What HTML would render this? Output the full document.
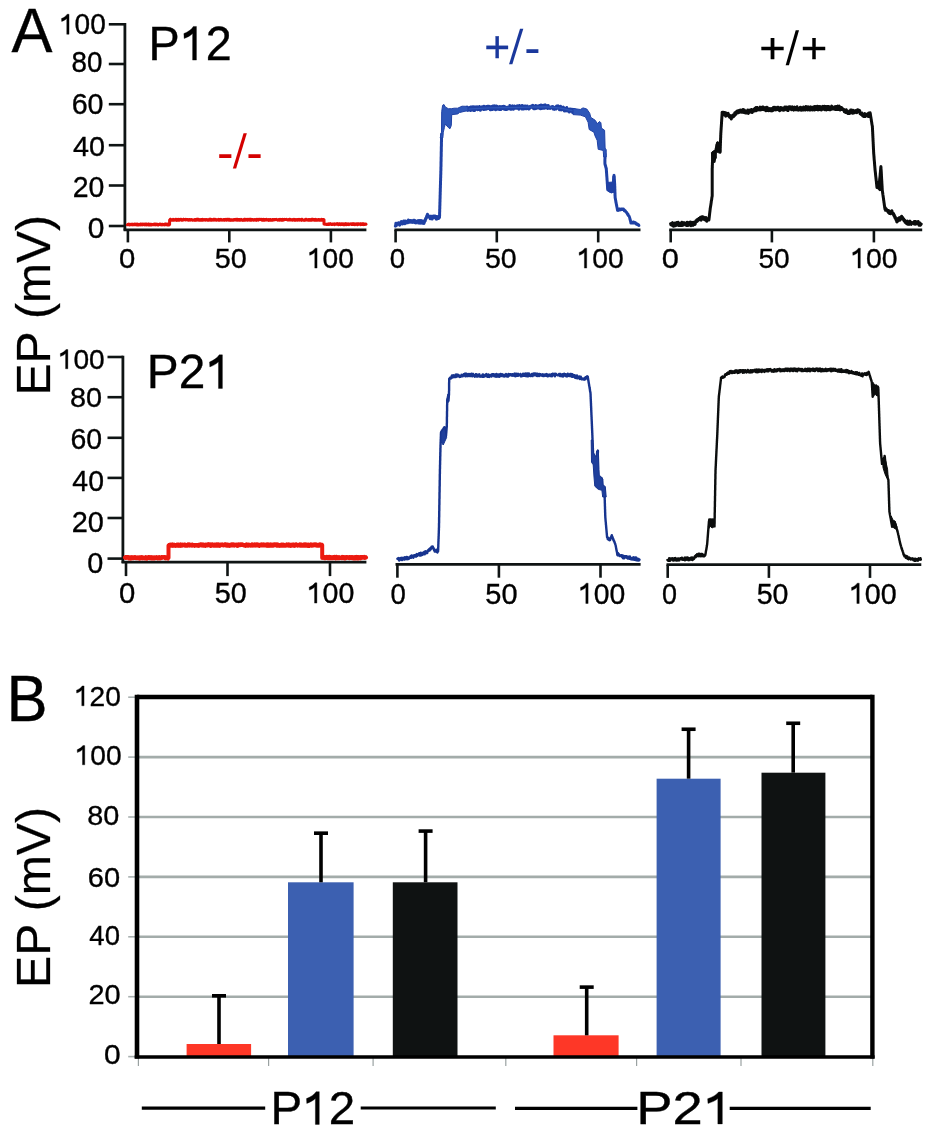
<!DOCTYPE html>
<html><head><meta charset="utf-8"><title>EP figure</title>
<style>
html,body{margin:0;padding:0;background:#fff;}
body{width:935px;height:1136px;overflow:hidden;}
svg{display:block;font-family:"Liberation Sans", sans-serif;will-change:transform;filter:blur(0.45px);}
</style></head>
<body>
<svg width="935" height="1136" viewBox="0 0 935 1136">
<rect width="935" height="1136" fill="#fff"/>
<g transform="translate(11.48,52.30) scale(0.9901,1.0292)"><text font-size="62" fill="#000" stroke="#000" stroke-width="0.35">A</text></g>
<text transform="translate(50.20,395.54) rotate(-90) scale(1.0013,1.0174)" font-size="48" fill="#000" stroke="#000" stroke-width="0.25">EP (mV)</text>
<line x1="124.9" y1="23.0" x2="124.9" y2="230.5" stroke="#0f1414" stroke-width="2.8" stroke-linecap="butt"/>
<line x1="108.8" y1="24.3" x2="124.9" y2="24.3" stroke="#0f1414" stroke-width="2.6" stroke-linecap="butt"/>
<line x1="108.8" y1="64.0" x2="124.9" y2="64.0" stroke="#0f1414" stroke-width="2.6" stroke-linecap="butt"/>
<line x1="108.8" y1="104.2" x2="124.9" y2="104.2" stroke="#0f1414" stroke-width="2.6" stroke-linecap="butt"/>
<line x1="108.8" y1="145.2" x2="124.9" y2="145.2" stroke="#0f1414" stroke-width="2.6" stroke-linecap="butt"/>
<line x1="108.8" y1="185.5" x2="124.9" y2="185.5" stroke="#0f1414" stroke-width="2.6" stroke-linecap="butt"/>
<line x1="108.8" y1="226.0" x2="124.9" y2="226.0" stroke="#0f1414" stroke-width="2.6" stroke-linecap="butt"/>
<g transform="translate(58.97,34.31) scale(0.9679,0.9936)"><text font-size="29" fill="#000" stroke="#000" stroke-width="0.35">&#8199;00</text><path d="M 359 0 L 359 -697 L 292 -697 C 255 -635 175 -582 90 -549 L 96 -447 C 170 -472 235 -508 277 -552 L 277 0 Z" fill="#000" stroke="#000" stroke-width="12.07" transform="translate(0.00,0) scale(0.0290)"/></g>
<g transform="translate(71.51,72.41) scale(0.9575,0.9887)"><text font-size="29" fill="#000" stroke="#000" stroke-width="0.35">80</text></g>
<g transform="translate(71.64,114.11) scale(0.9886,1.0082)"><text font-size="29" fill="#000" stroke="#000" stroke-width="0.35">60</text></g>
<g transform="translate(73.04,156.12) scale(0.9918,0.9790)"><text font-size="29" fill="#000" stroke="#000" stroke-width="0.35">40</text></g>
<g transform="translate(72.78,196.81) scale(0.9809,1.0033)"><text font-size="29" fill="#000" stroke="#000" stroke-width="0.35">20</text></g>
<g transform="translate(87.83,238.01) scale(1.0316,1.0082)"><text font-size="29" fill="#000" stroke="#000" stroke-width="0.35">0</text></g>
<line x1="123.6" y1="229.9" x2="366.4" y2="229.9" stroke="#0f1414" stroke-width="2.8" stroke-linecap="butt"/>
<line x1="127.9" y1="229.9" x2="127.9" y2="242.4" stroke="#0f1414" stroke-width="2.6" stroke-linecap="butt"/>
<line x1="229.3" y1="229.9" x2="229.3" y2="242.4" stroke="#0f1414" stroke-width="2.6" stroke-linecap="butt"/>
<line x1="330.9" y1="229.9" x2="330.9" y2="242.4" stroke="#0f1414" stroke-width="2.6" stroke-linecap="butt"/>
<line x1="394.4" y1="229.9" x2="640.5" y2="229.9" stroke="#0f1414" stroke-width="2.8" stroke-linecap="butt"/>
<line x1="395.6" y1="229.9" x2="395.6" y2="242.4" stroke="#0f1414" stroke-width="2.6" stroke-linecap="butt"/>
<line x1="496.8" y1="229.9" x2="496.8" y2="242.4" stroke="#0f1414" stroke-width="2.6" stroke-linecap="butt"/>
<line x1="598.2" y1="229.9" x2="598.2" y2="242.4" stroke="#0f1414" stroke-width="2.6" stroke-linecap="butt"/>
<line x1="669.2" y1="229.9" x2="922.2" y2="229.9" stroke="#0f1414" stroke-width="2.8" stroke-linecap="butt"/>
<line x1="670.7" y1="229.9" x2="670.7" y2="242.4" stroke="#0f1414" stroke-width="2.6" stroke-linecap="butt"/>
<line x1="771.9" y1="229.9" x2="771.9" y2="242.4" stroke="#0f1414" stroke-width="2.6" stroke-linecap="butt"/>
<line x1="873.9" y1="229.9" x2="873.9" y2="242.4" stroke="#0f1414" stroke-width="2.6" stroke-linecap="butt"/>
<g transform="translate(119.06,268.11) scale(1.0100,0.9838)"><text font-size="29" fill="#000" stroke="#000" stroke-width="0.35">0</text></g>
<g transform="translate(214.85,268.11) scale(0.9914,0.9838)"><text font-size="29" fill="#000" stroke="#000" stroke-width="0.35">50</text></g>
<g transform="translate(306.97,268.11) scale(0.9702,0.9838)"><text font-size="29" fill="#000" stroke="#000" stroke-width="0.35">&#8199;00</text><path d="M 359 0 L 359 -697 L 292 -697 C 255 -635 175 -582 90 -549 L 96 -447 C 170 -472 235 -508 277 -552 L 277 0 Z" fill="#000" stroke="#000" stroke-width="12.07" transform="translate(0.00,0) scale(0.0290)"/></g>
<g transform="translate(389.72,268.11) scale(0.9522,0.9838)"><text font-size="29" fill="#000" stroke="#000" stroke-width="0.35">0</text></g>
<g transform="translate(484.96,268.11) scale(0.9847,0.9838)"><text font-size="29" fill="#000" stroke="#000" stroke-width="0.35">50</text></g>
<g transform="translate(576.56,268.11) scale(0.9747,0.9838)"><text font-size="29" fill="#000" stroke="#000" stroke-width="0.35">&#8199;00</text><path d="M 359 0 L 359 -697 L 292 -697 C 255 -635 175 -582 90 -549 L 96 -447 C 170 -472 235 -508 277 -552 L 277 0 Z" fill="#000" stroke="#000" stroke-width="12.07" transform="translate(0.00,0) scale(0.0290)"/></g>
<g transform="translate(661.80,268.11) scale(1.0605,0.9838)"><text font-size="29" fill="#000" stroke="#000" stroke-width="0.35">0</text></g>
<g transform="translate(758.38,268.11) scale(0.9681,0.9838)"><text font-size="29" fill="#000" stroke="#000" stroke-width="0.35">50</text></g>
<g transform="translate(850.14,268.11) scale(0.9791,0.9838)"><text font-size="29" fill="#000" stroke="#000" stroke-width="0.35">&#8199;00</text><path d="M 359 0 L 359 -697 L 292 -697 C 255 -635 175 -582 90 -549 L 96 -447 C 170 -472 235 -508 277 -552 L 277 0 Z" fill="#000" stroke="#000" stroke-width="12.07" transform="translate(0.00,0) scale(0.0290)"/></g>
<g transform="translate(148.47,60.10) scale(0.9740,1.0059)"><text font-size="48" fill="#000" stroke="#000" stroke-width="0.35">P&#8199;2</text><path d="M 359 0 L 359 -697 L 292 -697 C 255 -635 175 -582 90 -549 L 96 -447 C 170 -472 235 -508 277 -552 L 277 0 Z" fill="#000" stroke="#000" stroke-width="7.29" transform="translate(32.02,0) scale(0.0480)"/></g>
<g transform="translate(217.11,168.96) scale(1.0374,1.0150)"><text font-size="48" fill="#d40000" stroke="#d40000" stroke-width="0">-</text></g>
<polygon points="243.55,133.2 246.85,133.2 236.15,168.6 232.85,168.6" fill="#d40000"/>
<g transform="translate(246.31,168.96) scale(1.0374,1.0150)"><text font-size="48" fill="#d40000" stroke="#d40000" stroke-width="0">-</text></g>
<g transform="translate(484.22,61.59) scale(0.9259,0.9202)"><text font-size="48" fill="#1a389c" stroke="#1a389c" stroke-width="0.3">+</text></g>
<polygon points="520.0,28.8 523.3,28.8 512.35,64.2 509.05,64.2" fill="#1a389c"/>
<g transform="translate(524.14,64.16) scale(1.0204,1.0150)"><text font-size="48" fill="#1a389c" stroke="#1a389c" stroke-width="0">-</text></g>
<g transform="translate(759.37,62.52) scale(0.9474,0.9032)"><text font-size="48" fill="#000" stroke="#000" stroke-width="0.3">+</text></g>
<polygon points="795.7,30.3 799.0,30.3 788.95,65.2 785.65,65.2" fill="#000"/>
<g transform="translate(800.77,62.52) scale(0.9474,0.9032)"><text font-size="48" fill="#000" stroke="#000" stroke-width="0.3">+</text></g>
<polyline points="127.3,224.8 127.6,224.8 127.9,224.5 128.2,224.3 128.5,224.0 128.8,224.7 129.1,224.5 129.4,224.8 129.7,224.4 130.0,224.8 130.3,224.3 130.6,224.8 130.9,224.7 131.2,224.4 131.5,224.5 131.8,224.7 132.1,224.2 132.4,224.6 132.7,224.8 133.0,224.3 133.3,224.8 133.6,224.7 133.9,224.8 134.2,224.3 134.5,224.1 134.8,224.8 135.1,224.8 135.4,224.4 135.7,224.1 136.0,224.2 136.3,224.6 136.6,224.3 136.9,225.0 137.2,224.6 137.5,224.2 137.8,224.7 138.1,224.4 138.4,224.9 138.7,224.9 139.0,224.5 139.3,224.6 139.6,224.7 139.9,224.8 140.2,225.0 140.5,224.0 140.8,224.4 141.1,224.6 141.4,224.3 141.7,224.6 142.0,224.1 142.3,224.9 142.6,224.5 142.9,224.1 143.2,224.7 143.5,224.3 143.8,224.2 144.1,224.5 144.4,224.1 144.7,224.2 145.0,224.9 145.3,224.7 145.6,224.0 145.9,224.8 146.2,224.0 146.5,224.3 146.8,224.9 147.1,224.6 147.4,224.3 147.7,224.4 148.0,224.4 148.3,224.1 148.6,225.0 148.9,224.1 149.2,224.4 149.5,224.7 149.8,224.4 150.1,225.0 150.4,224.2 150.7,225.0 151.0,224.9 151.3,224.7 151.6,224.9 151.9,224.4 152.2,224.8 152.5,224.8 152.8,224.5 153.1,224.5 153.4,224.7 153.7,224.4 154.0,224.1 154.3,224.7 154.6,224.3 154.9,224.5 155.2,224.8 155.5,224.2 155.8,224.0 156.1,224.1 156.4,224.6 156.7,224.4 157.0,224.3 157.3,224.5 157.6,224.9 157.9,224.3 158.2,224.4 158.5,224.9 158.8,224.6 159.1,224.3 159.4,224.5 159.7,224.5 160.0,224.1 160.3,224.4 160.6,224.3 160.9,224.8 161.2,224.3 161.5,224.7 161.8,225.0 162.1,224.9 162.4,224.4 162.7,224.6 163.0,224.3 163.3,224.4 163.6,224.5 163.9,224.8 164.2,224.9 164.5,224.3 164.8,224.0 165.1,224.4 165.4,224.1 165.7,224.0 166.0,224.8 166.3,224.1 166.6,224.7 166.9,224.4 167.2,224.9 167.5,224.9 167.8,224.1 168.1,224.2 168.4,224.9 168.7,224.6 169.0,224.4 169.3,224.8 169.6,224.5 169.6,224.2 169.6,223.9 169.6,223.6 169.6,223.2 169.6,222.9 169.6,222.6 169.6,222.3 169.6,222.0 169.6,221.7 169.6,221.4 169.6,221.1 169.6,220.7 169.6,220.4 169.6,220.1 169.6,219.9 169.9,220.0 170.2,219.4 170.5,220.1 170.8,219.4 171.1,219.9 171.4,220.2 171.7,220.2 172.0,220.2 172.3,219.8 172.6,220.0 172.9,220.1 173.2,219.4 173.5,220.2 173.8,220.2 174.1,219.7 174.4,220.1 174.7,219.7 175.0,219.6 175.3,220.0 175.6,219.4 175.9,220.1 176.2,220.3 176.5,219.6 176.8,220.2 177.1,219.4 177.4,220.2 177.7,219.6 178.0,220.3 178.3,219.7 178.6,220.2 178.9,219.3 179.2,219.4 179.5,220.1 179.8,219.9 180.1,219.8 180.4,219.3 180.7,219.5 181.0,219.7 181.3,219.4 181.6,220.3 181.9,220.1 182.2,220.2 182.5,220.0 182.8,219.6 183.1,219.4 183.4,220.0 183.7,219.4 184.0,219.8 184.3,219.8 184.6,219.8 184.9,219.4 185.2,219.4 185.5,219.8 185.8,219.3 186.1,219.8 186.4,219.5 186.7,219.6 187.0,219.5 187.3,219.9 187.6,219.7 187.9,219.5 188.2,219.5 188.5,219.9 188.8,220.2 189.1,219.7 189.4,219.5 189.7,219.6 190.0,219.5 190.3,219.9 190.6,220.1 190.9,219.9 191.2,219.5 191.5,219.6 191.8,219.7 192.1,219.7 192.4,219.7 192.7,220.3 193.0,219.9 193.3,220.0 193.6,220.0 193.9,219.9 194.2,220.1 194.5,219.7 194.8,220.0 195.1,220.3 195.4,219.5 195.7,219.9 196.0,219.7 196.3,219.4 196.6,219.3 196.9,220.1 197.2,219.4 197.5,220.0 197.8,219.4 198.1,219.7 198.4,219.3 198.7,219.8 199.0,220.1 199.3,219.5 199.6,219.9 199.9,220.2 200.2,219.6 200.5,219.8 200.8,220.0 201.1,220.2 201.4,219.5 201.7,220.0 202.0,219.4 202.3,219.4 202.6,220.3 202.9,219.4 203.2,220.2 203.5,220.1 203.8,220.0 204.1,220.0 204.4,220.0 204.7,219.6 205.0,219.7 205.3,219.5 205.6,220.2 205.9,220.1 206.2,220.1 206.5,219.5 206.8,219.9 207.1,219.6 207.4,220.1 207.7,220.0 208.0,220.3 208.4,220.0 208.7,220.0 209.0,220.1 209.3,219.4 209.6,219.9 209.9,219.3 210.2,219.7 210.5,219.4 210.8,220.2 211.1,219.3 211.4,220.2 211.7,220.2 212.0,219.7 212.3,220.1 212.6,219.4 212.9,219.4 213.2,219.3 213.5,219.4 213.8,219.3 214.1,220.1 214.4,219.4 214.7,219.9 215.0,219.6 215.3,219.4 215.6,219.7 215.9,219.5 216.2,220.3 216.5,219.7 216.8,219.9 217.1,219.9 217.4,219.9 217.7,219.8 218.0,219.6 218.3,219.4 218.6,220.2 218.9,219.5 219.2,219.7 219.5,220.1 219.8,219.9 220.1,220.2 220.4,220.1 220.7,219.8 221.0,219.4 221.3,219.9 221.6,219.8 221.9,220.2 222.2,219.8 222.5,220.0 222.8,220.1 223.1,219.8 223.4,220.1 223.7,220.2 224.0,219.5 224.3,220.2 224.6,220.2 224.9,220.2 225.2,219.6 225.5,219.6 225.8,219.4 226.1,219.7 226.4,220.2 226.7,219.7 227.0,219.3 227.3,219.6 227.6,219.4 227.9,219.9 228.2,220.1 228.5,220.2 228.8,219.4 229.1,219.7 229.4,219.4 229.7,220.2 230.0,220.1 230.3,219.8 230.6,220.3 230.9,219.8 231.2,220.1 231.5,219.8 231.8,219.7 232.1,220.3 232.4,220.1 232.7,219.9 233.0,220.2 233.3,219.9 233.6,220.1 233.9,219.4 234.2,219.4 234.5,219.4 234.8,219.9 235.1,220.0 235.4,219.5 235.7,219.8 236.0,219.4 236.3,220.0 236.6,220.1 236.9,219.4 237.2,220.3 237.5,220.0 237.8,219.4 238.1,219.7 238.4,219.5 238.7,220.0 239.0,220.2 239.3,219.5 239.6,219.5 239.9,219.9 240.2,220.2 240.5,220.0 240.8,219.8 241.1,219.4 241.4,219.9 241.7,219.8 242.0,220.1 242.3,219.9 242.6,220.0 242.9,220.3 243.2,219.9 243.5,220.2 243.8,219.6 244.1,219.3 244.4,220.2 244.7,219.3 245.0,220.3 245.3,219.8 245.6,219.4 245.9,219.6 246.2,220.0 246.5,219.7 246.8,219.9 247.1,219.4 247.4,220.1 247.7,219.7 248.0,220.1 248.3,219.4 248.6,220.0 248.9,219.8 249.2,219.7 249.5,219.3 249.8,219.8 250.1,220.1 250.4,219.4 250.7,219.7 251.0,219.3 251.3,220.3 251.6,220.3 251.9,220.0 252.2,219.8 252.5,219.4 252.8,219.4 253.1,220.0 253.4,220.1 253.7,220.3 254.0,220.2 254.3,219.7 254.6,219.6 254.9,219.8 255.2,219.6 255.5,219.8 255.8,220.2 256.1,219.8 256.4,220.3 256.7,220.0 257.0,219.3 257.3,220.0 257.6,220.0 257.9,219.9 258.2,219.3 258.5,220.2 258.8,219.8 259.1,219.8 259.4,219.5 259.7,219.3 260.0,219.3 260.3,219.5 260.6,219.6 260.9,219.5 261.2,219.4 261.5,220.0 261.8,220.0 262.1,220.2 262.4,219.5 262.7,220.0 263.0,219.9 263.3,219.4 263.6,220.2 263.9,219.7 264.2,219.5 264.5,219.5 264.8,220.2 265.1,219.5 265.4,219.7 265.7,219.8 266.0,219.7 266.3,220.0 266.6,219.4 266.9,219.7 267.2,219.9 267.5,219.9 267.8,219.9 268.1,219.6 268.4,219.9 268.7,220.3 269.0,219.8 269.3,219.9 269.6,220.1 269.9,219.6 270.2,219.6 270.5,220.3 270.8,219.6 271.1,219.7 271.4,219.7 271.7,220.3 272.0,219.8 272.3,220.2 272.6,219.5 272.9,219.6 273.2,219.9 273.5,219.6 273.8,220.0 274.1,219.8 274.4,219.4 274.7,219.4 275.0,219.7 275.3,219.8 275.6,219.5 275.9,219.6 276.2,219.3 276.5,219.6 276.8,219.6 277.1,219.7 277.4,219.9 277.7,220.2 278.0,220.0 278.3,220.0 278.6,219.6 278.9,219.8 279.2,220.0 279.5,220.2 279.8,219.5 280.1,219.3 280.4,219.4 280.7,219.8 281.0,220.2 281.3,219.5 281.6,220.1 281.9,219.9 282.2,220.2 282.5,220.2 282.8,219.4 283.1,220.1 283.4,219.4 283.7,219.4 284.0,219.7 284.3,219.8 284.6,219.4 284.9,219.6 285.2,219.5 285.6,219.4 285.9,219.4 286.2,219.3 286.5,219.5 286.8,219.6 287.1,219.7 287.4,220.0 287.7,219.9 288.0,219.8 288.3,219.6 288.6,219.9 288.9,219.5 289.2,219.5 289.5,219.4 289.8,220.0 290.1,219.4 290.4,219.5 290.7,219.7 291.0,219.9 291.3,219.9 291.6,219.9 291.9,219.9 292.2,219.5 292.5,220.2 292.8,220.0 293.1,219.7 293.4,219.7 293.7,219.9 294.0,219.4 294.3,219.9 294.6,220.2 294.9,219.7 295.2,219.8 295.5,219.6 295.8,220.2 296.1,219.7 296.4,219.7 296.7,220.0 297.0,219.7 297.3,220.2 297.6,219.7 297.9,219.9 298.2,219.6 298.5,219.9 298.8,219.8 299.1,219.4 299.4,220.2 299.7,219.5 300.0,219.9 300.3,220.0 300.6,219.8 300.9,219.6 301.2,219.8 301.5,220.3 301.8,219.3 302.1,220.2 302.4,219.9 302.7,219.8 303.0,219.9 303.3,219.9 303.6,220.1 303.9,220.3 304.2,219.8 304.5,219.7 304.8,219.7 305.1,220.2 305.4,219.8 305.7,219.4 306.0,219.9 306.3,219.4 306.6,219.6 306.9,220.0 307.2,219.9 307.5,219.8 307.8,220.1 308.1,219.9 308.4,220.3 308.7,220.1 309.0,219.6 309.3,220.1 309.6,219.7 309.9,220.2 310.2,219.9 310.5,219.7 310.8,219.5 311.1,220.1 311.4,219.7 311.7,219.3 312.0,220.1 312.3,219.3 312.6,219.3 312.9,219.3 313.2,219.9 313.5,219.9 313.8,219.8 314.1,220.2 314.4,219.8 314.7,219.5 315.0,220.3 315.3,219.4 315.6,219.3 315.9,219.5 316.2,220.3 316.5,219.7 316.8,219.7 317.1,219.7 317.4,219.7 317.7,220.1 318.0,219.9 318.3,219.6 318.6,219.5 318.9,220.1 319.2,219.9 319.5,219.8 319.8,219.5 320.1,220.3 320.4,219.8 320.7,220.2 321.0,220.0 321.3,219.9 321.6,219.3 321.9,220.2 322.2,220.2 322.5,219.4 322.8,219.4 323.1,220.0 323.4,220.0 323.7,219.5 324.0,219.8 324.0,220.1 324.0,220.4 324.0,220.7 324.0,221.1 324.0,221.4 324.0,221.7 324.0,222.0 324.0,222.3 324.0,222.6 324.0,222.9 324.0,223.3 324.0,223.6 324.0,223.9 324.0,223.7 324.3,223.8 324.6,224.2 324.9,223.9 325.2,223.9 325.5,224.1 325.8,224.3 326.1,224.4 326.4,224.3 326.7,224.2 327.0,224.1 327.3,224.6 327.6,224.6 327.9,224.6 328.2,224.6 328.5,224.4 328.8,223.9 329.1,224.4 329.4,224.0 329.7,224.0 330.0,224.1 330.3,223.7 330.6,224.1 330.9,223.9 331.2,223.9 331.5,224.1 331.8,224.5 332.1,224.4 332.4,224.0 332.7,224.4 333.0,224.1 333.3,224.1 333.6,224.1 333.9,224.0 334.2,223.9 334.5,224.7 334.8,224.3 335.1,224.4 335.4,224.3 335.7,224.2 336.0,224.3 336.3,223.7 336.6,223.8 336.9,224.2 337.2,224.2 337.5,223.7 337.8,223.9 338.1,224.0 338.4,224.7 338.7,224.5 339.0,223.7 339.3,224.1 339.6,224.1 339.9,223.8 340.2,224.0 340.5,224.7 340.8,224.6 341.1,224.0 341.4,224.5 341.7,223.8 342.0,224.3 342.3,223.8 342.6,224.3 342.9,224.3 343.2,224.7 343.5,224.3 343.8,224.6 344.1,223.9 344.4,224.3 344.7,223.9 345.0,223.8 345.3,224.7 345.6,223.7 345.9,224.1 346.2,224.0 346.5,223.9 346.8,224.6 347.1,224.5 347.4,224.1 347.7,224.3 348.0,224.5 348.3,223.8 348.6,224.4 348.9,224.6 349.2,224.3 349.5,224.2 349.8,223.9 350.1,223.9 350.4,223.9 350.7,224.1 351.0,224.0 351.3,224.5 351.6,223.9 351.9,223.8 352.2,224.5 352.5,224.2 352.8,223.8 353.1,224.5 353.4,223.7 353.7,224.1 354.0,224.1 354.3,224.2 354.6,223.9 354.9,224.6 355.2,224.3 355.5,224.0 355.8,224.3 356.1,224.1 356.4,224.3 356.7,224.3 357.0,223.9 357.3,224.6 357.6,223.8 357.9,224.6 358.2,224.1 358.5,224.2 358.8,223.8 359.1,224.2 359.4,224.0 359.7,224.3 360.0,224.4 360.3,223.8 360.6,223.8 360.9,224.6 361.2,223.9 361.5,224.4 361.8,224.4 362.1,224.5 362.4,223.7 362.7,224.3 363.0,224.5 363.3,223.7 363.6,223.7 363.9,224.6 364.2,224.4 364.5,224.4 364.8,224.5 365.1,224.3 365.4,223.9 365.7,223.9 366.0,224.2" fill="none" stroke="#e4100a" stroke-width="3.0" stroke-linejoin="round" stroke-linecap="round"/>
<polyline points="395.3,226.1 395.6,226.0 395.9,223.2 396.2,223.2 396.5,225.4 396.8,225.0 397.0,224.8 397.3,223.6 397.6,224.4 397.9,224.3 398.2,224.2 398.5,222.8 398.8,223.5 399.1,223.4 399.4,224.3 399.7,225.1 399.9,224.8 400.2,223.5 400.5,223.1 400.8,222.5 401.1,221.7 401.4,221.6 401.7,222.9 402.0,222.3 402.3,222.5 402.6,224.0 402.8,222.8 403.1,222.8 403.4,221.7 403.7,221.0 404.0,221.8 404.3,221.2 404.6,222.2 404.9,223.7 405.2,222.6 405.4,221.0 405.7,223.1 406.0,222.7 406.3,222.5 406.6,222.9 406.9,222.4 407.2,222.4 407.5,221.0 407.8,222.8 408.1,222.7 408.4,220.1 408.6,221.9 408.9,221.7 409.2,220.8 409.5,221.0 409.8,220.8 410.1,222.2 410.4,220.9 410.7,221.9 411.0,220.5 411.3,222.2 411.6,222.3 411.9,220.9 412.2,221.3 412.5,222.4 412.8,221.8 413.1,221.1 413.4,220.3 413.7,220.6 414.0,221.9 414.3,220.2 414.6,222.6 414.9,220.6 415.2,222.7 415.5,220.8 415.8,222.9 416.1,222.1 416.4,221.5 416.7,221.6 417.1,222.0 417.4,221.9 417.7,221.0 418.0,220.7 418.3,221.7 418.6,223.1 418.9,222.1 419.2,220.4 419.5,222.8 419.8,222.6 420.1,223.2 420.4,220.9 420.7,222.7 421.0,220.6 421.3,222.5 421.6,221.3 421.9,221.2 422.2,223.3 422.5,220.9 422.8,222.2 423.1,223.3 423.4,221.4 423.7,221.3 424.0,223.5 424.3,222.2 424.4,222.3 424.5,221.1 424.7,221.3 424.8,220.7 424.9,221.1 425.0,220.1 425.2,220.9 425.3,219.4 425.4,220.0 425.5,218.8 425.6,218.9 425.8,219.3 425.9,218.2 426.0,217.9 426.1,218.3 426.3,217.6 426.4,216.9 426.5,217.8 426.6,216.4 426.7,216.0 426.9,216.1 427.0,216.2 427.1,216.0 427.2,215.0 427.4,215.0 427.5,214.3 427.6,214.5 427.8,215.3 428.0,215.6 428.1,216.1 428.3,216.1 428.5,216.6 428.7,216.6 428.9,216.4 429.1,216.2 429.2,217.3 429.4,216.9 429.6,216.2 429.9,217.3 430.2,218.7 430.5,216.3 430.8,217.8 431.1,217.2 431.5,217.5 431.8,216.4 432.1,219.0 432.4,216.7 432.7,217.8 433.0,217.2 433.3,216.0 433.6,217.7 433.9,216.3 434.2,216.1 434.6,216.0 434.9,216.4 435.2,216.2 435.5,217.9 435.8,217.5 436.1,219.0 436.4,218.9 436.7,219.1 437.0,216.6 437.3,217.3 437.6,216.7 438.0,217.8 438.3,217.9 438.6,218.5 438.9,218.2 439.2,216.7 439.5,217.5 439.5,217.2 439.5,216.9 439.5,216.6 439.5,216.3 439.5,216.0 439.6,215.7 439.6,215.4 439.6,215.1 439.6,214.8 439.6,214.5 439.6,214.2 439.6,213.9 439.6,213.6 439.6,213.3 439.6,213.0 439.6,212.7 439.6,212.4 439.7,212.1 439.7,211.8 439.7,211.5 439.7,211.2 439.7,210.9 439.7,210.5 439.7,210.3 439.7,210.0 439.7,209.6 439.7,209.3 439.7,209.1 439.8,208.8 439.8,208.5 439.8,208.2 439.8,207.9 439.8,207.5 439.8,207.3 439.8,206.9 439.8,206.6 439.8,206.4 439.8,206.0 439.8,205.7 439.9,205.5 439.9,205.2 439.9,204.8 439.9,204.5 439.9,204.2 439.9,203.9 439.9,203.6 439.9,203.3 439.9,203.0 439.9,202.7 439.9,202.4 439.9,202.2 440.0,201.8 440.0,201.6 440.0,201.2 440.0,200.9 440.0,200.6 440.0,200.3 440.0,200.1 440.0,199.7 440.0,199.4 440.0,199.1 440.0,198.8 440.1,198.6 440.1,198.2 440.1,198.0 440.1,197.6 440.1,197.3 440.1,197.0 440.1,196.7 440.1,196.4 440.1,196.1 440.1,195.8 440.1,195.5 440.1,195.2 440.2,194.9 440.2,194.6 440.2,194.3 440.2,194.0 440.2,193.7 440.2,193.4 440.2,193.1 440.2,192.8 440.2,192.5 440.2,192.2 440.2,191.9 440.3,191.6 440.3,191.3 440.3,191.0 440.3,190.7 440.3,190.4 440.3,190.0 440.3,189.8 440.3,189.5 440.3,189.1 440.3,188.9 440.3,188.5 440.3,188.2 440.4,188.0 440.4,187.7 440.4,187.4 440.4,187.0 440.4,186.8 440.4,186.4 440.4,186.2 440.4,185.9 440.4,185.6 440.4,185.3 440.4,184.9 440.5,184.7 440.5,184.4 440.5,184.1 440.5,183.7 440.5,183.5 440.5,183.2 440.5,182.8 440.5,182.6 440.5,182.3 440.5,182.0 440.5,181.6 440.5,181.4 440.6,181.1 440.6,180.8 440.6,180.4 440.6,180.1 440.6,179.8 440.6,179.6 440.6,179.3 440.6,178.9 440.6,178.6 440.6,178.3 440.6,178.0 440.7,177.8 440.7,177.5 440.7,177.2 440.7,176.8 440.7,176.6 440.7,176.2 440.7,176.0 440.7,175.6 440.7,175.3 440.7,175.1 440.7,174.7 440.8,174.4 440.8,174.1 440.8,173.8 440.8,173.6 440.8,173.2 440.8,172.9 440.8,172.6 440.8,172.3 440.8,172.0 440.8,171.7 440.8,171.4 440.8,171.1 440.9,170.8 440.9,170.5 440.9,170.2 440.9,169.9 440.9,169.6 440.9,169.3 440.9,169.0 440.9,168.7 440.9,168.4 440.9,168.1 440.9,167.8 440.9,167.5 440.9,167.2 440.9,166.9 441.0,166.6 441.0,166.3 441.0,166.0 441.0,165.7 441.0,165.4 441.0,165.1 441.0,164.8 441.0,164.4 441.0,164.1 441.0,163.9 441.0,163.6 441.0,163.3 441.0,163.0 441.0,162.7 441.0,162.4 441.0,162.0 441.0,161.7 441.1,161.5 441.1,161.1 441.1,160.8 441.1,160.6 441.1,160.2 441.1,160.0 441.1,159.7 441.1,159.3 441.1,159.1 441.1,158.8 441.1,158.5 441.1,158.1 441.1,157.8 441.1,157.5 441.1,157.2 441.1,156.9 441.2,156.6 441.2,156.3 441.2,156.1 441.2,155.7 441.2,155.4 441.2,155.1 441.2,154.8 441.2,154.5 441.2,154.2 441.2,153.9 441.2,153.6 441.2,153.3 441.2,153.0 441.2,152.7 441.2,152.4 441.2,152.1 441.2,151.8 441.3,151.5 441.3,151.2 441.3,150.9 441.3,150.6 441.3,150.3 441.3,150.0 441.3,149.7 441.3,149.4 441.3,149.1 441.3,148.8 441.3,148.5 441.3,148.2 441.3,147.9 441.3,147.6 441.3,147.3 441.3,147.0 441.3,146.7 441.4,146.3 441.4,146.1 441.4,145.8 441.4,145.5 441.4,145.2 441.4,144.8 441.4,144.6 441.4,144.2 441.4,144.0 441.4,143.6 441.4,143.4 441.4,143.1 441.4,142.7 441.4,142.5 441.4,142.2 441.4,141.8 441.5,141.5 441.5,141.2 441.5,140.9 441.5,140.6 441.5,140.3 441.5,140.0 441.5,139.8 441.5,139.4 441.5,139.1 441.5,138.8 441.5,138.5 441.5,138.2 441.5,137.9 441.5,137.6 441.5,137.3 441.5,137.0 441.5,136.7 441.6,136.4 441.6,136.1 441.6,135.8 441.6,135.5 441.6,135.2 441.6,134.9 441.6,134.6 441.6,134.3 441.6,134.0" fill="none" stroke="#1f41a5" stroke-width="3.0" stroke-linejoin="round" stroke-linecap="round"/>
<polyline points="466.0,109.1 466.3,109.8 466.6,109.8 466.9,107.7 467.2,107.2 467.5,108.6 467.8,108.2 468.1,110.3 468.4,109.8 468.7,109.4 469.0,109.2 469.3,109.6 469.6,107.5 469.9,108.7 470.2,107.6 470.5,110.5 470.8,107.1 471.1,110.1 471.4,107.1 471.7,109.6 472.0,108.1 472.3,108.4 472.6,110.1 472.9,106.8 473.2,107.0 473.5,110.4 473.8,108.7 474.1,107.0 474.4,110.6 474.7,110.4 475.0,107.1 475.3,108.3 475.6,107.1 475.9,107.8 476.2,109.0 476.5,107.2 476.8,109.3 477.1,106.7 477.4,107.2 477.7,109.7 478.0,108.1 478.3,108.1 478.6,108.8 478.9,108.3 479.2,107.9 479.5,106.5 479.8,109.3 480.1,110.2 480.4,110.3 480.7,109.0 481.0,107.7 481.3,107.8 481.6,109.1 481.9,109.0 482.2,106.7 482.5,107.2 482.8,107.7 483.1,108.3 483.4,109.4 483.7,108.2 484.0,106.3 484.3,109.5 484.6,107.9 484.9,108.2 485.2,107.0 485.5,107.8 485.8,107.6 486.1,109.2 486.4,106.5 486.7,108.3 487.0,106.8 487.3,108.8 487.6,106.2 487.9,107.1 488.2,107.4 488.5,108.5 488.8,106.2 489.1,107.8 489.4,106.8 489.7,107.0 490.0,107.8 490.3,109.7 490.6,107.8 490.9,109.7 491.2,106.6 491.5,109.6 491.8,107.3 492.1,106.6 492.4,108.9 492.7,109.5 493.0,105.9 493.3,106.9 493.6,108.9 493.9,107.2 494.2,106.8 494.5,105.9 494.8,106.0 495.1,108.3 495.4,109.7 495.7,109.8 496.0,107.8 496.3,105.9 496.6,107.1 496.9,108.9 497.2,109.1 497.5,108.3 497.8,106.7 498.1,107.9 498.4,107.7 498.7,108.3 499.0,106.8 499.3,109.5 499.6,109.3 499.9,106.4 500.2,106.9 500.5,109.2 500.8,106.8 501.1,109.5 501.4,107.8 501.7,108.5 502.0,108.5 502.3,106.6 502.6,106.8 502.9,106.7 503.2,108.4 503.5,108.5 503.8,106.2 504.1,109.2 504.4,107.3 504.7,106.6 505.0,107.4 505.3,109.6 505.6,107.9 505.9,108.1 506.2,109.3 506.5,109.5 506.8,108.7 507.1,107.3 507.4,108.0 507.7,109.2 508.0,108.8 508.3,107.9 508.6,107.0 508.9,107.1 509.2,108.5 509.5,107.8 509.8,105.6 510.1,108.4 510.4,109.2 510.7,108.7 511.0,109.1 511.3,109.2 511.6,107.7 511.9,108.7 512.2,107.0 512.5,105.9 512.8,106.9 513.1,106.8 513.4,109.2 513.7,108.3 514.0,107.7 514.3,108.0 514.6,106.0 514.9,107.6 515.2,108.3 515.5,107.1 515.8,106.5 516.1,107.1 516.4,106.8 516.7,108.2 517.0,106.0 517.3,105.8 517.6,106.7 517.9,108.2 518.2,108.5 518.5,108.1 518.8,109.2 519.1,106.9 519.4,105.5 519.7,107.4 520.0,107.2 520.3,106.1 520.6,108.1 520.9,106.7 521.2,106.3 521.5,106.7 521.8,109.1 522.1,105.4 522.4,106.8 522.7,106.5 523.0,106.1 523.3,107.1 523.6,106.2 523.9,109.0 524.2,107.3 524.5,108.1 524.8,105.9 525.1,107.1 525.4,107.7 525.7,108.6 526.0,106.3 526.3,107.1 526.6,108.7 526.9,108.6 527.2,106.1 527.5,107.4 527.8,108.3 528.1,106.8 528.4,107.9 528.7,107.8 529.0,109.1 529.3,107.4 529.6,107.9 529.9,106.6 530.2,108.1 530.5,106.4 530.8,107.1 531.1,106.6 531.4,106.4 531.7,105.7 532.0,106.0 532.3,107.3 532.7,106.1 533.0,105.3 533.3,108.3 533.6,106.2 533.9,108.8 534.2,107.5 534.5,106.6 534.8,108.5 535.1,108.6 535.4,106.3 535.7,105.5 536.0,107.6 536.3,108.4 536.6,107.4 536.9,108.1 537.2,106.6 537.5,107.5 537.8,106.0 538.1,106.6 538.4,106.5 538.7,106.5 539.0,106.5 539.3,108.2 539.6,105.6 539.9,105.7 540.2,105.9 540.5,108.8 540.8,107.0 541.1,105.1 541.4,108.2 541.7,108.4 542.0,108.2 542.3,106.3 542.6,107.8 542.9,106.1 543.2,105.4 543.5,108.3 543.8,108.2 544.1,105.7 544.4,108.3 544.7,104.9 545.0,106.0 545.3,104.9 545.6,105.5 545.9,105.5 546.2,107.8 546.5,106.1 546.8,105.7 547.1,105.7 547.4,106.2 547.7,108.5 548.0,107.5 548.3,105.5 548.6,107.8 548.9,107.3 549.2,106.9 549.5,107.3 549.8,107.8 550.1,108.4 550.4,107.3 550.7,107.8 551.0,107.1 551.3,107.8 551.6,106.9 551.9,107.0 552.2,107.4 552.5,108.3 552.8,106.5 553.1,109.1 553.4,107.4 553.7,108.9 554.0,108.3 554.3,109.4 554.6,108.3 554.9,107.3 555.2,107.2 555.5,108.1 555.8,108.7 556.1,109.0 556.4,106.2 556.7,106.0 557.0,106.2 557.3,106.1 557.6,106.0 557.9,105.9 558.2,106.9 558.5,106.3 558.8,108.6 559.1,108.4 559.4,109.8 559.7,109.8 560.0,109.0 560.3,109.8 560.6,106.3 560.9,107.1 561.2,109.9 561.5,108.2 561.8,107.2 562.1,109.5 562.4,108.2 562.6,108.8 562.9,107.9 563.2,107.7 563.5,107.2 563.8,109.3 564.1,110.7 564.4,110.9 564.7,110.1 565.0,110.8 565.3,108.6 565.6,108.4 565.9,110.9 566.2,109.7 566.5,110.1 566.8,107.6 567.1,108.5 567.4,109.5 567.6,110.6 567.9,111.0 568.2,110.8 568.5,109.3 568.8,109.5 569.1,111.4 569.4,112.0 569.7,110.1 570.0,109.0 570.3,110.8 570.6,110.5 570.9,109.9 571.2,109.4 571.5,110.1 571.8,111.0 572.1,109.2 572.4,110.9 572.6,112.5 572.9,111.8 573.2,109.9 573.5,110.7 573.8,109.5 574.1,112.0 574.4,111.7 574.7,110.0 575.0,111.3" fill="none" stroke="#1f41a5" stroke-width="3.0" stroke-linejoin="round" stroke-linecap="round"/>
<polyline points="466.0,109.2 475.0,108.6 490.0,107.9 520.0,107.4 545.0,106.8 560.0,108.0 575.0,111.3" fill="none" stroke="#2e57b9" stroke-width="1.4" stroke-linejoin="round" stroke-linecap="round"/>
<polyline points="605.0,154.0 605.0,154.3 605.0,154.6 605.0,154.9 605.0,155.2 605.0,155.5 605.0,155.8 605.0,156.1 605.0,156.5 605.0,156.8 605.0,157.1 605.0,157.4 605.0,157.7 605.0,158.0 605.0,158.3 605.0,158.6 604.9,158.9 604.9,159.2 604.9,159.5 604.9,159.8 604.9,160.1 604.9,160.4 604.9,160.7 604.9,161.0 604.9,161.4 604.9,161.7 604.9,162.0 604.9,162.3 604.9,162.6 604.9,162.9 604.9,163.2 604.9,163.6 605.0,163.7 605.0,164.2 605.1,164.5 605.2,164.7 605.3,164.9 605.3,165.4 605.4,165.6 605.5,165.8 605.6,166.0 605.6,166.5 605.7,166.6 605.8,167.2 605.9,167.3 605.9,167.6 606.0,167.9 606.1,168.3 606.2,168.6 606.2,168.7 606.3,169.1 606.3,169.4 606.3,169.7 606.4,170.0 606.4,170.3 606.4,170.6 606.4,170.9 606.4,171.2 606.5,171.5 606.5,171.8 606.5,172.1 606.5,172.4 606.6,172.7 606.6,173.0 606.6,173.3 606.6,173.6 606.6,173.9 606.7,174.2 606.7,174.5 606.7,174.8 606.7,175.1 606.7,175.4 606.8,175.7 606.8,176.0 606.8,176.3 606.8,176.6 606.9,176.9 606.9,177.2 606.9,177.5 606.9,177.8 606.9,178.1 607.0,178.4 607.0,178.7 607.0,179.0 607.0,179.3 607.0,179.6 607.1,179.9 607.1,180.2 607.1,180.5 607.1,180.8 607.2,181.1 607.2,181.4 607.2,181.7 607.2,182.0 607.2,182.3 607.3,182.6 607.3,182.9 607.3,183.2 607.3,183.5 607.3,183.8 607.4,184.1 607.4,184.4 607.4,184.7 607.4,185.0 607.4,185.3 607.5,185.6 607.5,185.9 607.5,186.2 607.5,186.5 607.5,186.8 607.5,187.1 607.6,187.4 607.6,187.7 607.6,188.0 607.6,188.3 607.6,188.6 607.7,188.9 607.7,189.2 607.7,189.5 608.0,189.3 608.2,189.6 608.5,190.2 608.8,190.5 609.1,190.6 609.3,189.9 609.6,190.4 609.9,191.1 610.1,190.4 610.4,190.7 610.7,191.1 611.0,191.2 611.2,191.7 611.5,191.7 611.6,191.3 611.6,190.9 611.7,190.6 611.8,190.4 611.9,190.0 612.0,189.9 612.0,189.5 612.1,189.4 612.2,189.0 612.2,188.6 612.3,188.4 612.4,188.1 612.5,187.7 612.5,187.5 612.6,187.1 612.7,187.0 612.8,186.5 612.8,186.4 612.9,186.2 613.0,185.9 613.1,185.4 613.1,185.2 613.2,184.8 613.3,184.6 613.3,184.3 613.3,184.0 613.4,183.6 613.4,183.4 613.4,183.1 613.4,182.8 613.5,182.5 613.5,182.2 613.5,181.9 613.5,181.6 613.5,181.3 613.6,181.0 613.6,180.6 613.6,180.3 613.6,180.0 613.7,179.8 613.7,179.4 613.7,179.2 613.7,178.9 613.8,178.6 613.8,178.2 613.8,177.9 613.8,177.7 613.8,177.3 613.9,177.0 613.9,176.7 613.9,176.4 613.9,176.1 614.0,175.8 614.0,175.5 614.0,175.2 614.0,175.5 614.0,175.8 614.1,176.1 614.1,176.4 614.1,176.7 614.1,177.0 614.2,177.3 614.2,177.6 614.2,177.9 614.2,178.3 614.2,178.6 614.3,178.9 614.3,179.2 614.3,179.4 614.3,179.7 614.4,180.0 614.4,180.4 614.4,180.7 614.4,181.0 614.5,181.3 614.5,181.6 614.5,181.9 614.5,182.2 614.5,182.5 614.6,182.8 614.6,183.1 614.6,183.4 614.6,183.7 614.7,184.0 614.7,184.3 614.7,184.6 614.7,184.9 614.7,185.2 614.7,185.5 614.7,185.8 614.7,186.1 614.8,186.4 614.8,186.7 614.8,187.0 614.8,187.3 614.8,187.6 614.8,187.9 614.8,188.2 614.8,188.5 614.8,188.8 614.8,189.1 614.9,189.4 614.9,189.8 614.9,190.1 614.9,190.3 614.9,190.6 614.9,191.0 614.9,191.3 614.9,191.5 614.9,191.8 614.9,192.1 614.9,192.5 615.0,192.8 615.0,193.0 615.0,193.4 615.0,193.7 615.0,194.0 615.0,194.3 615.0,194.6 615.0,194.9 615.0,195.2 615.0,195.5 615.1,195.8 615.1,196.1 615.1,196.4 615.1,196.7 615.1,197.0 615.1,197.2 615.2,197.7 615.2,198.0 615.3,198.3 615.3,198.5 615.4,198.8 615.4,199.1 615.5,199.4 615.5,199.7 615.6,200.1 615.7,200.5 615.7,200.7 615.8,201.0 615.8,201.4 615.9,201.7 615.9,201.9 616.0,202.4 616.0,202.6 616.1,202.9 616.2,203.1 616.2,203.6 616.3,203.9 616.3,204.1 616.4,204.4 616.5,204.7 616.5,205.0 616.6,205.3 616.6,205.7 616.7,206.0 616.8,206.3 616.8,206.5 616.9,206.9 617.0,207.2 617.0,207.4 617.1,207.8 617.1,208.1 617.2,208.4 617.3,208.7 617.3,208.9 617.4,209.3 617.4,209.6 617.5,210.3 617.8,209.7 618.1,210.4 618.4,209.9 618.7,209.4 619.0,209.6 619.3,209.2 619.6,209.9 619.9,209.1 620.2,209.7 620.5,209.3 620.8,209.8 621.1,209.0 621.4,209.6 621.7,209.6 622.0,209.0 622.3,208.9 622.6,209.1 622.9,209.4 623.2,209.0 623.4,209.0 623.6,209.6 623.9,210.1 624.1,209.8 624.3,210.7 624.5,210.5 624.7,210.4 625.0,210.6 625.2,211.1 625.4,211.4 625.6,211.3 625.8,211.5 626.0,212.0 626.3,212.1 626.5,212.4 626.7,212.7 626.9,213.1 627.0,213.3 627.2,213.3 627.4,213.5 627.5,214.2 627.7,213.9 627.9,214.2 628.0,214.4 628.2,215.2 628.3,215.3 628.5,215.8 628.7,215.8 628.8,215.9 629.0,216.2 629.2,216.6 629.3,216.6 629.5,217.1 629.6,217.3 629.6,217.5 629.7,217.8 629.8,218.2 629.9,218.4 629.9,218.9 630.0,219.2 630.1,219.4 630.2,219.8 630.2,220.0 630.3,220.3 630.4,220.4 630.5,221.0 630.5,221.2 630.6,221.4 630.7,221.7 630.8,221.9 630.8,222.3 630.9,223.0 631.2,222.5 631.5,222.3 631.9,222.7 632.2,223.0 632.5,222.2 632.8,222.3 633.1,222.8 633.4,222.0 633.8,223.0 634.1,222.4 634.4,222.9 634.7,222.7 634.9,222.6 635.2,222.6 635.5,222.9 635.7,223.2 636.0,223.9 636.3,224.1 636.5,224.1 636.8,223.9 637.0,224.4 637.3,224.6 637.6,224.4 637.8,224.3 638.1,224.9 638.4,224.8 638.6,224.9 638.9,225.4" fill="none" stroke="#1f41a5" stroke-width="3.0" stroke-linejoin="round" stroke-linecap="round"/>
<polygon points="440.2,138.0 441.5,132.2 441.7,111.7 442.6,105.3 444.0,104.5 445.3,107.0 448.3,108.7 451.3,108.7 454.2,108.2 457.7,108.2 462.0,106.2 468.0,106.4 468.0,111.2 466.2,110.9 459.4,112.6 457.7,113.9 451.7,114.7 451.3,125.5 450.0,128.7 448.3,127.5 445.3,124.0 444.4,127.5 443.3,132.2 442.8,138.0" fill="#2e57b9" stroke="#1f41a5" stroke-width="1.0" stroke-linejoin="round"/>
<polygon points="573.0,108.4 580.3,109.5 583.0,107.9 586.8,109.0 589.7,113.2 590.8,117.4 595.1,120.2 597.4,123.6 599.6,121.4 600.9,122.8 601.4,128.1 604.6,130.3 605.1,148.1 606.2,149.7 606.2,157.0 603.7,157.0 603.2,150.4 598.2,149.3 597.2,140.4 595.1,136.0 593.9,132.2 589.2,129.5 588.1,122.3 585.4,116.8 580.3,115.1 573.0,114.6" fill="#2e57b9" stroke="#1f41a5" stroke-width="1.0" stroke-linejoin="round"/>
<polygon points="607.0,182.5 612.6,182.0 613.0,176.0 614.8,176.0 615.0,192.0 611.5,192.8 607.4,190.6" fill="#1f41a5" stroke="#1f41a5" stroke-width="1.0" stroke-linejoin="round"/>
<polyline points="670.6,223.7 670.9,224.8 671.2,224.2 671.5,225.0 671.8,225.1 672.1,222.9 672.4,222.7 672.7,225.8 673.0,223.6 673.3,223.5 673.6,226.3 673.9,224.3 674.2,225.6 674.5,224.3 674.8,224.8 675.1,223.0 675.4,224.8 675.7,225.6 676.0,224.3 676.3,225.1 676.6,224.8 676.9,222.5 677.2,225.1 677.5,224.4 677.9,223.3 678.2,222.2 678.5,225.4 678.8,223.9 679.1,224.8 679.4,225.3 679.7,224.7 680.0,225.5 680.3,223.4 680.6,224.9 680.9,223.6 681.2,225.4 681.5,225.2 681.8,222.2 682.1,222.3 682.4,222.6 682.7,225.4 683.0,223.3 683.3,224.0 683.6,222.8 683.9,223.5 684.2,223.0 684.5,222.9 684.8,223.7 685.1,223.7 685.4,225.0 685.7,224.1 686.0,225.1 686.3,224.8 686.6,225.4 686.9,224.2 687.2,222.3 687.6,225.0 687.9,225.4 688.2,225.2 688.5,223.9 688.8,224.5 689.1,222.6 689.4,225.0 689.7,224.0 690.0,223.0 690.3,222.1 690.6,225.2 690.9,225.7 691.2,222.3 691.5,225.0 691.8,223.6 692.2,222.6 692.5,223.2 692.8,225.0 693.1,225.4 693.4,222.3 693.7,224.5 694.0,222.4 694.3,224.6 694.5,223.5 694.7,224.5 694.9,224.5 695.1,223.2 695.2,224.1 695.4,222.2 695.6,221.4 695.8,222.4 696.0,220.8 696.2,221.0 696.4,221.2 696.6,221.5 696.7,220.2 696.9,219.7 697.1,221.4 697.3,219.8 697.5,221.1 697.7,220.7 697.9,219.3 698.1,219.2 698.2,219.1 698.4,219.2 698.6,218.8 698.8,218.5 699.0,218.6 699.3,219.8 699.6,218.2 699.9,218.0 700.2,219.1 700.5,217.3 700.8,217.6 701.1,220.2 701.5,218.6 701.8,218.7 702.1,216.7 702.4,218.3 702.7,219.0 703.0,216.9 703.3,219.2 703.6,219.3 703.9,217.2 704.2,219.4 704.5,218.9 704.8,219.8 705.1,218.6 705.4,220.0 705.7,220.2 706.0,217.6 706.2,217.8 706.5,220.2 706.8,221.3 707.1,218.7 707.4,219.6 707.7,220.2 708.0,219.2 708.3,219.5 708.6,219.3 708.9,220.0 708.9,219.8 709.0,219.4 709.0,219.1 709.0,219.0 709.1,218.4 709.1,218.3 709.1,218.1 709.2,217.6 709.2,217.3 709.3,217.2 709.3,216.7 709.3,216.3 709.4,216.1 709.4,215.9 709.4,215.4 709.5,215.2 709.5,214.9 709.5,214.8 709.6,214.3 709.6,214.2 709.6,213.6 709.7,213.4 709.7,213.2 709.7,213.0 709.8,212.5 709.8,212.1 709.8,211.8 709.9,211.6 709.9,211.2 710.0,211.2 710.0,210.9 710.0,210.3 710.1,210.0 710.1,209.9 710.1,209.6 710.2,209.3 710.2,208.8 710.2,208.4 710.3,208.2 710.3,208.2 710.4,207.6 710.4,207.3 710.5,207.1 710.5,206.8 710.6,206.4 710.6,206.4 710.7,205.7 710.7,205.3 710.7,205.6 710.8,205.2 710.8,205.0 710.9,204.4 710.9,204.4 711.0,204.0 711.0,203.3 711.1,203.3 711.1,203.1 711.2,202.7 711.2,202.3 711.2,201.9 711.3,201.6 711.3,201.2 711.4,200.9 711.4,200.9 711.5,200.4 711.5,200.4 711.6,199.6 711.6,199.8 711.7,199.4 711.7,199.2 711.7,198.9 711.8,198.6 711.8,198.1 711.9,197.5 711.9,197.6 712.0,197.0 712.0,196.8 712.1,196.7 712.1,196.3 712.2,196.0 712.2,195.7 712.2,195.4 712.2,195.1 712.2,194.8 712.2,194.5 712.2,194.2 712.2,193.9 712.2,193.6 712.2,193.3 712.2,193.0 712.2,192.7 712.2,192.4 712.2,192.1 712.2,191.8 712.2,191.5 712.2,191.1 712.2,190.8 712.2,190.5 712.2,190.2 712.2,189.9 712.2,189.6 712.2,189.3 712.2,189.0 712.2,188.7 712.2,188.4 712.2,188.1 712.2,187.8 712.2,187.5 712.2,187.2 712.2,186.9 712.2,186.6 712.2,186.3 712.2,186.0 712.2,185.7 712.2,185.4 712.2,185.1 712.2,184.8 712.2,184.5 712.2,184.2 712.2,183.9 712.2,183.6 712.2,183.3 712.2,183.0 712.2,182.7 712.2,182.3 712.2,182.0 712.2,181.7 712.2,181.4 712.2,181.1 712.2,180.8 712.2,180.5 712.2,180.2 712.2,179.9 712.2,179.6 712.2,179.3 712.2,179.0 712.2,178.7 712.2,178.4 712.2,178.1 712.2,177.8 712.2,177.5 712.2,177.2 712.2,176.9 712.2,176.6 712.2,176.3 712.2,176.0 712.2,175.7 712.2,175.4 712.2,175.1 712.2,174.8 712.2,174.5 712.2,174.2 712.2,173.9 712.2,173.5 712.2,173.2 712.2,172.9 712.2,172.6 712.2,172.3 712.2,172.0 712.2,171.7 712.2,171.4 712.2,171.1 712.2,170.8 712.2,170.5 712.2,170.2 712.2,169.9 712.2,169.6 712.2,169.3 712.2,168.9 712.2,168.6 712.2,168.3 712.2,168.2 712.3,167.8 712.3,167.4 712.3,167.2 712.3,166.8 712.3,166.6 712.3,166.3 712.3,166.0 712.3,165.8 712.3,165.4 712.4,165.1 712.4,164.7 712.4,164.5 712.4,164.2 712.4,163.9 712.4,163.5 712.4,163.3 712.4,163.1 712.4,162.6 712.5,162.4 712.5,162.1 712.5,161.8 712.5,161.5 712.5,161.2 712.5,160.9 712.5,160.6 712.5,160.3 712.6,160.0 712.6,159.7 712.6,159.4 712.6,159.1 712.6,158.8 712.6,158.4 712.6,158.2 712.6,158.0 712.6,157.6 712.7,157.3 712.7,157.0 712.7,156.7 712.7,156.4 712.7,156.1 712.7,155.8 712.7,155.5 712.7,155.2 712.7,155.0 712.8,154.5 712.8,154.2 712.8,154.0 712.8,153.8 712.8,153.4 712.9,153.7 712.9,154.2 713.0,154.1 713.0,154.5 713.1,154.7 713.1,155.3 713.2,155.4 713.2,155.7 713.3,156.3 713.3,156.7 713.4,156.6 713.4,157.2 713.5,157.3 713.6,157.9 713.6,158.0 713.7,158.1 713.7,158.4 713.8,158.6 713.8,159.2 713.9,159.4 713.9,159.6 714.0,160.0 714.0,160.3 714.1,160.9 714.1,160.8 714.2,161.6 714.2,161.0 714.3,160.7 714.3,160.4 714.4,160.3 714.4,159.9 714.5,159.5 714.5,159.1 714.5,159.0 714.6,158.7 714.6,158.2 714.7,158.1 714.7,157.9 714.8,157.3 714.8,156.9 714.9,156.6 714.9,156.5 714.9,156.2 715.0,156.0 715.0,155.7 715.1,155.0 715.1,154.7 715.2,154.4 715.2,154.1 715.2,154.0 715.3,153.8 715.3,153.5 715.4,152.9 715.4,152.9 715.5,152.3 715.5,152.0 715.6,152.0 715.6,151.2 715.7,150.9 715.8,151.2 715.8,150.4 715.9,150.2 716.0,150.1 716.0,149.8 716.1,149.0 716.1,149.0 716.2,148.7 716.3,148.5 716.3,148.0 716.4,148.0 716.5,148.0 716.5,147.2 716.6,147.0 716.7,146.4 716.7,146.2 716.8,146.2 716.9,145.5 716.9,145.8 717.0,145.5 717.0,144.6 717.1,145.0 717.2,144.2 717.2,144.2 717.3,143.9 717.4,143.2 717.4,143.2 717.5,143.0 717.6,143.4 717.7,143.1 717.7,143.9 717.8,144.4 717.9,144.4 718.0,144.6 718.1,144.4 718.1,145.1 718.2,145.3 718.3,145.9 718.4,146.2 718.5,146.4 718.6,146.3 718.6,147.0 718.7,147.3 718.8,147.1 718.9,148.1 719.0,148.2 719.0,147.9 719.1,149.1 719.2,148.5 719.3,149.0 719.4,149.7 719.5,149.9 719.5,150.1 719.6,150.5 719.7,150.6 719.8,150.7 719.9,150.9 719.9,151.1 720.0,152.0 720.1,152.1 720.1,151.8 720.1,151.5 720.1,151.2 720.1,150.9 720.2,150.6 720.2,150.3 720.2,149.9 720.2,149.7 720.2,149.3 720.2,149.1 720.2,148.7 720.2,148.4 720.2,148.1 720.3,147.9 720.3,147.6 720.3,147.2 720.3,147.0 720.3,146.6 720.3,146.3 720.3,146.0 720.3,145.7 720.4,145.5 720.4,145.2 720.4,144.8 720.4,144.5 720.4,144.2 720.4,143.9 720.4,143.7 720.4,143.3 720.4,143.0 720.5,142.6 720.5,142.4 720.5,142.0 720.5,141.8 720.5,141.5 720.5,141.1 720.5,140.8 720.5,140.6 720.5,140.2 720.6,140.0 720.6,139.7 720.6,139.4 720.6,139.0 720.6,138.8 720.6,138.5 720.6,138.2 720.6,137.9 720.7,137.6 720.7,137.2 720.7,137.0 720.7,136.6 720.7,136.3 720.7,136.1 720.7,135.7 720.7,135.5 720.7,135.1 720.8,134.8 720.8,134.5 720.8,134.2 720.8,133.9 720.8,133.6 720.8,133.2 720.8,133.0 720.9,132.7 720.9,132.4 720.9,132.1 720.9,131.9 720.9,131.6 721.0,131.1 721.0,131.0 721.0,130.6 721.0,130.2 721.0,130.0 721.1,129.6 721.1,129.3 721.1,129.1 721.1,128.9 721.1,128.5 721.2,128.3 721.2,127.9 721.2,127.5 721.2,127.4 721.2,127.0 721.3,126.8 721.3,126.5 721.3,126.2 721.3,125.8 721.3,125.6 721.4,125.3 721.4,125.0 721.4,124.6 721.4,124.4 721.4,124.0 721.5,123.6 721.5,123.3 721.5,123.0 721.5,122.7 721.5,122.4 721.5,122.2 721.6,121.9 721.6,121.6 721.6,121.3 721.6,121.0 721.6,120.7 721.7,120.4 721.7,120.2 721.7,119.8 721.7,119.4 721.7,119.3 721.8,119.0 721.8,118.6 721.8,118.3 721.8,118.0 721.8,117.7 721.9,117.3 721.9,117.0 721.9,116.7 721.9,116.6 721.9,116.1 722.0,115.9 722.0,115.5 722.0,115.2 722.0,114.9 722.0,114.7 722.1,114.3 722.1,114.0 722.1,112.3 722.4,112.6 722.7,113.9 723.0,112.3 723.3,112.3 723.6,113.9 723.9,113.8 724.2,115.0 724.5,112.6 724.8,114.0 725.1,114.0 725.4,112.7 725.7,116.2 726.0,113.5 726.3,113.1 726.6,114.6 726.9,113.5 727.2,115.3 727.5,114.3 727.8,113.5 728.1,113.3 728.4,115.9 728.7,114.5 728.9,116.1 729.1,115.4 729.4,116.9 729.6,115.4 729.8,115.5 730.0,115.8 730.2,117.5 730.4,117.2 730.6,116.6 730.9,116.2 731.1,118.0 731.3,119.0 731.5,117.7 731.7,115.9 731.9,115.8 732.2,115.7 732.4,115.7 732.6,115.2 732.8,115.0 733.0,116.4 733.2,116.9 733.4,114.8 733.6,116.6 733.9,115.1 734.1,115.7 734.3,115.8 734.5,115.7 734.7,113.0 734.9,113.6 735.1,114.2 735.3,114.9 735.6,112.3 735.8,112.7 736.0,114.0 736.2,111.8 736.4,112.3 736.6,111.9 736.8,112.6 737.0,113.1 737.3,110.9 737.5,112.2 737.7,111.9 737.9,112.4 738.2,111.3 738.5,112.7 738.8,110.6 739.1,110.8 739.4,110.2 739.7,112.3 740.0,111.2 740.3,110.4 740.6,110.0 741.0,112.1 741.3,111.7 741.6,112.1 741.9,110.9 742.2,111.3 742.5,110.1 742.8,112.2 743.1,109.6 743.4,111.3 743.7,112.4 744.0,112.1 744.3,109.9 744.6,110.5 744.9,112.8 745.2,112.1 745.5,113.0 745.8,113.0 746.1,111.4 746.4,113.1 746.7,112.5 747.1,111.0 747.4,111.2 747.7,110.1 748.0,111.3 748.3,113.4 748.6,110.2 748.9,112.0 749.2,110.3 749.5,110.2 749.8,112.3 750.1,110.8 750.4,110.0 750.7,110.2 750.9,111.8 751.2,111.5 751.5,109.4 751.8,110.0 752.1,112.5 752.4,109.8 752.7,110.8 752.9,110.2 753.2,111.4 753.5,110.6 753.8,111.2 754.1,110.2 754.4,108.8 754.7,108.7 754.9,108.2 755.2,110.7 755.5,108.1 755.8,107.7 756.1,110.8 756.4,108.0 756.7,110.4 756.9,107.4 757.2,108.6 757.5,107.6 757.8,109.8 758.1,108.9 758.4,109.1 758.7,109.5 759.0,110.0 759.3,108.0 759.6,109.0 759.9,108.4 760.2,107.1 760.5,109.9 760.8,109.0 761.1,109.8 761.4,107.5 761.7,108.8 762.0,108.5 762.3,109.5 762.6,107.1 762.9,108.1 763.2,108.6 763.5,107.1 763.8,108.9 764.1,109.6 764.4,108.4 764.7,109.3 765.0,109.2 765.3,107.7 765.6,108.2 765.9,110.7 766.2,108.2 766.5,108.5 766.8,107.2 767.1,107.8 767.4,107.6 767.7,110.5 768.0,109.7 768.3,110.3 768.6,110.7 768.9,109.3 769.2,110.5 769.5,109.1 769.8,108.6 770.1,110.6 770.4,110.5 770.7,110.7 771.0,108.9 771.3,110.0 771.6,108.6 771.9,110.9 772.2,110.6 772.5,108.2 772.8,110.6 773.1,107.8 773.4,107.4 773.7,109.8 774.0,108.2 774.3,109.0 774.6,109.5 774.9,107.2 775.2,109.9 775.5,108.1 775.8,108.7 776.1,108.3 776.4,109.8 776.7,109.8 777.0,108.1 777.3,107.4 777.6,108.1 777.9,108.5 778.2,107.3 778.5,107.6 778.8,109.9 779.1,109.6 779.4,110.7 779.8,110.7 780.1,110.3 780.4,108.3 780.7,107.5 781.0,108.1 781.3,108.7 781.6,108.9 781.9,109.0 782.2,108.3 782.5,110.1 782.8,108.0 783.1,108.6 783.4,110.2 783.7,109.9 784.0,108.0 784.3,107.8 784.6,109.9 784.9,106.9 785.2,107.3 785.5,108.8 785.8,108.9 786.1,107.5 786.4,107.0 786.7,107.6 787.0,109.7 787.3,108.6 787.6,110.5 787.9,109.8 788.2,110.5 788.5,106.9 788.8,107.5 789.1,106.8 789.4,108.4 789.7,108.0 790.0,106.9 790.3,108.8 790.6,107.1 790.9,107.9 791.2,107.7 791.5,109.8 791.8,108.3 792.1,107.7 792.4,106.9 792.7,108.3 793.0,109.1 793.3,109.2 793.6,110.1 793.9,109.7 794.2,107.6 794.5,107.2 794.9,109.5 795.2,109.6 795.5,108.6 795.8,109.8 796.1,108.7 796.4,107.7 796.7,107.3 797.0,106.7 797.3,109.0 797.6,110.0 797.9,110.0 798.2,108.4 798.5,109.1 798.8,110.1 799.1,109.7 799.4,108.8 799.7,108.1 800.0,108.5 800.3,107.2 800.6,107.2 800.9,109.1 801.2,110.3 801.5,108.6 801.8,108.1 802.1,107.8 802.4,108.2 802.7,109.5 803.0,108.2 803.3,110.1 803.6,107.1 803.9,107.7 804.2,108.5 804.5,108.0 804.8,109.7 805.1,109.6 805.4,110.0 805.7,108.8 806.0,106.6 806.3,108.6 806.6,108.5 806.9,108.3 807.2,107.5 807.5,109.1 807.8,109.9 808.1,106.8 808.4,108.9 808.7,107.8 809.0,108.3 809.3,109.8 809.6,110.0 809.9,108.8 810.2,107.1 810.5,109.9 810.8,107.1 811.1,107.8 811.4,109.5 811.7,107.5 812.0,107.4 812.3,109.9 812.6,109.9 812.9,107.5 813.2,107.8 813.5,107.4 813.8,106.8 814.1,107.3 814.4,110.0 814.7,106.6 815.0,107.2 815.3,107.0 815.6,106.6 815.9,108.3 816.2,109.1 816.5,109.5 816.8,108.7 817.1,109.4 817.4,106.3 817.7,107.3 818.0,109.9 818.3,106.5 818.6,107.3 818.9,108.1 819.2,107.2 819.5,108.3 819.8,106.4 820.1,107.1 820.4,109.8 820.7,106.7 821.0,109.6 821.3,106.9 821.6,110.0 821.9,108.7 822.2,108.6 822.5,106.7 822.8,106.4 823.1,109.0 823.4,106.8 823.7,106.9 824.0,109.3 824.3,109.5 824.6,106.3 824.9,109.8 825.2,108.2 825.5,107.6 825.8,106.5 826.1,107.6 826.4,109.9 826.7,107.2 827.0,106.6 827.3,106.6 827.6,106.6 827.9,107.4 828.2,109.6 828.5,106.4 828.8,106.8 829.1,109.6 829.4,109.8 829.7,109.8 830.0,107.0 830.3,107.4 830.6,109.7 830.9,107.9 831.2,108.7 831.5,107.2 831.8,106.1 832.1,107.3 832.4,108.9 832.7,109.0 833.0,108.2 833.3,107.8 833.6,108.0 833.9,107.7 834.2,108.0 834.5,109.1 834.8,106.7 835.1,108.2 835.4,109.5 835.7,109.2 836.0,106.6 836.3,109.6 836.6,109.1 836.9,106.6 837.2,106.9 837.5,106.7 837.8,106.1 838.1,109.6 838.4,107.5 838.7,109.2 839.0,106.5 839.3,106.2 839.6,109.3 839.8,109.2 840.1,110.0 840.4,109.1 840.7,108.6 840.9,109.6 841.2,107.4 841.5,109.1 841.8,108.8 842.1,107.9 842.3,109.6 842.6,108.8 842.9,109.6 843.2,109.2 843.5,109.2 843.7,109.4 844.0,110.4 844.3,111.8 844.6,111.8 844.8,111.7 845.1,111.7 845.4,109.9 845.7,112.5 846.0,110.1 846.2,109.7 846.5,111.2 846.8,112.1 847.1,110.9 847.3,112.1 847.6,110.9 847.9,113.6 848.2,111.6 848.5,111.7 848.8,111.9 849.1,113.1 849.4,113.5 849.7,111.8 850.0,111.4 850.3,112.1 850.6,110.0 850.9,111.3 851.2,112.9 851.5,112.6 851.8,109.9 852.1,112.9 852.4,111.1 852.7,113.3 853.0,111.0 853.4,110.4 853.7,111.6 854.0,112.9 854.3,111.1 854.6,112.8 854.9,112.1 855.2,110.8 855.5,110.5 855.8,111.3 856.1,110.9 856.4,110.8 856.7,111.8 857.0,112.6 857.3,111.5 857.6,109.8 857.9,110.1 858.2,110.6 858.5,111.4 858.7,110.3 859.0,110.3 859.2,111.2 859.4,111.3 859.7,110.7 859.9,112.4 860.1,113.7 860.3,112.8 860.6,113.6 860.8,114.0 861.0,114.3 861.3,114.7 861.5,113.5 861.7,114.4 862.0,113.0 862.2,115.4 862.4,114.2 862.6,114.6 862.9,116.0 863.1,114.5 863.3,114.4 863.6,116.4 863.8,116.1 864.1,114.1 864.4,113.8 864.7,115.0 865.0,113.6 865.3,116.6 865.6,114.2 865.9,114.4 866.2,114.8 866.5,115.2 866.8,114.9 867.1,115.5 867.4,115.6 867.7,114.7 868.0,113.4 868.3,116.6 868.6,115.5 868.9,113.1 869.2,114.4 869.5,115.5 869.8,116.4 870.1,112.8 870.4,114.1 870.4,114.7 870.5,115.0 870.5,115.5 870.6,115.8 870.6,115.8 870.7,116.2 870.7,116.5 870.8,117.0 870.8,116.9 870.9,117.3 870.9,117.5 871.0,118.1 871.0,118.0 871.1,118.9 871.1,118.9 871.2,119.2 871.2,119.3 871.3,119.6 871.3,120.1 871.4,120.6 871.4,120.7 871.4,120.9 871.5,121.6 871.5,121.7 871.6,121.9 871.6,122.0 871.7,122.4 871.7,123.0 871.8,122.9 871.8,123.4 871.9,123.8 871.9,123.9 872.0,124.5 872.0,124.8 872.1,125.1 872.1,125.3 872.2,125.3 872.2,125.5 872.3,126.1 872.3,126.3 872.4,126.5 872.4,127.1 872.4,127.2 872.4,127.7 872.4,128.0 872.5,128.1 872.5,128.6 872.5,128.8 872.5,129.0 872.5,129.3 872.5,129.6 872.5,130.0 872.6,130.3 872.6,130.7 872.6,131.0 872.6,131.1 872.6,131.5 872.6,131.8 872.7,132.0 872.7,132.4 872.7,132.7 872.7,133.0 872.7,133.3 872.7,133.5 872.7,133.8 872.8,134.2 872.8,134.5 872.8,134.8 872.8,135.1 872.8,135.3 872.8,135.7 872.8,136.0 872.9,136.2 872.9,136.6 872.9,136.9 872.9,137.2 872.9,137.5 872.9,137.8 872.9,138.1 873.0,138.3 873.0,138.8 873.0,139.1 873.0,139.3 873.0,139.6 873.0,139.9 873.0,140.3 873.1,140.5 873.1,140.7 873.1,141.2 873.1,141.5 873.1,141.7 873.1,142.1 873.2,142.3 873.2,142.5 873.2,142.9 873.2,143.2 873.2,143.5 873.2,143.8 873.2,144.0 873.3,144.4 873.3,144.8 873.3,145.0 873.3,145.3 873.3,145.7 873.3,145.9 873.3,146.2 873.4,146.5 873.4,146.9 873.4,147.0 873.4,147.3 873.4,147.7 873.4,148.0 873.4,148.3 873.5,148.7 873.5,149.0 873.5,149.2 873.5,149.6 873.5,149.9 873.5,150.1 873.6,150.4 873.6,150.6 873.6,151.0 873.6,151.3 873.6,151.6 873.6,151.9 873.6,152.2 873.7,152.5 873.7,152.8 873.7,153.1 873.7,153.4 873.7,153.6 873.8,154.0 873.8,154.3 873.8,154.7 873.8,154.8 873.9,155.2 873.9,155.4 873.9,155.8 873.9,156.2 874.0,156.3 874.0,156.6 874.0,157.0 874.0,157.3 874.1,157.7 874.1,157.9 874.1,158.1 874.1,158.6 874.1,159.0 874.2,159.3 874.2,159.5 874.2,159.7 874.2,159.9 874.3,160.3 874.3,160.6 874.3,161.1 874.4,161.2 874.4,161.7 874.4,161.9 874.4,162.2 874.5,162.4 874.5,163.0 874.5,163.0 874.5,163.4 874.6,163.7 874.6,163.9 874.6,164.3 874.6,164.8 874.6,165.0 874.7,165.3 874.7,165.7 874.7,165.7 874.8,166.2 874.8,166.5 874.8,166.7 874.8,167.1 874.9,167.5 874.9,167.6 874.9,168.1 874.9,168.2 875.0,168.6 875.0,168.8 875.0,169.2 875.0,169.4 875.1,169.9 875.1,170.2 875.1,170.4 875.2,170.8 875.2,171.0 875.2,171.4 875.3,171.5 875.3,171.9 875.3,172.2 875.4,172.4 875.4,172.6 875.4,172.9 875.5,173.4 875.5,173.6 875.5,174.1 875.5,174.3 875.6,174.8 875.6,175.0 875.6,175.3 875.7,175.4 875.7,175.6 875.7,176.1 875.8,176.5 875.8,176.8 875.8,176.8 875.9,177.1 875.9,177.8 875.9,178.0 876.0,178.1 876.0,178.5 876.0,178.6 876.1,179.1 876.1,179.4 876.1,179.7 876.2,179.8 876.2,180.1 876.2,180.6 876.3,181.0 876.3,181.0 876.3,181.2 876.4,181.6 876.4,182.1 876.4,182.3 876.5,182.6 876.5,183.1 876.5,183.3 876.5,183.4 876.6,183.9 876.6,183.9 876.6,184.3 876.7,184.8 876.7,184.9 876.7,185.1 876.8,185.6 876.8,185.8 876.8,186.4 876.9,186.3 876.9,186.9 876.9,187.1 877.0,187.5 877.0,187.6 877.1,187.6 877.2,186.9 877.3,186.5 877.5,186.5 877.6,186.7 877.7,185.8 877.8,185.3 877.9,185.3 878.0,184.6 878.1,184.6 878.2,184.6 878.4,184.3 878.5,184.1 878.6,183.4 878.7,182.7 878.8,182.4 878.9,182.6 879.0,182.1 879.1,182.3 879.3,181.6 879.4,182.0 879.5,181.5 879.6,181.2 879.6,180.9 879.7,180.5 879.7,180.2 879.7,179.8 879.7,179.4 879.8,179.4 879.8,179.0 879.8,178.5 879.8,178.5 879.9,178.1 879.9,177.8 879.9,177.5 880.0,177.0 880.0,177.0 880.0,176.5 880.0,176.2 880.1,176.1 880.1,175.5 880.1,175.4 880.1,175.1 880.2,174.7 880.2,174.6 880.2,174.1 880.2,173.7 880.3,173.5 880.3,173.1 880.3,173.0 880.4,172.8 880.4,172.5 880.4,171.9 880.4,171.8 880.5,171.4 880.5,171.1 880.5,170.8 880.5,170.5 880.6,170.1 880.6,170.0 880.6,169.5 880.7,169.5 880.7,168.9 880.7,168.9 880.7,168.3 880.8,168.0 880.8,167.9 880.8,167.5 880.8,167.3 880.9,166.9 880.9,166.6 880.9,166.8 880.9,167.2 881.0,167.5 881.0,167.9 881.0,168.0 881.0,168.3 881.0,168.7 881.0,169.1 881.1,169.3 881.1,169.7 881.1,169.9 881.1,170.2 881.1,170.5 881.1,170.8 881.2,171.0 881.2,171.4 881.2,171.8 881.2,172.0 881.2,172.3 881.3,172.6 881.3,172.9 881.3,173.3 881.3,173.6 881.3,173.9 881.3,174.1 881.4,174.4 881.4,174.7 881.4,174.9 881.4,175.3 881.4,175.7 881.4,176.0 881.5,176.2 881.5,176.5 881.5,176.8 881.5,177.1 881.5,177.4 881.6,177.7 881.6,178.1 881.6,178.4 881.6,178.6 881.6,178.9 881.6,179.2 881.7,179.6 881.7,179.9 881.7,180.1 881.7,180.5 881.7,180.7 881.8,181.0 881.8,181.3 881.8,181.6 881.8,182.0 881.8,182.3 881.8,182.6 881.9,182.8 881.9,183.2 881.9,183.5 881.9,183.7 881.9,184.1 881.9,184.4 882.0,184.6 882.0,185.0 882.0,185.3 882.0,185.6 882.0,186.0 882.1,186.1 882.1,186.6 882.1,186.9 882.1,187.1 882.1,187.5 882.1,187.6 882.2,188.1 882.2,188.4 882.2,188.5 882.2,188.9 882.2,189.3 882.2,189.5 882.3,189.9 882.3,190.2 882.3,190.4 882.3,190.5 882.4,190.9 882.4,191.5 882.5,191.6 882.5,191.8 882.6,192.2 882.6,192.7 882.6,192.7 882.7,192.9 882.7,193.7 882.8,193.6 882.8,194.0 882.9,194.6 882.9,194.5 882.9,194.7 883.0,195.4 883.0,195.4 883.1,195.7 883.1,196.4 883.2,196.3 883.2,196.9 883.2,196.9 883.3,197.2 883.3,197.5 883.4,198.0 883.4,198.3 883.5,198.5 883.5,198.8 883.5,199.0 883.6,199.6 883.6,200.0 883.7,200.2 883.7,200.5 883.7,200.4 883.8,200.8 883.8,201.1 883.9,201.4 883.9,202.1 884.0,202.4 884.0,202.7 884.0,202.8 884.1,202.9 884.1,203.3 884.2,203.4 884.2,204.2 884.3,204.2 884.3,204.5 884.3,205.1 884.4,205.0 884.4,205.7 884.5,205.7 884.5,206.2 884.6,206.2 884.6,206.9 884.6,206.9 884.7,207.2 884.7,207.7 884.8,207.9 884.8,208.1 884.9,208.3 884.9,209.0 885.1,207.6 885.4,210.3 885.6,208.9 885.8,208.6 886.1,209.3 886.3,208.8 886.5,209.6 886.8,210.5 887.0,210.3 887.3,210.3 887.5,210.3 887.7,211.1 888.0,212.1 888.2,211.3 888.4,212.5 888.7,211.9 888.9,210.7 889.2,210.9 889.5,213.5 889.8,212.2 890.1,211.9 890.4,212.4 890.7,213.7 891.0,212.0 891.3,212.0 891.6,212.1 891.9,210.8 892.2,212.9 892.5,212.7 892.8,212.8 892.9,213.0 893.1,213.3 893.2,214.0 893.4,213.4 893.5,215.0 893.6,213.8 893.8,215.3 893.9,214.4 894.0,215.8 894.2,215.1 894.3,215.1 894.5,216.1 894.6,216.9 894.7,217.2 894.9,217.5 895.0,218.0 895.1,216.7 895.3,217.5 895.4,217.3 895.6,218.7 895.7,218.4 895.8,219.2 896.0,219.6 896.1,220.2 896.2,219.9 896.4,220.5 896.5,220.2 896.7,219.7 896.8,222.0 897.1,219.2 897.3,219.0 897.6,221.3 897.9,219.3 898.1,220.4 898.4,218.2 898.7,218.6 898.9,220.1 899.2,217.7 899.5,219.1 899.7,220.3 900.0,217.8 900.2,219.2 900.5,219.2 900.8,218.6 901.0,218.9 901.3,218.5 901.6,216.2 901.8,216.6 902.1,217.5 902.3,218.7 902.5,217.3 902.7,218.4 902.8,217.6 903.0,219.4 903.2,218.8 903.4,219.2 903.6,219.8 903.8,218.9 904.0,220.4 904.1,220.9 904.3,221.2 904.5,220.2 904.7,220.3 904.9,220.4 905.1,222.3 905.3,221.6 905.4,221.7 905.6,222.2 905.8,222.9 906.0,222.0 906.3,222.1 906.6,223.7 906.9,223.8 907.2,221.9 907.5,221.1 907.8,224.3 908.2,223.6 908.5,223.1 908.8,222.3 909.1,224.4 909.4,222.4 909.7,221.6 910.0,221.2 910.3,222.1 910.6,223.1 910.9,222.2 911.2,224.4 911.5,223.3 911.8,222.5 912.2,223.3 912.5,223.1 912.8,223.1 913.1,222.7 913.4,222.8 913.7,222.7 914.0,223.9 914.3,221.6 914.6,223.9 914.9,222.1 915.2,224.2 915.5,221.4 915.8,223.0 916.1,222.9 916.4,223.9 916.7,222.1 917.0,222.4 917.3,221.9 917.6,223.6 917.9,223.7 918.2,221.6 918.5,222.3 918.8,222.4 919.1,225.3 919.4,223.5 919.7,224.0 920.0,223.0 920.3,224.4 920.6,225.1 920.9,224.6 921.2,224.0" fill="none" stroke="#0b0d0d" stroke-width="3.0" stroke-linejoin="round" stroke-linecap="round"/>
<polygon points="711.4,152.5 713.5,150.7 715.8,150.2 716.3,158.0 714.0,161.0 712.0,160.3" fill="#0b0d0d" stroke="#0b0d0d" stroke-width="1.0" stroke-linejoin="round"/>
<polygon points="716.0,145.0 717.5,141.8 720.3,143.0 720.8,152.3 718.5,152.8 716.4,151.8" fill="#0b0d0d" stroke="#0b0d0d" stroke-width="1.0" stroke-linejoin="round"/>
<polygon points="879.0,181.0 880.6,168.0 881.6,170.0 882.2,188.5 880.0,191.0 877.6,189.0" fill="#0b0d0d" stroke="#0b0d0d" stroke-width="1.0" stroke-linejoin="round"/>
<line x1="122.9" y1="355.7" x2="122.9" y2="563.1" stroke="#0f1414" stroke-width="2.8" stroke-linecap="butt"/>
<line x1="107.5" y1="357.0" x2="122.9" y2="357.0" stroke="#0f1414" stroke-width="2.6" stroke-linecap="butt"/>
<line x1="107.5" y1="397.2" x2="122.9" y2="397.2" stroke="#0f1414" stroke-width="2.6" stroke-linecap="butt"/>
<line x1="107.5" y1="437.8" x2="122.9" y2="437.8" stroke="#0f1414" stroke-width="2.6" stroke-linecap="butt"/>
<line x1="107.5" y1="477.9" x2="122.9" y2="477.9" stroke="#0f1414" stroke-width="2.6" stroke-linecap="butt"/>
<line x1="107.5" y1="518.0" x2="122.9" y2="518.0" stroke="#0f1414" stroke-width="2.6" stroke-linecap="butt"/>
<line x1="107.5" y1="558.6" x2="122.9" y2="558.6" stroke="#0f1414" stroke-width="2.6" stroke-linecap="butt"/>
<g transform="translate(57.77,368.82) scale(0.9702,0.9546)"><text font-size="29" fill="#000" stroke="#000" stroke-width="0.35">&#8199;00</text><path d="M 359 0 L 359 -697 L 292 -697 C 255 -635 175 -582 90 -549 L 96 -447 C 170 -472 235 -508 277 -552 L 277 0 Z" fill="#000" stroke="#000" stroke-width="12.07" transform="translate(0.00,0) scale(0.0290)"/></g>
<g transform="translate(70.06,406.82) scale(0.9943,0.9790)"><text font-size="29" fill="#000" stroke="#000" stroke-width="0.35">80</text></g>
<g transform="translate(70.45,448.51) scale(0.9818,1.0082)"><text font-size="29" fill="#000" stroke="#000" stroke-width="0.35">60</text></g>
<g transform="translate(72.35,490.91) scale(0.9787,1.0082)"><text font-size="29" fill="#000" stroke="#000" stroke-width="0.35">40</text></g>
<g transform="translate(71.75,531.60) scale(0.9977,1.0325)"><text font-size="29" fill="#000" stroke="#000" stroke-width="0.35">20</text></g>
<g transform="translate(87.37,572.80) scale(0.9955,1.0325)"><text font-size="29" fill="#000" stroke="#000" stroke-width="0.35">0</text></g>
<line x1="121.6" y1="562.1" x2="366.4" y2="562.1" stroke="#0f1414" stroke-width="2.8" stroke-linecap="butt"/>
<line x1="126.0" y1="562.1" x2="126.0" y2="576.1" stroke="#0f1414" stroke-width="2.6" stroke-linecap="butt"/>
<line x1="227.5" y1="562.1" x2="227.5" y2="576.1" stroke="#0f1414" stroke-width="2.6" stroke-linecap="butt"/>
<line x1="330.0" y1="562.1" x2="330.0" y2="576.1" stroke="#0f1414" stroke-width="2.6" stroke-linecap="butt"/>
<line x1="395.5" y1="564.4" x2="640.6" y2="564.4" stroke="#0f1414" stroke-width="2.8" stroke-linecap="butt"/>
<line x1="397.4" y1="564.4" x2="397.4" y2="577.6999999999999" stroke="#0f1414" stroke-width="2.6" stroke-linecap="butt"/>
<line x1="498.9" y1="564.4" x2="498.9" y2="577.6999999999999" stroke="#0f1414" stroke-width="2.6" stroke-linecap="butt"/>
<line x1="600.5" y1="564.4" x2="600.5" y2="577.6999999999999" stroke="#0f1414" stroke-width="2.6" stroke-linecap="butt"/>
<line x1="666.5" y1="564.6" x2="921.3" y2="564.6" stroke="#0f1414" stroke-width="2.8" stroke-linecap="butt"/>
<line x1="667.7" y1="564.6" x2="667.7" y2="577.9" stroke="#0f1414" stroke-width="2.6" stroke-linecap="butt"/>
<line x1="768.9" y1="564.6" x2="768.9" y2="577.9" stroke="#0f1414" stroke-width="2.6" stroke-linecap="butt"/>
<line x1="870.0" y1="564.6" x2="870.0" y2="577.9" stroke="#0f1414" stroke-width="2.6" stroke-linecap="butt"/>
<g transform="translate(119.06,603.11) scale(1.0100,1.0033)"><text font-size="29" fill="#000" stroke="#000" stroke-width="0.35">0</text></g>
<g transform="translate(214.85,603.11) scale(0.9914,1.0033)"><text font-size="29" fill="#000" stroke="#000" stroke-width="0.35">50</text></g>
<g transform="translate(306.63,603.11) scale(0.9859,1.0033)"><text font-size="29" fill="#000" stroke="#000" stroke-width="0.35">&#8199;00</text><path d="M 359 0 L 359 -697 L 292 -697 C 255 -635 175 -582 90 -549 L 96 -447 C 170 -472 235 -508 277 -552 L 277 0 Z" fill="#000" stroke="#000" stroke-width="12.07" transform="translate(0.00,0) scale(0.0290)"/></g>
<g transform="translate(390.52,603.51) scale(0.9522,1.0082)"><text font-size="29" fill="#000" stroke="#000" stroke-width="0.35">0</text></g>
<g transform="translate(485.34,603.51) scale(0.9981,1.0082)"><text font-size="29" fill="#000" stroke="#000" stroke-width="0.35">50</text></g>
<g transform="translate(577.95,603.51) scale(0.9769,1.0082)"><text font-size="29" fill="#000" stroke="#000" stroke-width="0.35">&#8199;00</text><path d="M 359 0 L 359 -697 L 292 -697 C 255 -635 175 -582 90 -549 L 96 -447 C 170 -472 235 -508 277 -552 L 277 0 Z" fill="#000" stroke="#000" stroke-width="12.07" transform="translate(0.00,0) scale(0.0290)"/></g>
<g transform="translate(662.05,603.51) scale(0.9306,1.0082)"><text font-size="29" fill="#000" stroke="#000" stroke-width="0.35">0</text></g>
<g transform="translate(756.66,603.51) scale(0.9847,1.0082)"><text font-size="29" fill="#000" stroke="#000" stroke-width="0.35">50</text></g>
<g transform="translate(848.92,603.51) scale(0.9881,1.0082)"><text font-size="29" fill="#000" stroke="#000" stroke-width="0.35">&#8199;00</text><path d="M 359 0 L 359 -697 L 292 -697 C 255 -635 175 -582 90 -549 L 96 -447 C 170 -472 235 -508 277 -552 L 277 0 Z" fill="#000" stroke="#000" stroke-width="12.07" transform="translate(0.00,0) scale(0.0290)"/></g>
<g transform="translate(146.78,388.40) scale(0.9957,1.0029)"><text font-size="48" fill="#000" stroke="#000" stroke-width="0.35">P2&#8199;</text><path d="M 359 0 L 359 -697 L 292 -697 C 255 -635 175 -582 90 -549 L 96 -447 C 170 -472 235 -508 277 -552 L 277 0 Z" fill="#000" stroke="#000" stroke-width="7.29" transform="translate(58.71,0) scale(0.0480)"/></g>
<polyline points="125.0,557.5 125.3,557.2 125.6,558.0 125.9,557.1 126.2,557.9 126.5,557.6 126.8,557.1 127.1,557.8 127.4,557.1 127.7,557.7 128.0,557.1 128.3,557.1 128.6,557.7 128.9,558.3 129.2,557.2 129.5,557.4 129.8,558.0 130.1,558.5 130.4,557.9 130.7,557.6 131.0,558.6 131.3,557.1 131.6,558.4 131.9,557.5 132.2,557.2 132.5,557.2 132.8,557.5 133.1,558.3 133.4,557.3 133.7,557.9 134.0,558.0 134.3,557.6 134.6,557.9 134.9,557.1 135.2,557.1 135.5,557.3 135.8,558.1 136.1,557.7 136.4,557.5 136.7,557.9 137.0,557.7 137.3,557.5 137.6,558.3 137.9,558.1 138.2,557.4 138.5,557.9 138.8,557.8 139.1,558.4 139.4,558.2 139.7,557.5 140.0,558.6 140.3,557.2 140.6,557.7 140.9,558.2 141.2,557.2 141.5,557.8 141.8,557.1 142.1,558.1 142.4,558.2 142.7,557.9 143.0,558.4 143.3,557.5 143.6,558.1 143.9,558.0 144.2,557.9 144.5,557.7 144.8,558.3 145.1,558.5 145.4,557.8 145.7,558.1 146.0,557.1 146.3,558.1 146.6,558.0 146.9,558.6 147.2,558.3 147.5,557.5 147.8,557.6 148.1,558.1 148.4,557.0 148.7,557.7 149.0,557.3 149.3,557.2 149.6,557.1 149.9,558.2 150.2,557.2 150.5,557.4 150.8,557.6 151.1,558.4 151.4,557.1 151.7,557.7 152.0,557.9 152.3,558.4 152.6,558.3 152.9,558.4 153.2,557.4 153.5,557.7 153.8,557.6 154.1,558.4 154.4,558.5 154.7,557.2 155.0,557.3 155.3,557.4 155.6,557.4 155.9,557.8 156.2,557.9 156.5,557.4 156.8,557.0 157.1,557.7 157.4,557.6 157.7,557.9 158.0,558.5 158.3,558.1 158.6,557.8 158.9,558.0 159.2,558.1 159.5,557.1 159.8,558.4 160.1,558.2 160.4,558.4 160.7,558.3 161.0,557.6 161.3,557.6 161.6,557.2 161.9,558.0 162.2,557.1 162.5,557.1 162.8,557.3 163.1,557.3 163.4,557.5 163.7,557.1 164.0,557.0 164.3,557.2 164.6,557.2 164.9,557.6 165.2,557.0 165.5,558.4 165.8,558.0 166.1,557.2 166.4,557.4 166.7,557.6 167.0,557.6 167.3,557.2 167.6,558.4 167.9,558.6 168.2,557.7 168.5,557.8 168.5,557.5 168.5,557.2 168.5,556.9 168.5,556.6 168.5,556.3 168.5,556.0 168.5,555.7 168.5,555.4 168.5,555.1 168.5,554.8 168.5,554.5 168.5,554.2 168.5,553.9 168.5,553.6 168.5,553.3 168.5,553.0 168.5,552.7 168.5,552.4 168.5,552.1 168.5,551.8 168.5,551.5 168.5,551.1 168.5,550.8 168.5,550.5 168.5,550.2 168.5,549.9 168.5,549.6 168.5,549.3 168.5,549.0 168.5,548.7 168.5,548.4 168.5,548.1 168.5,547.8 168.5,547.5 168.5,547.2 168.5,546.9 168.5,546.6 168.5,546.3 168.5,546.0 168.5,545.7 168.5,545.4 168.5,545.9 168.8,545.8 169.1,544.9 169.4,544.7 169.7,544.7 170.0,544.6 170.3,544.6 170.6,545.3 170.9,545.7 171.2,545.6 171.5,545.1 171.8,545.3 172.1,545.6 172.4,544.4 172.7,545.4 173.0,545.8 173.3,545.6 173.6,545.5 173.9,545.1 174.2,544.6 174.5,545.6 174.8,544.8 175.1,545.6 175.4,545.9 175.7,544.9 176.0,544.9 176.3,545.8 176.6,545.5 176.9,544.6 177.2,544.5 177.5,544.5 177.8,545.7 178.1,545.6 178.4,544.5 178.7,545.6 179.0,545.9 179.3,545.4 179.6,544.9 179.9,545.2 180.2,544.5 180.5,544.3 180.8,545.9 181.1,545.3 181.4,545.1 181.7,545.8 182.0,545.0 182.3,545.7 182.6,545.6 182.9,544.6 183.2,544.7 183.5,544.8 183.8,544.7 184.1,545.2 184.4,544.7 184.7,545.0 185.0,544.5 185.3,545.8 185.6,544.9 185.9,545.0 186.2,545.2 186.5,545.7 186.8,545.0 187.1,545.8 187.4,545.1 187.7,545.2 188.0,545.1 188.3,544.3 188.6,545.0 188.9,544.6 189.2,544.3 189.5,545.6 189.8,544.6 190.1,545.1 190.4,545.5 190.7,545.2 191.0,544.8 191.3,545.1 191.6,545.2 191.9,545.6 192.2,544.5 192.5,545.2 192.8,544.7 193.1,544.7 193.4,545.5 193.7,545.1 194.0,545.2 194.3,545.5 194.6,545.8 194.9,545.0 195.2,545.3 195.5,545.1 195.8,545.1 196.1,545.4 196.4,545.0 196.7,545.2 197.0,545.1 197.3,545.8 197.6,545.4 197.9,545.7 198.2,545.8 198.5,544.7 198.8,545.2 199.1,545.8 199.4,545.6 199.7,544.5 200.0,544.5 200.3,545.0 200.6,544.4 200.9,544.7 201.2,544.4 201.5,545.4 201.8,545.6 202.1,545.7 202.4,544.5 202.7,545.4 203.0,545.4 203.3,544.5 203.6,545.7 203.9,545.8 204.2,544.7 204.5,545.8 204.8,544.9 205.1,545.1 205.4,545.9 205.7,545.6 206.0,544.6 206.3,545.0 206.6,545.1 206.9,544.8 207.2,544.6 207.5,544.8 207.8,545.5 208.1,544.3 208.4,545.2 208.7,545.0 209.0,544.3 209.3,544.8 209.6,545.3 209.9,545.1 210.2,544.4 210.5,545.9 210.8,545.6 211.1,545.9 211.4,544.5 211.7,544.7 212.0,544.4 212.3,545.5 212.6,544.7 212.9,544.5 213.2,545.0 213.5,545.8 213.8,545.6 214.1,544.7 214.4,544.5 214.7,545.8 215.0,545.2 215.3,545.4 215.6,544.4 215.9,544.4 216.2,545.4 216.5,545.0 216.8,544.4 217.1,545.8 217.4,545.3 217.7,545.6 218.0,544.4 218.3,545.7 218.6,544.4 218.9,545.7 219.2,545.0 219.5,544.8 219.8,545.2 220.1,545.8 220.4,544.7 220.7,544.5 221.0,545.1 221.3,544.7 221.6,544.5 221.9,544.6 222.2,544.4 222.5,544.6 222.8,544.8 223.1,544.8 223.4,545.5 223.7,544.8 224.0,545.1 224.3,544.6 224.6,544.9 224.9,544.3 225.2,544.7 225.5,544.3 225.8,545.5 226.1,545.2 226.4,544.6 226.7,545.1 227.0,545.8 227.3,544.5 227.6,545.6 227.9,545.0 228.2,545.1 228.5,545.6 228.8,544.9 229.1,545.1 229.4,545.4 229.7,545.9 230.0,544.8 230.3,545.6 230.6,545.4 230.9,545.3 231.2,544.9 231.5,544.9 231.8,544.4 232.1,544.5 232.4,544.4 232.7,545.5 233.0,544.7 233.3,544.6 233.6,544.4 233.9,545.6 234.2,545.7 234.5,545.4 234.8,544.8 235.1,544.7 235.4,544.8 235.7,545.0 236.0,544.6 236.3,545.0 236.6,544.7 236.9,545.8 237.2,545.9 237.5,545.2 237.8,544.7 238.1,545.8 238.4,544.8 238.7,544.9 239.0,544.3 239.3,544.9 239.6,545.1 239.9,545.1 240.2,544.6 240.5,545.1 240.8,544.3 241.1,544.7 241.4,544.4 241.7,544.9 242.0,544.4 242.3,544.3 242.6,544.8 242.9,544.7 243.2,545.2 243.5,545.1 243.8,545.5 244.1,545.4 244.4,545.4 244.7,545.7 245.0,544.9 245.3,544.8 245.7,545.9 246.0,544.5 246.3,545.5 246.6,545.3 246.9,544.4 247.2,545.6 247.5,545.7 247.8,545.3 248.1,545.5 248.4,545.6 248.7,544.5 249.0,545.1 249.3,545.1 249.6,545.6 249.9,545.6 250.2,545.6 250.5,545.2 250.8,545.7 251.1,545.4 251.4,545.4 251.7,544.7 252.0,544.3 252.3,544.5 252.6,544.9 252.9,544.5 253.2,545.6 253.5,545.2 253.8,545.3 254.1,545.3 254.4,545.4 254.7,545.1 255.0,544.3 255.3,545.6 255.6,545.5 255.9,545.1 256.2,545.2 256.5,545.4 256.8,544.4 257.1,545.5 257.4,544.7 257.7,544.4 258.0,544.7 258.3,545.5 258.6,544.6 258.9,545.5 259.2,545.9 259.5,545.1 259.8,544.9 260.1,545.1 260.4,545.4 260.7,545.5 261.0,545.3 261.3,545.3 261.6,544.4 261.9,544.5 262.2,544.7 262.5,545.5 262.8,544.8 263.1,545.2 263.4,544.3 263.7,544.4 264.0,544.7 264.3,545.4 264.6,545.4 264.9,545.4 265.2,544.8 265.5,545.1 265.8,545.0 266.1,545.0 266.4,544.5 266.7,545.7 267.0,544.6 267.3,545.9 267.6,545.8 267.9,544.3 268.2,545.0 268.5,545.6 268.8,545.8 269.1,545.0 269.4,544.7 269.7,544.6 270.0,545.8 270.3,544.6 270.6,545.2 270.9,544.5 271.2,545.1 271.5,545.8 271.8,544.5 272.1,545.6 272.4,545.1 272.7,545.7 273.0,545.4 273.3,544.7 273.6,545.7 273.9,545.1 274.2,544.3 274.5,544.3 274.8,545.1 275.1,545.0 275.4,544.8 275.7,544.5 276.0,544.9 276.3,544.8 276.6,545.6 276.9,544.3 277.2,545.5 277.5,545.6 277.8,544.5 278.1,545.8 278.4,545.4 278.7,545.7 279.0,544.8 279.3,544.9 279.6,544.9 279.9,545.9 280.2,545.2 280.5,544.9 280.8,545.0 281.1,544.7 281.4,544.4 281.7,544.5 282.0,545.6 282.3,544.8 282.6,545.8 282.9,544.7 283.2,544.7 283.5,545.1 283.8,544.6 284.1,544.9 284.4,545.8 284.7,545.7 285.0,545.6 285.3,545.3 285.6,545.8 285.9,545.8 286.2,545.2 286.5,545.5 286.8,544.4 287.1,545.5 287.4,545.0 287.7,545.5 288.0,545.3 288.3,544.8 288.6,544.4 288.9,545.8 289.2,544.5 289.5,545.1 289.8,544.8 290.1,544.8 290.4,545.5 290.7,545.9 291.0,544.7 291.3,545.3 291.6,544.8 291.9,545.2 292.2,544.9 292.5,544.6 292.8,544.6 293.1,544.6 293.4,545.7 293.7,545.1 294.0,544.7 294.3,545.8 294.6,545.9 294.9,545.0 295.2,544.5 295.5,544.6 295.8,544.4 296.1,544.8 296.4,544.4 296.7,544.7 297.0,544.7 297.3,545.2 297.6,545.7 297.9,545.5 298.2,545.0 298.5,545.0 298.8,545.1 299.1,544.9 299.4,544.8 299.7,544.4 300.0,544.7 300.3,545.8 300.6,544.5 300.9,545.1 301.2,545.3 301.5,545.7 301.8,544.6 302.1,544.7 302.4,544.7 302.7,544.9 303.0,545.0 303.3,545.8 303.6,545.7 303.9,545.7 304.2,544.3 304.5,544.4 304.8,545.4 305.1,545.7 305.4,545.1 305.7,545.2 306.0,544.3 306.3,544.9 306.6,545.8 306.9,545.6 307.2,545.7 307.5,545.9 307.8,544.7 308.1,544.5 308.4,544.5 308.7,545.1 309.0,545.4 309.3,545.8 309.6,545.5 309.9,545.3 310.2,545.5 310.5,545.0 310.8,545.2 311.1,544.4 311.4,545.6 311.7,544.7 312.0,545.8 312.3,545.3 312.6,544.8 312.9,544.5 313.2,544.7 313.5,545.3 313.8,545.4 314.1,544.5 314.4,544.4 314.7,545.1 315.0,545.2 315.3,544.9 315.6,544.7 315.9,545.3 316.2,544.3 316.5,544.8 316.8,545.0 317.1,545.8 317.4,545.3 317.7,545.7 318.0,545.1 318.3,544.7 318.6,544.7 318.9,545.8 319.2,545.4 319.5,544.8 319.8,544.3 320.1,545.1 320.4,545.4 320.7,545.0 321.0,544.7 321.3,545.4 321.6,545.8 321.9,544.7 322.2,545.1 322.2,545.4 322.2,545.7 322.2,546.0 322.2,546.3 322.2,546.6 322.2,546.9 322.2,547.2 322.2,547.5 322.2,547.8 322.2,548.1 322.2,548.5 322.2,548.8 322.2,549.1 322.2,549.4 322.2,549.7 322.2,550.0 322.2,550.3 322.2,550.6 322.2,550.9 322.2,551.2 322.2,551.5 322.2,551.8 322.2,552.1 322.2,552.4 322.2,552.7 322.2,553.0 322.2,553.3 322.2,553.6 322.2,553.9 322.2,554.2 322.2,554.6 322.2,554.9 322.2,555.2 322.2,555.5 322.2,555.8 322.2,556.1 322.2,556.4 322.2,556.7 322.2,557.0 322.2,557.3 322.2,557.9 322.5,557.4 322.8,557.4 323.1,557.3 323.4,557.1 323.7,556.8 324.0,557.2 324.3,557.4 324.6,558.3 324.9,557.0 325.2,558.3 325.5,557.1 325.8,557.4 326.1,558.1 326.4,558.1 326.7,557.5 327.0,556.9 327.3,557.6 327.6,557.4 327.9,558.3 328.2,557.1 328.5,557.4 328.8,558.2 329.1,556.8 329.4,557.5 329.7,558.1 330.0,558.0 330.3,556.9 330.6,556.9 330.9,556.9 331.2,558.3 331.5,557.2 331.8,558.0 332.1,558.2 332.4,557.3 332.7,557.2 333.0,558.3 333.3,557.8 333.6,557.2 333.9,557.9 334.2,557.3 334.5,557.2 334.8,556.8 335.1,558.0 335.4,558.3 335.7,557.8 336.0,558.3 336.3,556.8 336.6,557.2 336.9,557.6 337.2,558.3 337.5,558.3 337.8,557.4 338.1,557.2 338.4,557.5 338.7,557.6 339.0,558.3 339.3,557.1 339.6,558.1 339.9,558.0 340.2,558.1 340.5,558.0 340.8,557.8 341.1,557.3 341.4,557.3 341.7,557.4 342.0,558.1 342.3,556.9 342.6,557.1 342.9,558.0 343.2,557.2 343.5,556.9 343.8,556.9 344.1,557.7 344.4,557.3 344.7,558.4 345.0,558.2 345.3,558.4 345.6,557.2 345.9,556.9 346.2,557.0 346.5,557.6 346.8,557.9 347.1,557.5 347.4,557.2 347.7,557.5 348.0,557.8 348.3,557.9 348.6,558.0 348.9,558.2 349.2,557.9 349.5,557.0 349.8,558.1 350.1,557.3 350.4,557.7 350.7,557.4 351.0,558.0 351.3,557.1 351.6,557.2 351.9,557.2 352.2,557.0 352.5,558.2 352.8,557.7 353.1,557.3 353.4,557.4 353.7,558.4 354.0,557.6 354.3,557.2 354.6,558.1 354.9,557.8 355.2,558.4 355.5,557.0 355.8,557.6 356.1,558.1 356.4,558.1 356.7,558.3 357.0,556.9 357.3,557.3 357.6,557.0 357.9,557.1 358.2,558.4 358.5,557.7 358.8,558.3 359.1,557.4 359.4,558.2 359.7,557.5 360.0,557.2 360.3,558.0 360.6,558.3 360.9,557.0 361.2,557.8 361.5,557.8 361.8,557.1 362.1,557.4 362.4,557.0 362.7,557.1 363.0,557.2 363.3,557.8 363.6,557.8 363.9,557.1 364.2,556.8 364.5,557.3 364.8,557.9 365.1,557.1 365.4,557.3 365.7,557.1 366.0,557.6" fill="none" stroke="#ec1a10" stroke-width="4.0" stroke-linejoin="round" stroke-linecap="round"/>
<polyline points="397.4,558.8 397.7,558.4 398.0,559.2 398.3,558.4 398.6,558.1 398.9,559.1 399.2,560.5 399.5,560.1 399.8,560.0 400.1,558.3 400.4,559.2 400.7,558.4 401.0,558.0 401.3,557.8 401.6,558.1 401.9,560.1 402.2,559.8 402.5,559.7 402.8,559.6 403.1,557.8 403.4,558.1 403.7,559.0 404.0,559.2 404.3,559.5 404.6,559.6 404.9,557.2 405.2,558.6 405.5,558.8 405.8,558.3 406.1,557.2 406.4,558.1 406.7,556.9 407.0,559.3 407.3,559.1 407.6,558.1 407.9,557.3 408.2,559.1 408.5,558.0 408.8,558.8 409.1,558.6 409.4,557.6 409.6,557.2 409.9,557.6 410.2,557.1 410.5,556.2 410.8,556.5 411.1,557.9 411.4,555.6 411.7,555.5 411.9,557.1 412.2,556.0 412.5,556.7 412.8,556.4 413.1,555.9 413.4,557.7 413.7,555.4 414.0,555.9 414.2,555.2 414.5,556.3 414.8,555.2 415.1,555.4 415.4,556.4 415.7,555.1 416.0,555.7 416.3,556.6 416.6,554.2 416.8,554.0 417.1,554.4 417.4,555.8 417.7,555.3 418.0,554.2 418.3,554.3 418.6,553.8 418.9,554.5 419.2,553.2 419.4,555.0 419.7,555.5 420.0,555.6 420.3,554.9 420.6,555.4 420.9,552.7 421.2,553.3 421.5,555.2 421.8,554.6 422.1,553.4 422.4,554.9 422.6,553.9 422.9,554.3 423.2,552.7 423.5,552.4 423.8,553.0 424.1,552.0 424.4,552.6 424.7,554.2 425.0,552.3 425.3,551.3 425.5,551.3 425.8,551.6 426.1,553.3 426.4,552.0 426.7,551.7 427.0,551.3 427.2,553.0 427.4,551.6 427.7,550.9 427.9,550.4 428.1,550.2 428.3,550.2 428.5,551.0 428.8,549.7 429.0,549.2 429.2,550.0 429.4,549.2 429.6,550.6 429.9,548.5 430.1,549.2 430.3,549.5 430.5,548.5 430.7,549.5 431.0,548.2 431.2,547.5 431.4,547.6 431.6,546.6 431.8,547.2 432.1,546.6 432.3,547.7 432.5,547.2 432.6,547.0 432.8,546.6 432.9,547.2 433.1,547.5 433.2,547.7 433.4,548.0 433.5,549.2 433.7,548.5 433.8,548.6 434.0,550.1 434.1,549.9 434.3,550.8 434.4,550.1 434.7,551.6 435.0,551.0 435.3,551.5 435.6,551.4 435.9,550.8 436.2,549.7 436.6,550.1 436.9,552.1 437.2,552.2 437.5,552.4 437.8,550.7 438.1,551.3 438.1,551.0 438.1,550.7 438.1,550.4 438.1,550.1 438.2,549.8 438.2,549.5 438.2,549.2 438.2,548.9 438.2,548.6 438.2,548.3 438.2,548.1 438.2,547.8 438.2,547.4 438.3,547.1 438.3,546.8 438.3,546.5 438.3,546.3 438.3,545.9 438.3,545.6 438.3,545.3 438.3,545.0 438.3,544.7 438.3,544.4 438.4,544.1 438.4,543.8 438.4,543.4 438.4,543.2 438.4,542.8 438.4,542.6 438.4,542.3 438.4,542.0 438.4,541.7 438.5,541.4 438.5,541.1 438.5,540.8 438.5,540.5 438.5,540.2 438.5,539.9 438.5,539.6 438.5,539.3 438.5,539.0 438.6,538.7 438.6,538.3 438.6,538.0 438.6,537.8 438.6,537.5 438.6,537.2 438.6,536.9 438.6,536.6 438.6,536.3 438.7,536.0 438.7,535.7 438.7,535.3 438.7,535.1 438.7,534.8 438.7,534.5 438.7,534.2 438.7,533.9 438.7,533.6 438.8,533.3 438.8,533.0 438.8,532.7 438.8,532.5 438.8,532.1 438.8,531.8 438.8,531.5 438.8,531.2 438.8,530.9 438.8,530.6 438.9,530.3 438.9,530.0 438.9,529.7 438.9,529.4 438.9,529.1 438.9,528.8 438.9,528.5 438.9,528.2 438.9,527.9 439.0,527.6 439.0,527.3 439.0,527.0 439.0,526.7 439.0,526.4 439.0,526.1 439.0,525.8 439.0,525.5 439.0,525.2 439.0,524.9 439.0,524.6 439.0,524.3 439.0,524.0 439.0,523.7 439.0,523.4 439.1,523.1 439.1,522.8 439.1,522.5 439.1,522.2 439.1,521.9 439.1,521.6 439.1,521.3 439.1,521.0 439.1,520.7 439.1,520.4 439.1,520.1 439.1,519.8 439.1,519.5 439.1,519.2 439.1,518.9 439.1,518.6 439.1,518.3 439.1,518.0 439.1,517.7 439.1,517.4 439.2,517.1 439.2,516.8 439.2,516.5 439.2,516.2 439.2,515.9 439.2,515.6 439.2,515.3 439.2,515.0 439.2,514.7 439.2,514.4 439.2,514.1 439.2,513.8 439.2,513.5 439.2,513.2 439.2,512.9 439.2,512.6 439.2,512.3 439.2,512.0 439.2,511.7 439.2,511.4 439.2,511.1 439.3,510.8 439.3,510.5 439.3,510.2 439.3,509.9 439.3,509.6 439.3,509.3 439.3,509.0 439.3,508.7 439.3,508.4 439.3,508.1 439.3,507.8 439.3,507.5 439.3,507.2 439.3,506.9 439.3,506.6 439.3,506.3 439.3,506.0 439.3,505.7 439.3,505.4 439.3,505.1 439.4,504.8 439.4,504.5 439.4,504.2 439.4,503.9 439.4,503.6 439.4,503.3 439.4,503.0 439.4,502.7 439.4,502.4 439.4,502.1 439.4,501.8 439.4,501.5 439.4,501.2 439.4,500.9 439.4,500.6 439.4,500.3 439.4,500.0 439.4,499.7 439.4,499.4 439.4,499.1 439.4,498.8 439.5,498.5 439.5,498.2 439.5,497.9 439.5,497.6 439.5,497.3 439.5,497.0 439.5,496.7 439.5,496.4 439.5,496.1 439.5,495.8 439.5,495.5 439.5,495.2 439.5,494.9 439.5,494.6 439.5,494.3 439.5,494.0 439.5,493.7 439.5,493.4 439.5,493.1 439.5,492.8 439.5,492.5 439.6,492.2 439.6,491.9 439.6,491.6 439.6,491.3 439.6,491.0 439.6,490.7 439.6,490.4 439.6,490.1 439.6,489.8 439.6,489.5 439.6,489.2 439.6,488.9 439.6,488.6 439.6,488.3 439.6,488.0 439.6,487.7 439.6,487.4 439.6,487.1 439.6,486.8 439.6,486.5 439.7,486.2 439.7,485.9 439.7,485.6 439.7,485.3 439.7,485.0 439.7,484.7 439.7,484.4 439.7,484.1 439.7,483.8 439.7,483.5 439.7,483.2 439.7,482.9 439.7,482.6 439.7,482.3 439.7,482.0 439.7,481.7 439.7,481.4 439.7,481.1 439.7,480.8 439.7,480.5 439.7,480.2 439.8,479.9 439.8,479.6 439.8,479.3 439.8,479.0 439.8,478.7 439.8,478.4 439.8,478.1 439.8,477.8 439.8,477.5 439.8,477.2 439.8,476.9 439.8,476.6 439.8,476.3 439.8,476.0 439.8,475.7 439.8,475.4 439.8,475.1 439.8,474.8 439.8,474.5 439.8,474.2 439.9,473.9 439.9,473.6 439.9,473.3 439.9,473.0 439.9,472.7 439.9,472.4 439.9,472.1 439.9,471.8 439.9,471.5 439.9,471.2 439.9,470.9 439.9,470.6 439.9,470.3 439.9,470.0 439.9,469.7 439.9,469.4 439.9,469.1 440.0,468.8 440.0,468.5 440.0,468.2 440.0,467.9 440.0,467.6 440.0,467.3 440.0,467.0 440.0,466.7 440.0,466.4 440.0,466.1 440.0,465.8 440.0,465.5 440.0,465.2 440.0,464.9 440.1,464.6 440.1,464.3 440.1,464.0 440.1,463.7 440.1,463.4 440.1,463.1 440.1,462.8 440.1,462.5 440.1,462.2 440.1,461.9 440.1,461.6 440.1,461.3 440.1,461.0 440.1,460.7 440.2,460.4 440.2,460.1 440.2,459.8 440.2,459.5 440.2,459.2 440.2,458.9 440.2,458.6 440.2,458.3 440.2,458.0 440.2,457.7 440.2,457.4 440.2,457.1 440.2,456.8 440.2,456.5 440.3,456.2 440.3,455.9 440.3,455.6 440.3,455.3 440.3,455.0 440.3,454.7 440.3,454.4 440.3,454.1 440.3,453.8 440.3,453.5 440.3,453.2 440.3,452.9 440.3,452.6 440.3,452.3 440.4,452.0 440.4,451.7 440.4,451.4 440.4,451.1 440.4,450.8 440.4,450.5 440.4,450.2 440.4,449.9 440.4,449.6 440.4,449.3 440.4,449.0 440.4,448.7 440.4,448.4 440.4,448.1 440.5,447.8 440.5,447.5 440.5,447.2 440.5,446.9 440.5,446.6 440.5,446.3 440.5,446.0 440.5,445.7 440.5,445.4 440.5,445.1 440.5,444.9 440.6,444.5 440.6,444.2 440.6,443.9 440.6,443.6 440.6,443.4 440.6,443.0 440.6,442.7 440.6,442.4 440.6,442.1 440.7,441.8 440.7,441.5 440.7,441.2 440.7,440.9 440.7,440.5 440.7,440.3 440.7,440.0 440.7,439.7 440.7,439.3 440.8,439.1 440.8,438.8 440.8,438.6 440.8,438.2 440.8,437.9 440.8,437.7 440.8,437.3 440.8,437.0 440.8,436.8 440.9,436.5 440.9,436.1 440.9,435.9 440.9,435.5 440.9,435.2 440.9,434.9 440.9,434.6 440.9,434.3 440.9,434.0 441.0,433.7 441.0,433.4 441.0,433.1 441.0,432.8 441.0,432.6 441.2,432.0 441.4,432.4 441.5,432.3 441.7,431.9 441.9,430.5 442.1,430.4 442.2,430.3 442.4,430.0 442.6,430.4 442.8,429.5 442.9,430.0 443.1,429.2 443.3,429.0 443.4,429.4 443.6,429.5 443.8,428.0 444.0,428.0 444.1,428.8 444.3,427.3 444.5,427.3 444.6,427.6 444.6,428.3 444.7,428.5 444.7,428.9 444.8,429.0 444.8,429.1 444.9,429.5 444.9,430.0 445.0,430.2 445.0,430.3 445.1,430.8 445.1,431.1 445.2,431.4 445.2,431.7 445.3,431.9 445.4,432.1 445.4,432.8 445.5,433.1 445.5,433.2 445.6,433.4 445.6,433.8 445.7,434.2 445.7,434.7 445.8,434.8 445.8,435.3 445.9,435.4 445.9,435.5 446.0,436.0 446.0,435.7 446.0,435.4 446.1,435.1 446.1,434.7 446.1,434.5 446.1,434.3 446.2,433.8 446.2,433.5 446.2,433.2 446.2,432.9 446.3,432.7 446.3,432.3 446.3,432.1 446.3,431.7 446.4,431.4 446.4,431.2 446.4,430.9 446.4,430.7 446.5,430.3 446.5,429.9 446.5,429.6 446.5,429.3 446.6,429.0 446.6,428.7 446.6,428.5 446.6,428.0 446.7,427.8 446.7,427.4 446.7,427.3 446.7,426.9 446.8,426.7 446.8,426.2 446.8,426.0 446.8,425.7 446.8,425.4 446.8,425.1 446.8,424.8 446.8,424.5 446.8,424.2 446.8,423.9 446.8,423.6 446.8,423.3 446.9,423.0 446.9,422.7 446.9,422.4 446.9,422.1 446.9,421.8 446.9,421.5 446.9,421.2 446.9,420.9 446.9,420.6 446.9,420.3 446.9,420.0 446.9,419.7 446.9,419.4 446.9,419.1 446.9,418.8 446.9,418.5 446.9,418.2 446.9,417.9 446.9,417.6 446.9,417.3 446.9,417.0 447.0,416.7 447.0,416.4 447.0,416.1 447.0,415.8 447.0,415.5 447.0,415.2 447.0,414.9 447.0,414.6 447.0,414.3 447.0,414.0 447.0,413.7 447.0,413.4 447.0,413.1 447.0,412.8 447.0,412.5 447.0,412.2 447.0,411.9 447.0,411.6 447.0,411.3 447.1,411.0 447.1,410.7 447.1,410.4 447.1,410.1 447.1,409.8 447.1,409.5 447.1,409.2 447.1,408.9 447.1,408.6 447.1,408.3 447.1,408.0 447.1,407.7 447.1,407.4 447.1,407.1 447.1,406.8 447.1,406.5 447.1,406.2 447.1,405.9 447.1,405.6 447.1,405.3 447.1,405.0 447.2,404.7 447.2,404.4 447.2,404.1 447.2,403.8 447.2,403.5 447.2,403.2 447.2,402.9 447.2,402.6 447.2,402.3 447.2,402.1 447.3,401.5 447.3,401.8 447.4,401.3 447.5,401.0 447.6,400.9 447.6,400.2 447.7,399.8 447.8,399.5 447.9,399.2 447.9,398.9 448.0,398.7 448.1,398.3 448.2,398.2 448.2,397.8 448.3,397.5 448.4,397.5 448.5,396.9 448.6,397.0 448.6,396.7 448.7,396.0 448.8,396.1 448.9,395.3 448.9,395.0 449.0,395.0 449.0,394.7 449.0,394.4 449.0,394.1 449.0,393.8 449.0,393.5 449.0,393.2 449.0,392.9 449.0,392.6 449.0,392.3 449.0,392.0 449.0,391.7 449.0,391.4 449.0,391.1 449.1,390.8 449.1,390.5 449.1,390.2 449.1,389.9 449.1,389.6 449.1,389.3 449.1,389.0 449.1,388.7 449.1,388.4 449.1,388.1 449.1,387.8 449.1,387.5 449.1,387.2 449.1,386.9 449.1,386.6 449.1,386.3 449.1,386.0 449.1,385.7 449.1,385.4 449.1,385.1 449.1,384.8 449.1,384.5 449.1,384.2 449.1,383.9 449.1,383.6 449.1,383.3 449.1,383.0 449.1,382.7 449.2,382.4 449.2,382.1 449.2,381.8 449.2,381.5 449.2,381.2 449.2,380.9 449.2,380.6 449.2,380.3 449.2,380.0 449.2,379.7 449.2,379.4 449.2,379.1 449.2,378.8 449.2,379.7 449.5,379.2 449.7,378.7 450.0,377.8 450.2,378.4 450.5,378.6 450.7,377.7 451.0,377.7 451.3,378.3 451.5,376.5 451.8,376.4 452.0,375.5 452.3,377.5 452.5,376.7 452.8,376.7 453.1,375.4 453.4,375.2 453.7,376.0 454.0,377.2 454.3,375.6 454.6,375.8 454.9,375.7 455.2,377.0 455.5,374.8 455.8,377.0 456.1,374.4 456.4,376.4 456.7,376.6 457.0,375.7 457.3,376.4 457.6,375.0 457.9,374.6 458.2,375.2 458.5,374.9 458.8,376.2 459.1,375.7 459.4,376.0 459.7,376.9 460.0,376.2 460.3,376.3 460.6,376.8 460.9,376.6 461.2,376.0 461.5,374.8 461.8,375.3 462.1,376.0 462.4,376.0 462.7,376.3 463.0,375.8 463.3,375.6 463.6,374.3 463.9,375.4 464.2,374.1 464.5,375.5 464.8,374.1 465.1,373.6 465.4,376.4 465.7,376.2 466.0,374.5 466.3,373.7 466.6,376.1 466.9,375.9 467.2,374.1 467.5,376.1 467.8,376.2 468.2,375.4 468.5,374.5 468.8,373.9 469.1,373.9 469.4,375.0 469.7,375.9 470.0,375.6 470.3,374.4 470.6,376.1 470.9,374.0 471.2,375.6 471.5,374.3 471.8,373.8 472.1,374.4 472.4,376.2 472.7,374.5 473.0,373.9 473.3,375.3 473.6,374.9 473.9,375.6 474.2,375.6 474.5,376.0 474.8,376.7 475.1,374.9 475.4,375.8 475.7,374.3 476.1,374.7 476.4,374.3 476.7,376.6 477.0,375.0 477.3,376.1 477.6,376.6 477.9,375.2 478.2,374.7 478.5,374.8 478.8,375.5 479.1,375.2 479.4,374.3 479.7,376.6 480.0,376.0 480.3,376.7 480.6,376.6 480.9,376.3 481.2,376.6 481.5,376.2 481.8,375.4 482.1,376.5 482.4,376.8 482.7,374.4 483.0,374.5 483.3,374.6 483.6,375.4 483.9,376.7 484.2,375.6 484.5,376.6 484.8,375.2 485.2,375.7 485.5,374.8 485.8,376.0 486.1,374.8 486.4,374.1 486.7,375.2 487.0,375.7 487.3,376.7 487.6,374.9 487.9,376.8 488.2,376.5 488.5,374.5 488.8,376.3 489.1,376.8 489.4,376.9 489.7,376.1 490.0,375.2 490.3,375.6 490.6,375.9 490.9,375.8 491.2,374.6 491.5,376.6 491.8,375.6 492.1,374.2 492.4,374.9 492.7,374.2 493.0,375.4 493.3,374.2 493.6,375.6 493.9,374.8 494.2,376.4 494.5,376.3 494.8,374.5 495.2,376.4 495.5,375.7 495.8,374.8 496.1,376.7 496.4,374.0 496.7,375.1 497.0,375.7 497.3,374.4 497.6,375.4 497.9,376.6 498.2,374.9 498.5,376.0 498.8,374.5 499.1,376.8 499.4,376.8 499.7,374.4 500.0,376.2 500.3,374.9 500.6,374.0 500.9,374.5 501.2,376.1 501.5,375.3 501.8,375.5 502.1,374.2 502.4,374.4 502.7,374.9 503.0,375.4 503.3,376.3 503.6,375.2 503.9,374.8 504.2,376.6 504.5,375.9 504.8,376.1 505.1,376.2 505.4,375.2 505.7,374.6 506.0,374.1 506.3,375.7 506.6,376.0 506.9,376.5 507.2,376.5 507.5,375.3 507.8,375.2 508.1,376.6 508.4,374.0 508.7,374.9 509.0,375.4 509.3,375.5 509.6,375.5 509.9,374.2 510.2,375.2 510.5,374.2 510.8,374.8 511.1,374.2 511.4,374.6 511.7,375.5 512.0,374.9 512.3,374.2 512.6,375.1 512.9,375.7 513.2,374.5 513.5,374.4 513.8,374.9 514.1,375.7 514.4,373.7 514.7,375.6 515.0,373.8 515.3,376.3 515.6,374.2 515.9,376.1 516.2,373.7 516.5,375.0 516.8,374.3 517.1,375.9 517.4,375.9 517.7,373.9 518.0,373.7 518.3,375.7 518.6,374.8 518.9,374.6 519.2,374.6 519.5,374.6 519.8,375.2 520.1,374.7 520.4,373.9 520.7,374.9 521.0,376.4 521.3,375.8 521.6,375.6 521.9,376.2 522.2,374.8 522.5,374.5 522.8,375.8 523.1,373.7 523.4,375.7 523.7,373.9 524.0,375.3 524.3,375.0 524.6,375.7 524.9,373.6 525.2,375.4 525.5,375.9 525.8,373.5 526.1,375.4 526.4,374.2 526.7,375.6 527.0,376.3 527.3,373.4 527.6,374.6 527.9,374.8 528.2,376.3 528.5,376.1 528.8,373.4 529.1,373.7 529.4,374.5 529.7,375.7 530.0,375.7 530.3,375.0 530.6,376.1 530.9,375.8 531.2,375.9 531.5,375.2 531.8,374.1 532.1,375.5 532.4,375.5 532.7,376.1 533.0,373.8 533.3,373.4 533.6,374.3 533.9,374.1 534.2,374.5 534.5,373.5 534.8,375.2 535.1,374.6 535.4,374.1 535.7,373.6 536.0,375.1 536.3,373.6 536.6,375.9 536.9,374.2 537.2,376.0 537.5,373.7 537.8,374.5 538.1,375.7 538.4,374.9 538.7,374.7 539.0,376.0 539.3,373.9 539.6,375.9 539.9,374.9 540.2,374.2 540.5,374.4 540.8,374.2 541.1,375.3 541.4,374.7 541.7,374.9 542.0,375.3 542.3,376.0 542.6,375.5 542.9,374.3 543.2,375.4 543.5,375.5 543.8,376.1 544.1,374.6 544.4,375.0 544.7,375.7 545.0,374.4 545.3,374.4 545.6,375.3 545.9,374.5 546.2,375.9 546.5,374.5 546.8,374.1 547.1,375.2 547.4,375.2 547.7,376.4 548.0,376.2 548.3,374.7 548.6,374.8 548.9,375.4 549.2,374.9 549.5,375.2 549.8,374.6 550.1,376.0 550.4,376.1 550.7,375.8 551.0,375.7 551.3,376.1 551.6,374.2 551.9,376.3 552.2,374.1 552.5,373.8 552.8,374.9 553.1,373.9 553.4,374.2 553.7,375.3 554.0,373.9 554.3,374.7 554.6,374.6 554.9,376.3 555.2,373.7 555.5,375.0 555.8,374.9 556.1,374.0 556.4,374.5 556.7,374.6 557.0,374.6 557.3,375.2 557.6,375.2 557.9,374.9 558.2,374.8 558.5,375.3 558.8,374.9 559.1,373.9 559.4,375.5 559.7,374.7 560.0,376.1 560.3,373.9 560.6,375.1 560.9,374.4 561.2,375.4 561.5,376.0 561.8,375.5 562.1,375.3 562.4,376.3 562.7,374.2 563.0,376.5 563.3,374.9 563.6,375.5 563.9,374.0 564.2,373.7 564.5,374.1 564.8,375.2 565.1,374.3 565.4,376.0 565.7,374.1 566.0,375.6 566.3,376.3 566.6,375.7 566.9,376.4 567.2,376.1 567.5,376.2 567.8,373.8 568.1,375.2 568.4,374.5 568.7,375.0 569.0,375.8 569.3,375.9 569.6,374.3 569.9,374.2 570.2,373.9 570.5,375.9 570.8,376.2 571.1,374.0 571.4,374.2 571.7,374.3 572.0,376.9 572.3,374.3 572.6,375.8 572.9,376.8 573.2,374.9 573.4,376.4 573.7,375.5 574.0,376.5 574.3,376.1 574.6,375.2 574.9,377.5 575.2,376.4 575.5,377.9 575.8,376.9 576.1,378.0 576.4,377.2 576.7,375.6 577.0,375.5 577.3,378.4 577.5,377.6 577.8,378.0 578.1,378.2 578.4,377.0 578.7,378.0 579.0,378.0 579.3,376.4 579.6,377.8 579.9,379.0 580.2,378.0 580.5,378.8 580.8,376.8 581.1,377.9 581.4,378.2 581.7,378.5 581.9,379.4 582.2,378.5 582.5,378.8 582.8,378.7 583.1,379.2 583.4,379.1 583.7,378.6 584.0,378.5 584.3,379.7 584.5,378.3 584.8,379.0 585.1,377.7 585.3,379.4 585.6,377.3 585.9,377.6 586.1,377.3 586.4,378.4 586.6,377.9 586.9,376.5 587.2,376.3 587.4,377.4 587.7,376.6 587.8,376.7 587.8,377.0 587.9,377.6 587.9,377.9 588.0,378.2 588.0,378.2 588.1,378.7 588.1,378.8 588.2,379.3 588.2,379.4 588.2,379.7 588.3,380.2 588.4,380.3 588.4,380.9 588.5,380.9 588.5,381.3 588.6,381.8 588.6,381.9 588.6,382.2 588.7,382.7 588.8,382.9 588.8,383.3 588.9,383.6 588.9,384.0 589.0,383.9 589.0,384.3 589.1,384.6 589.1,384.8 589.1,385.4 589.2,385.5 589.2,386.1 589.3,385.9 589.4,386.4 589.4,386.8 589.5,387.2 589.5,387.3 589.6,387.8 589.6,387.8 589.6,388.2 589.7,388.4 589.8,388.7 589.8,389.1 589.9,389.5 589.9,389.6 590.0,390.0 590.0,390.3 590.0,390.9 590.1,390.9 590.1,391.4 590.2,391.4 590.2,392.0 590.3,391.9 590.4,392.2 590.4,392.8 590.5,393.0 590.5,393.3 590.5,393.6 590.5,393.9 590.5,394.2 590.6,394.5 590.6,394.8 590.6,395.1 590.6,395.4 590.6,395.7 590.6,396.0 590.6,396.4 590.6,396.6 590.7,396.9 590.7,397.2 590.7,397.5 590.7,397.8 590.7,398.1 590.7,398.4 590.7,398.8 590.8,399.1 590.8,399.4 590.8,399.6 590.8,399.9 590.8,400.2 590.8,400.5 590.8,400.8 590.8,401.2 590.9,401.4 590.9,401.8 590.9,402.1 590.9,402.3 590.9,402.6 590.9,403.0 590.9,403.2 591.0,403.5 591.0,403.9 591.0,404.1 591.0,404.4 591.0,404.7 591.0,405.1 591.0,405.3 591.0,405.6 591.1,405.9 591.1,406.2 591.1,406.6 591.1,406.9 591.1,407.1 591.1,407.5 591.1,407.7 591.2,408.0 591.2,408.4 591.2,408.6 591.2,409.0 591.2,409.2 591.2,409.6 591.2,409.9 591.2,410.2 591.3,410.5 591.3,410.7 591.3,411.0 591.3,411.3 591.3,411.7 591.3,412.0 591.3,412.3 591.4,412.6 591.4,412.9 591.4,413.2 591.4,413.4 591.4,413.8 591.4,414.1 591.4,414.3 591.4,414.6 591.5,415.0 591.5,415.2 591.5,415.5 591.5,415.9 591.5,416.1 591.5,416.4 591.5,416.7 591.6,417.0 591.6,417.4 591.6,417.6 591.6,417.9 591.6,418.2 591.6,418.6 591.6,418.9 591.6,419.1 591.7,419.5 591.7,419.7 591.7,420.0 591.7,420.3 591.7,420.7 591.7,420.9 591.7,421.3 591.8,421.5 591.8,421.8 591.8,422.1 591.8,422.5 591.8,422.8 591.8,423.1 591.8,423.4 591.8,423.7 591.9,424.0 591.9,424.3 591.9,424.6 591.9,424.9 591.9,425.1 591.9,425.4 591.9,425.8 592.0,426.1 592.0,426.4 592.0,426.7 592.0,426.9 592.0,427.2 592.0,427.6 592.0,427.9 592.0,428.2 592.1,428.5 592.1,428.7 592.1,429.0 592.1,429.3 592.1,429.7 592.1,430.0 592.1,430.3 592.2,430.6 592.2,430.9 592.2,431.1 592.2,431.5 592.2,431.8 592.2,432.1 592.2,432.4 592.2,432.7 592.3,433.0 592.3,433.3 592.3,433.6 592.3,433.9 592.3,434.2 592.3,434.5 592.3,434.8 592.3,435.1 592.4,435.4 592.4,435.7 592.4,436.0 592.4,436.3 592.4,436.6 592.4,437.0 592.4,437.2 592.4,437.5 592.5,437.8 592.5,438.2 592.5,438.5 592.5,438.7 592.5,439.0 592.5,439.3 592.5,439.7 592.5,439.9 592.5,440.2 592.6,440.6 592.6,440.9 592.6,441.2 592.6,441.5 592.6,441.8 592.6,442.1 592.6,442.4 592.6,442.6 592.6,443.0 592.7,443.3 592.7,443.6 592.7,443.9 592.7,444.2 592.7,444.4 592.7,444.7 592.7,445.0 592.7,445.4 592.8,445.7 592.8,446.0 592.8,446.3 592.8,446.5 592.8,446.8 592.8,447.1 592.8,447.5 592.8,447.8 592.8,448.0 592.9,448.4 592.9,448.7 592.9,449.0 592.9,449.3 592.9,449.5 592.9,449.9 592.9,450.2 592.9,450.4 593.0,450.8 593.0,451.1 593.0,451.4 593.0,451.7 593.0,452.0 593.0,452.3 593.0,452.6 593.0,452.9 593.0,453.2 593.1,453.4 593.1,453.8 593.1,454.0 593.1,454.4 593.1,454.7 593.1,455.0 593.1,455.3 593.1,455.6 593.1,455.9 593.2,456.2 593.2,456.5 593.2,456.8 593.2,457.1 593.2,457.3 593.2,457.6 593.2,458.0 593.2,458.3 593.3,458.7 593.3,458.9 593.3,459.2 593.3,459.5 593.3,459.7 593.4,459.9 593.4,460.2 593.5,460.4 593.6,461.0 593.7,461.3 593.7,461.4 593.8,461.9 593.9,462.2 593.9,462.6 594.0,462.6 594.1,462.9 594.2,463.6 594.2,463.8 594.3,464.1 594.4,464.1 594.5,464.6 594.5,464.7 594.6,465.3 594.7,465.7 594.7,465.7 594.8,466.0 594.9,466.5 595.0,466.6 595.0,466.8 595.1,467.0 595.1,467.1 595.2,466.6 595.2,466.5 595.3,465.9 595.4,465.9 595.4,465.6 595.5,465.0 595.5,465.0 595.6,464.3 595.6,464.3 595.6,464.1 595.7,463.8 595.8,463.2 595.8,463.0 595.9,462.6 595.9,462.7 596.0,462.2 596.0,462.0 596.0,461.6 596.1,461.2 596.1,461.2 596.2,460.9 596.2,460.5 596.3,460.2 596.4,460.0 596.4,459.4 596.5,459.1 596.5,459.0 596.5,458.7 596.6,458.4 596.6,458.1 596.7,457.7 596.8,457.2 596.8,457.3 596.9,457.0 596.9,456.5 597.0,456.1 597.0,456.1 597.0,455.5 597.1,455.2 597.1,455.1 597.2,454.7 597.2,454.6 597.3,453.9 597.4,454.1 597.4,453.5 597.4,453.3 597.5,452.7 597.5,452.6 597.6,452.4 597.6,452.3 597.7,451.6 597.8,451.3 597.8,451.4 597.9,451.1 597.9,450.6 597.9,450.9 597.9,451.2 597.9,451.5 597.9,451.8 597.9,452.1 597.9,452.4 597.8,452.7 597.8,453.0 597.8,453.3 597.8,453.6 597.8,453.9 597.8,454.2 597.8,454.5 597.8,454.8 597.8,455.1 597.8,455.4 597.8,455.7 597.8,456.0 597.8,456.3 597.7,456.6 597.7,456.9 597.7,457.2 597.7,457.5 597.7,457.8 597.7,458.1 597.7,458.4 597.7,458.7 597.7,459.0 597.7,459.3 597.7,459.6 597.7,459.9 597.7,460.2 597.6,460.5 597.6,460.8 597.6,461.1 597.6,461.4 597.6,461.7 597.6,462.0 597.6,462.3 597.6,462.6 597.6,462.9 597.6,463.2 597.6,463.5 597.6,463.8 597.6,464.1 597.5,464.4 597.5,464.7 597.5,465.0 597.5,465.3 597.5,465.6 597.5,465.9 597.5,466.2 597.5,466.5 597.5,466.8 597.5,467.1 597.5,467.4 597.5,467.7 597.5,468.0 597.4,468.3 597.4,468.6 597.4,468.9 597.4,469.2 597.4,469.5 597.4,469.8 597.4,470.1 597.4,470.4 597.4,470.7 597.4,471.0 597.4,471.3 597.4,471.6 597.4,471.9 597.3,472.2 597.3,472.5 597.3,472.8 597.3,473.1 597.3,473.4 597.3,473.7 597.3,474.0 597.3,474.3 597.3,474.6 597.3,474.9 597.3,475.2 597.3,475.5 597.3,475.8 597.2,476.1 597.2,476.4 597.2,476.7 597.2,477.0 597.2,477.3 597.2,477.6 597.2,477.9 597.2,478.2 597.2,478.5 597.2,478.8 597.2,479.1 597.2,479.4 597.2,479.7 597.1,480.0 597.1,480.3 597.1,480.6 597.1,480.9 597.1,481.2 597.1,481.5 597.1,481.8 597.1,482.1 597.1,482.4 597.1,482.7 597.1,483.0 597.1,483.3 597.1,483.6 597.0,483.9 597.0,484.2 597.0,484.5 597.0,484.8 597.0,485.1 597.0,485.4 597.0,486.5 597.2,486.2 597.3,485.3 597.5,485.1 597.6,484.8 597.8,484.5 598.0,484.7 598.1,484.7 598.3,483.4 598.4,483.3 598.6,483.0 598.7,482.2 598.9,482.1 599.1,481.9 599.2,482.5 599.4,481.4 599.5,481.8 599.7,482.1 599.9,481.0 600.0,481.6 600.2,480.2 600.3,480.1 600.5,479.5 600.6,479.3 600.8,479.4 601.0,479.8 601.1,479.3 601.3,478.4 601.4,477.9 601.6,478.2 601.6,478.6 601.7,478.9 601.7,479.1 601.7,479.4 601.8,479.9 601.8,480.1 601.8,480.3 601.8,480.8 601.9,480.9 601.9,481.4 601.9,481.5 602.0,482.1 602.0,482.3 602.0,482.5 602.0,482.8 602.1,483.3 602.1,483.5 602.1,483.8 602.2,484.1 602.2,484.3 602.2,484.7 602.3,485.0 602.3,485.4 602.3,485.8 602.4,486.0 602.4,486.2 602.4,486.5 602.4,487.0 602.5,487.2 602.5,487.7 602.7,486.8 603.0,488.6 603.2,488.1 603.5,487.9 603.7,488.6 603.9,488.3 604.2,488.8 604.4,489.4 604.4,489.7 604.4,490.0 604.4,490.3 604.4,490.6 604.4,490.9 604.5,491.2 604.5,491.5 604.5,491.8 604.5,492.1 604.5,492.4 604.5,492.7 604.5,493.0 604.5,493.3 604.5,493.6 604.5,493.9 604.6,494.2 604.6,494.5 604.6,494.8 604.6,495.1 604.6,495.4 604.6,495.7 604.6,496.0 604.6,496.3 604.6,496.6 604.6,496.9 604.7,497.3 604.7,497.5 604.7,497.9 604.7,498.1 604.7,498.4 604.7,498.8 604.7,499.0 604.7,499.3 604.7,499.6 604.7,500.0 604.8,500.2 604.8,500.6 604.8,500.8 604.8,501.2 604.8,501.4 604.8,501.7 604.8,502.0 604.8,502.3 604.8,502.7 604.8,503.0 604.8,503.3 604.9,503.5 604.9,503.9 604.9,504.2 604.9,504.4 604.9,504.8 604.9,505.0 604.9,505.4 604.9,505.7 604.9,506.0 604.9,506.3 605.0,506.5 605.0,506.8 605.0,507.2 605.0,507.5 605.0,507.8 605.0,508.0 605.0,508.4 605.0,508.7 605.0,509.0 605.0,509.3 605.1,509.5 605.1,509.9 605.1,510.2 605.1,510.5 605.1,510.7 605.1,511.1 605.1,511.4 605.1,511.7 605.1,512.0 605.1,512.3 605.2,512.6 605.2,512.9 605.2,513.2 605.2,513.5 605.2,513.7 605.2,514.1 605.2,514.4 605.2,514.7 605.2,515.0 605.2,515.3 605.3,515.6 605.3,515.9 605.3,516.1 605.3,516.5 605.3,516.8 605.3,517.0 605.3,517.5 605.4,517.7 605.4,517.9 605.4,518.4 605.4,518.5 605.5,518.9 605.5,519.2 605.5,519.6 605.5,519.9 605.6,520.2 605.6,520.3 605.6,520.7 605.6,520.9 605.7,521.4 605.7,521.6 605.7,522.0 605.8,522.1 605.8,522.6 605.8,522.8 605.8,523.0 605.9,523.5 605.9,523.9 605.9,524.1 605.9,524.5 606.0,524.6 606.0,525.0 606.0,525.3 606.1,525.6 606.1,526.0 606.1,526.2 606.1,526.4 606.2,526.8 606.2,527.2 606.2,527.4 606.2,527.7 606.3,527.9 606.3,528.4 606.3,528.7 606.3,528.8 606.4,529.3 606.4,529.6 606.4,529.8 606.5,530.0 606.5,530.5 606.5,530.7 606.5,531.0 606.6,531.2 606.6,531.6 606.6,532.0 606.6,532.2 606.7,532.6 606.7,532.9 606.7,533.1 606.8,533.5 606.8,533.8 606.8,533.9 606.8,534.4 606.9,534.5 606.9,535.0 606.9,535.4 606.9,535.7 607.0,535.8 607.0,536.3 607.0,536.4 607.0,536.8 607.1,537.2 607.1,536.4 607.3,537.1 607.5,537.9 607.7,539.1 608.0,537.6 608.2,538.4 608.4,539.5 608.6,538.2 608.8,539.8 609.0,539.9 609.3,540.2 609.5,539.4 609.7,540.2 609.9,539.8 610.0,539.7 610.1,540.0 610.3,538.9 610.4,539.1 610.5,538.3 610.6,538.8 610.7,538.3 610.8,537.5 611.0,538.1 611.1,537.5 611.2,537.2 611.3,536.3 611.4,536.8 611.6,536.4 611.7,535.8 611.8,535.1 611.9,536.2 612.0,535.8 612.1,536.8 612.2,536.8 612.4,536.8 612.5,537.2 612.6,537.3 612.7,537.8 612.8,538.5 612.9,538.5 613.0,538.5 613.1,539.2 613.3,539.8 613.4,539.1 613.5,539.8 613.6,540.5 613.7,540.4 613.8,540.3 613.9,540.5 614.0,541.4 614.2,541.5 614.3,541.3 614.4,541.6 614.5,542.1 614.6,542.6 614.7,542.8 614.8,542.9 614.9,543.1 615.1,543.8 615.2,544.3 615.3,544.1 615.4,544.5 615.5,544.9 615.6,545.0 615.6,545.6 615.7,545.4 615.7,545.9 615.8,546.3 615.8,546.4 615.9,546.6 616.0,547.3 616.0,547.5 616.1,547.9 616.1,548.3 616.2,548.3 616.3,548.9 616.3,549.2 616.4,549.6 616.4,549.5 616.5,549.7 616.5,550.4 616.6,550.3 616.7,550.5 616.7,551.2 616.8,551.5 616.8,551.8 616.9,551.8 617.0,552.4 617.0,552.5 617.1,552.9 617.1,553.3 617.2,553.4 617.2,553.7 617.3,555.0 617.6,554.7 617.8,555.3 618.1,553.3 618.4,555.4 618.7,554.0 618.9,554.5 619.2,555.5 619.5,556.0 619.8,555.7 620.0,555.5 620.3,555.7 620.6,556.1 620.9,555.2 621.1,555.7 621.4,556.0 621.7,555.3 622.0,556.3 622.2,557.1 622.5,555.4 622.8,556.4 623.1,558.2 623.4,558.2 623.7,555.9 624.0,558.3 624.3,558.3 624.6,557.5 625.0,556.3 625.3,557.1 625.6,556.2 625.9,557.4 626.2,556.1 626.5,557.0 626.8,556.3 627.1,558.0 627.4,557.0 627.7,558.5 628.0,558.5 628.4,556.6 628.7,558.3 629.0,558.4 629.3,557.0 629.6,558.7 629.9,556.5 630.2,557.3 630.5,558.4 630.8,558.8 631.1,559.3 631.4,558.2 631.7,558.8 632.0,559.5 632.3,559.5 632.6,557.8 632.9,558.1 633.2,559.2 633.5,558.5 633.8,557.3 634.1,559.8 634.4,558.3 634.7,557.7 635.0,558.2 635.3,557.4 635.6,560.1 635.9,557.8 636.2,557.5 636.5,560.4 636.8,558.5 637.1,559.5 637.4,558.8 637.7,558.8 638.0,560.6 638.3,560.1 638.6,558.9 638.9,560.4 639.2,560.3 639.5,559.6" fill="none" stroke="#17348f" stroke-width="2.4" stroke-linejoin="round" stroke-linecap="round"/>
<polygon points="440.9,432.5 444.6,427.5 446.6,437.5 443.2,445.0 441.0,441.5" fill="#1f3f9c" stroke="#17348f" stroke-width="1.0" stroke-linejoin="round"/>
<polygon points="446.4,401.0 447.8,394.0 449.4,395.0 449.1,401.5 447.6,402.8" fill="#17348f" stroke="#17348f" stroke-width="1.0" stroke-linejoin="round"/>
<polygon points="591.2,440.0 591.5,462.2 593.2,464.8 594.0,477.0 594.8,486.2 598.2,489.3 601.9,490.3 602.7,497.0 606.2,497.0 605.3,486.5 603.0,485.0 602.9,479.1 599.3,475.0 599.0,469.6 598.4,451.6 597.7,449.9 596.6,450.9 596.0,457.0 593.5,452.8 592.8,440.0" fill="#1f3f9c" stroke="#17348f" stroke-width="1.0" stroke-linejoin="round"/>
<polyline points="667.4,559.9 667.7,560.3 668.0,560.4 668.3,560.8 668.6,560.2 668.9,560.7 669.2,558.2 669.5,559.4 669.8,560.8 670.1,559.9 670.4,560.6 670.7,558.4 671.0,559.4 671.3,558.8 671.6,559.6 671.9,559.6 672.2,558.1 672.5,558.6 672.8,558.8 673.1,560.6 673.4,560.1 673.7,558.4 674.0,560.2 674.3,558.3 674.6,559.7 674.9,558.3 675.2,557.9 675.5,560.4 675.8,558.5 676.1,558.5 676.4,560.6 676.7,560.3 677.0,558.7 677.3,560.5 677.6,559.4 677.9,559.7 678.2,558.4 678.5,560.4 678.8,559.7 679.1,560.5 679.4,560.3 679.7,558.6 680.0,558.8 680.3,558.2 680.7,558.1 681.0,557.9 681.3,558.6 681.6,559.4 681.9,557.7 682.2,559.6 682.5,558.6 682.8,558.5 683.1,559.9 683.4,559.0 683.7,558.5 684.0,559.0 684.3,559.6 684.6,557.8 684.9,560.3 685.2,557.6 685.5,559.7 685.8,559.9 686.1,557.6 686.4,559.7 686.7,558.6 687.0,559.1 687.3,557.5 687.6,557.6 687.9,558.0 688.2,560.2 688.5,558.0 688.8,559.6 689.1,560.0 689.4,560.1 689.7,558.4 690.0,558.4 690.3,558.9 690.6,559.6 690.9,557.7 691.2,559.5 691.5,559.6 691.8,559.8 692.1,557.4 692.4,560.0 692.7,557.6 693.0,558.3 693.3,558.9 693.5,559.3 693.7,557.9 694.0,558.9 694.2,557.9 694.4,557.2 694.6,557.0 694.8,556.5 695.0,556.1 695.3,556.0 695.5,556.9 695.7,557.3 695.9,555.4 696.1,555.0 696.3,556.6 696.6,555.5 696.8,555.0 697.0,554.3 697.3,555.3 697.6,555.9 697.9,554.9 698.2,554.8 698.5,553.8 698.8,556.2 699.2,553.7 699.5,555.0 699.8,555.9 700.1,554.0 700.4,555.6 700.7,556.3 701.0,555.4 701.3,555.8 701.6,553.9 701.9,554.8 702.2,554.0 702.5,556.0 702.8,554.4 703.1,554.9 703.5,556.4 703.8,556.0 704.1,556.3 704.4,554.9 704.7,555.0 705.0,555.6 705.3,555.0 705.4,554.6 705.4,554.4 705.5,553.9 705.5,553.7 705.6,553.7 705.6,553.4 705.7,553.0 705.7,552.6 705.8,552.2 705.8,551.8 705.9,551.6 705.9,551.5 706.0,551.3 706.0,550.7 706.1,550.6 706.1,550.3 706.2,550.0 706.3,549.7 706.3,549.4 706.4,548.9 706.4,548.8 706.5,548.3 706.5,548.1 706.6,547.9 706.6,547.6 706.7,547.1 706.7,547.1 706.8,546.7 706.8,546.3 706.9,545.8 706.9,545.7 707.0,545.3 707.0,545.2 707.1,544.8 707.1,544.6 707.1,544.2 707.2,544.0 707.2,543.6 707.2,543.3 707.2,543.1 707.3,542.8 707.3,542.4 707.3,542.2 707.3,541.9 707.4,541.5 707.4,541.3 707.4,541.0 707.4,540.6 707.5,540.3 707.5,539.9 707.5,539.8 707.5,539.5 707.6,539.1 707.6,538.8 707.6,538.5 707.6,538.3 707.6,537.8 707.7,537.7 707.7,537.3 707.7,537.0 707.7,536.7 707.8,536.4 707.8,536.2 707.8,535.8 707.8,535.5 707.9,535.1 707.9,534.8 707.9,534.6 707.9,534.3 708.0,533.9 708.0,533.7 708.0,533.4 708.0,533.0 708.0,532.8 708.1,532.4 708.1,532.1 708.1,531.8 708.1,531.6 708.2,531.2 708.2,530.9 708.2,530.6 708.2,530.4 708.3,530.1 708.3,529.8 708.3,529.5 708.3,529.1 708.4,529.0 708.4,528.5 708.4,528.3 708.4,528.0 708.5,527.7 708.5,527.3 708.5,527.2 708.5,526.8 708.5,526.4 708.6,526.2 708.6,525.8 708.6,525.6 708.6,525.3 708.7,525.0 708.7,524.8 708.7,524.5 708.7,524.1 708.8,523.9 708.8,523.5 708.8,523.2 708.8,522.8 708.9,522.6 708.9,522.3 708.9,522.1 708.9,521.8 709.0,521.4 709.0,521.1 709.0,521.9 709.3,519.4 709.6,519.6 709.9,520.8 710.2,520.9 710.5,519.5 710.8,520.8 711.1,521.5 711.5,520.0 711.8,520.1 712.1,519.4 712.4,519.6 712.7,521.4 713.0,519.7 713.3,521.2 713.6,520.1 713.6,520.2 713.7,520.4 713.7,521.0 713.8,521.1 713.8,521.4 713.9,521.7 713.9,522.3 713.9,522.4 714.0,522.6 714.0,523.0 714.1,523.2 714.1,523.7 714.2,523.9 714.2,524.2 714.2,524.7 714.3,525.0 714.3,525.0 714.4,525.5 714.4,525.7 714.5,526.3 714.5,526.4 714.5,526.1 714.5,525.8 714.5,525.5 714.5,525.2 714.5,524.9 714.5,524.6 714.5,524.3 714.5,524.0 714.5,523.7 714.6,523.4 714.6,523.1 714.6,522.8 714.6,522.5 714.6,522.2 714.6,521.9 714.6,521.6 714.6,521.3 714.6,521.0 714.6,520.7 714.6,520.4 714.6,520.1 714.6,519.8 714.6,519.5 714.6,519.2 714.6,518.9 714.6,518.6 714.6,518.3 714.7,518.0 714.7,517.7 714.7,517.4 714.7,517.1 714.7,516.8 714.7,516.5 714.7,516.2 714.7,515.9 714.7,515.6 714.7,515.3 714.7,515.0 714.7,514.7 714.7,514.4 714.7,514.1 714.7,513.8 714.7,513.5 714.7,513.2 714.7,512.9 714.7,512.6 714.8,512.3 714.8,512.0 714.8,511.7 714.8,511.4 714.8,511.1 714.8,510.8 714.8,510.5 714.8,510.2 714.8,509.9 714.8,509.6 714.8,509.3 714.8,509.0 714.8,508.7 714.8,508.4 714.8,508.1 714.8,507.8 714.8,507.5 714.8,507.2 714.9,506.9 714.9,506.6 714.9,506.3 714.9,506.0 714.9,505.7 714.9,505.4 714.9,505.1 714.9,504.8 714.9,504.5 714.9,504.2 714.9,503.9 714.9,503.6 714.9,503.3 714.9,503.0 714.9,502.7 714.9,502.4 714.9,502.1 714.9,501.8 714.9,501.5 715.0,501.2 715.0,500.9 715.0,500.6 715.0,500.3 715.0,500.0 715.0,499.7 715.0,499.4 715.0,499.1 715.0,498.8 715.0,498.5 715.0,498.2 715.0,497.9 715.0,497.6 715.0,497.3 715.0,497.0 715.0,496.7 715.0,496.4 715.0,496.1 715.1,495.8 715.1,495.5 715.1,495.2 715.1,494.9 715.1,494.6 715.1,494.3 715.1,494.0 715.1,493.7 715.1,493.4 715.1,493.1 715.1,492.8 715.1,492.5 715.1,492.2 715.1,491.9 715.1,491.6 715.1,491.3 715.1,491.0 715.1,490.7 715.1,490.4 715.2,490.1 715.2,489.8 715.2,489.5 715.2,489.2 715.2,488.9 715.2,488.6 715.2,488.3 715.2,488.0 715.2,487.7 715.2,487.4 715.2,487.1 715.2,486.8 715.2,486.5 715.2,486.2 715.2,485.9 715.2,485.6 715.2,485.3 715.2,485.0 715.3,484.7 715.3,484.4 715.3,484.1 715.3,483.8 715.3,483.5 715.3,483.2 715.3,482.9 715.3,482.6 715.3,482.3 715.3,482.0 715.3,481.7 715.3,481.4 715.3,481.1 715.3,480.8 715.3,480.5 715.3,480.2 715.3,479.9 715.3,479.6 715.3,479.3 715.4,479.0 715.4,478.7 715.4,478.4 715.4,478.1 715.4,477.8 715.4,477.5 715.4,477.2 715.4,476.9 715.4,476.6 715.4,476.3 715.4,476.0 715.4,475.7 715.4,475.4 715.4,475.1 715.4,474.8 715.4,474.5 715.4,474.2 715.4,473.9 715.5,473.6 715.5,473.3 715.5,473.0 715.5,472.7 715.5,472.4 715.5,472.1 715.5,471.8 715.5,471.5 715.5,471.2 715.5,471.0 715.5,470.6 715.5,470.3 715.5,470.0 715.6,469.7 715.6,469.3 715.6,469.1 715.6,468.7 715.6,468.5 715.6,468.2 715.6,467.8 715.7,467.5 715.7,467.2 715.7,466.9 715.7,466.6 715.7,466.3 715.7,466.1 715.8,465.7 715.8,465.4 715.8,465.1 715.8,464.8 715.8,464.6 715.8,464.3 715.8,463.9 715.9,463.6 715.9,463.3 715.9,463.1 715.9,462.7 715.9,462.4 715.9,462.2 715.9,461.7 716.0,461.4 716.0,461.2 716.0,460.9 716.0,460.5 716.0,460.3 716.0,460.0 716.0,459.7 716.1,459.4 716.1,459.0 716.1,458.7 716.1,458.5 716.1,458.2 716.1,457.9 716.1,457.5 716.2,457.2 716.2,456.9 716.2,456.6 716.2,456.3 716.2,456.0 716.2,455.7 716.3,455.4 716.3,455.1 716.3,454.8 716.3,454.6 716.3,454.2 716.3,453.9 716.3,453.6 716.4,453.3 716.4,453.0 716.4,452.7 716.4,452.3 716.4,452.1 716.4,451.9 716.4,451.5 716.5,451.2 716.5,450.8 716.5,450.5 716.5,450.3 716.5,450.0 716.5,449.7 716.5,449.4 716.6,449.1 716.6,448.8 716.6,448.5 716.6,448.1 716.6,447.8 716.6,447.6 716.7,447.2 716.7,446.9 716.7,446.6 716.7,446.3 716.7,446.1 716.7,445.8 716.7,445.4 716.8,445.1 716.8,444.8 716.8,444.5 716.8,444.2 716.8,443.9 716.8,443.6 716.8,443.3 716.9,442.9 716.9,442.7 716.9,442.3 716.9,442.0 716.9,441.8 716.9,441.5 716.9,441.1 717.0,440.9 717.0,440.5 717.0,440.3 717.0,440.0 717.0,439.7 717.0,439.4 717.0,439.1 717.1,438.8 717.1,438.4 717.1,438.2 717.1,437.9 717.1,437.6 717.1,437.3 717.2,437.0 717.2,436.6 717.2,436.4 717.2,436.0 717.2,435.7 717.2,435.4 717.2,435.1 717.3,434.8 717.3,434.5 717.3,434.2 717.3,433.9 717.3,433.6 717.3,433.3 717.3,432.9 717.3,432.6 717.4,432.4 717.4,432.1 717.4,431.8 717.4,431.6 717.4,431.2 717.4,430.9 717.4,430.6 717.4,430.3 717.5,430.0 717.5,429.6 717.5,429.4 717.5,429.1 717.5,428.8 717.5,428.5 717.5,428.2 717.5,427.9 717.6,427.6 717.6,427.3 717.6,427.0 717.6,426.7 717.6,426.4 717.6,426.1 717.6,425.8 717.6,425.5 717.7,425.2 717.7,424.9 717.7,424.6 717.7,424.3 717.7,424.0 717.7,423.8 717.7,423.4 717.7,423.1 717.8,422.8 717.8,422.5 717.8,422.1 717.8,422.0 717.8,421.5 717.8,421.3 717.8,421.0 717.8,420.7 717.8,420.4 717.9,420.1 717.9,419.8 717.9,419.5 717.9,419.2 717.9,418.9 717.9,418.6 717.9,418.3 717.9,418.0 718.0,417.7 718.0,417.5 718.0,417.1 718.0,416.8 718.0,416.5 718.0,416.2 718.0,415.9 718.0,415.6 718.1,415.3 718.1,414.9 718.1,414.7 718.1,414.4 718.1,414.1 718.1,413.8 718.1,413.5 718.1,413.2 718.2,412.9 718.2,412.6 718.2,412.3 718.2,412.0 718.2,411.7 718.2,411.4 718.2,411.0 718.2,410.8 718.3,410.5 718.3,410.2 718.3,409.9 718.3,409.6 718.3,409.2 718.3,409.0 718.3,408.7 718.3,408.4 718.3,408.1 718.4,407.8 718.4,407.6 718.4,407.2 718.4,406.9 718.4,406.6 718.4,406.3 718.4,406.0 718.4,405.7 718.5,405.4 718.5,405.1 718.5,404.8 718.5,404.5 718.5,404.2 718.5,403.9 718.5,403.6 718.5,403.3 718.6,403.0 718.6,402.7 718.6,402.4 718.6,402.1 718.6,401.8 718.6,401.5 718.6,401.2 718.6,400.9 718.7,400.6 718.7,400.3 718.7,400.1 718.7,399.7 718.7,399.4 718.7,399.1 718.7,398.8 718.7,398.5 718.8,398.2 718.8,397.9 718.8,397.6 718.8,397.3 718.8,397.2 718.8,396.7 718.9,396.4 718.9,395.9 718.9,395.8 719.0,395.4 719.0,395.3 719.0,395.0 719.1,394.7 719.1,394.4 719.2,394.0 719.2,393.6 719.2,393.5 719.3,393.1 719.3,392.9 719.3,392.5 719.4,392.4 719.4,391.8 719.4,391.6 719.5,391.3 719.5,391.1 719.5,390.9 719.6,390.3 719.6,390.2 719.7,389.9 719.7,389.4 719.7,389.1 719.8,389.0 719.8,388.8 719.8,388.5 719.9,388.1 719.9,387.7 719.9,387.4 720.0,387.2 720.0,387.0 720.0,386.5 720.1,386.2 720.1,386.0 720.1,385.8 720.2,385.3 720.2,384.9 720.3,384.6 720.3,384.5 720.3,384.2 720.4,383.8 720.4,383.5 720.4,383.3 720.5,383.0 720.5,382.7 720.5,382.5 720.6,381.9 720.6,381.8 720.6,381.6 720.7,381.3 720.7,380.8 720.8,380.7 720.8,380.3 720.8,380.1 720.9,379.6 720.9,379.5 720.9,379.2 721.0,378.8 721.0,377.6 721.2,377.6 721.5,377.4 721.7,377.0 722.0,377.0 722.2,377.8 722.5,376.5 722.7,377.8 723.0,377.5 723.2,377.5 723.5,377.3 723.7,376.9 724.0,377.2 724.2,377.1 724.5,376.2 724.7,376.8 725.0,374.6 725.2,374.4 725.5,374.2 725.7,374.3 726.0,374.6 726.2,374.6 726.5,374.9 726.7,374.9 727.0,373.2 727.2,373.8 727.5,374.0 727.7,373.4 728.0,372.6 728.2,373.6 728.5,372.9 728.7,373.4 729.0,372.8 729.2,373.7 729.5,373.5 729.7,371.3 730.0,372.8 730.2,372.6 730.5,371.4 730.8,370.9 731.1,371.9 731.4,371.5 731.7,372.6 732.0,373.1 732.3,371.6 732.6,371.3 732.9,371.9 733.2,372.4 733.5,372.7 733.8,372.0 734.1,371.3 734.4,371.4 734.7,372.8 735.0,371.8 735.3,370.5 735.6,371.5 735.9,371.0 736.2,372.2 736.5,370.5 736.8,371.1 737.1,370.6 737.4,371.6 737.7,373.0 738.0,371.8 738.3,371.3 738.6,372.8 738.9,370.5 739.2,371.2 739.5,372.4 739.8,370.2 740.1,372.3 740.4,371.1 740.7,370.2 741.0,370.8 741.3,371.4 741.6,371.2 741.9,371.5 742.2,370.2 742.5,370.7 742.8,372.8 743.1,371.3 743.4,371.3 743.7,370.2 744.0,370.8 744.3,372.6 744.6,371.9 744.9,371.4 745.2,370.1 745.5,371.0 745.8,372.1 746.1,371.1 746.4,371.5 746.7,372.4 747.0,371.6 747.3,371.6 747.6,369.9 747.9,369.9 748.2,371.9 748.5,370.9 748.8,372.2 749.1,372.1 749.4,372.3 749.7,370.8 750.0,372.5 750.3,371.8 750.6,372.2 750.9,370.1 751.2,371.8 751.5,370.8 751.8,372.4 752.1,372.4 752.4,370.2 752.7,370.8 753.0,370.4 753.3,370.9 753.6,370.4 753.9,371.4 754.2,369.9 754.5,370.0 754.8,370.8 755.1,369.7 755.4,370.6 755.7,372.0 756.0,372.0 756.3,370.0 756.6,369.5 756.9,371.8 757.2,372.2 757.5,371.1 757.8,369.8 758.1,370.1 758.4,372.0 758.7,372.0 759.0,369.5 759.3,369.9 759.6,370.6 759.9,370.1 760.2,371.5 760.5,370.4 760.8,371.5 761.1,369.8 761.4,370.8 761.7,372.1 762.0,371.3 762.3,369.6 762.6,369.6 762.9,371.1 763.2,370.3 763.5,370.3 763.8,370.6 764.1,370.9 764.4,371.9 764.7,369.9 765.0,370.8 765.3,369.9 765.6,370.7 765.9,371.2 766.2,369.6 766.5,370.5 766.8,371.1 767.1,369.2 767.4,371.3 767.7,370.3 768.0,370.5 768.3,370.8 768.6,371.3 768.9,369.2 769.2,370.5 769.5,369.2 769.8,370.1 770.1,370.0 770.4,369.1 770.7,369.9 771.0,370.3 771.3,370.8 771.6,371.6 771.9,370.0 772.2,370.5 772.5,371.0 772.8,371.6 773.1,371.6 773.4,371.7 773.7,369.8 774.0,369.4 774.3,371.5 774.6,369.1 774.9,370.2 775.2,370.9 775.5,370.4 775.8,370.0 776.1,371.4 776.4,369.7 776.7,370.4 777.0,371.2 777.3,369.2 777.6,369.8 777.9,370.2 778.2,370.4 778.5,369.4 778.8,370.0 779.1,368.9 779.4,369.0 779.7,369.7 780.0,369.1 780.3,371.4 780.6,369.5 780.9,369.5 781.2,370.9 781.5,370.8 781.8,369.4 782.1,371.0 782.4,370.4 782.7,369.7 783.0,370.4 783.3,369.3 783.6,369.4 783.9,371.1 784.2,369.8 784.5,371.1 784.8,369.1 785.1,369.0 785.4,368.7 785.7,370.6 786.0,370.1 786.3,368.6 786.6,368.6 786.9,370.8 787.2,369.9 787.5,370.9 787.8,368.6 788.1,370.1 788.4,368.8 788.7,370.5 789.0,370.2 789.3,370.2 789.6,369.1 789.9,371.2 790.2,368.8 790.5,368.7 790.8,370.4 791.1,368.8 791.4,368.7 791.7,369.8 792.0,370.3 792.3,371.0 792.6,370.5 792.9,368.7 793.2,370.3 793.5,370.9 793.8,368.8 794.1,370.6 794.4,369.2 794.7,369.3 795.0,368.5 795.3,370.6 795.6,369.9 795.9,371.0 796.2,369.8 796.5,368.9 796.8,369.1 797.1,369.2 797.4,371.2 797.7,369.1 798.0,368.7 798.3,369.5 798.6,368.7 798.9,369.7 799.2,370.2 799.5,370.3 799.8,369.0 800.1,368.9 800.4,369.9 800.7,370.4 801.0,369.8 801.3,370.1 801.6,371.1 801.9,368.9 802.2,369.2 802.5,369.9 802.8,370.0 803.1,371.0 803.4,370.1 803.7,370.4 804.0,369.7 804.3,370.7 804.6,370.8 804.9,369.3 805.2,368.8 805.5,369.2 805.8,369.5 806.1,371.0 806.4,369.2 806.7,370.3 807.0,370.3 807.3,371.2 807.6,368.8 807.9,370.7 808.2,369.4 808.5,368.8 808.8,370.3 809.1,370.9 809.4,370.1 809.7,368.6 810.0,371.2 810.4,369.6 810.7,370.3 811.0,370.5 811.3,369.2 811.6,369.6 811.9,369.4 812.2,368.8 812.5,368.7 812.8,370.5 813.1,369.6 813.4,370.9 813.7,368.7 814.0,369.3 814.3,369.0 814.6,371.1 814.9,370.7 815.2,371.0 815.5,369.9 815.8,368.8 816.1,369.7 816.4,369.1 816.7,368.6 817.0,370.1 817.3,369.3 817.6,368.8 817.9,369.9 818.2,371.1 818.5,371.1 818.8,369.8 819.1,368.8 819.4,370.7 819.7,368.8 820.0,370.0 820.3,368.7 820.6,371.3 820.9,370.0 821.2,369.7 821.5,369.3 821.8,370.0 822.1,371.2 822.4,369.7 822.7,369.1 823.0,369.9 823.3,371.1 823.6,369.6 823.9,370.3 824.2,371.1 824.5,369.4 824.8,370.8 825.1,370.0 825.4,368.9 825.7,368.7 826.0,371.1 826.3,369.8 826.6,369.7 826.9,371.1 827.2,370.1 827.5,369.9 827.8,369.3 828.1,370.6 828.4,369.2 828.7,369.8 829.0,370.6 829.3,370.2 829.6,368.9 829.9,369.1 830.2,370.4 830.5,370.5 830.8,368.8 831.1,371.3 831.4,368.9 831.7,369.0 832.0,368.8 832.3,369.7 832.6,370.2 832.9,370.9 833.2,369.0 833.5,370.5 833.8,368.9 834.1,370.2 834.4,369.4 834.7,369.7 835.0,368.9 835.3,370.8 835.6,369.1 835.9,370.9 836.2,369.8 836.5,370.5 836.8,370.7 837.1,370.3 837.4,371.4 837.7,371.5 838.0,369.8 838.3,370.0 838.6,371.5 839.0,369.5 839.3,370.3 839.6,370.3 839.9,371.9 840.2,369.6 840.5,371.1 840.8,371.4 841.1,371.3 841.4,369.3 841.7,372.0 842.0,370.3 842.3,371.8 842.6,371.3 842.9,370.7 843.2,371.9 843.5,371.4 843.8,370.5 844.1,371.7 844.4,371.1 844.7,371.7 845.0,371.4 845.3,372.0 845.6,370.3 845.9,371.3 846.2,370.0 846.5,372.2 846.8,372.2 847.1,372.5 847.4,370.3 847.7,371.8 848.0,371.7 848.3,370.7 848.6,371.0 848.9,373.2 849.2,372.9 849.5,371.3 849.8,373.0 850.1,372.6 850.4,371.9 850.7,372.7 851.0,371.6 851.3,371.8 851.6,371.1 851.9,373.0 852.2,372.8 852.5,373.3 852.8,372.7 853.1,372.6 853.4,372.3 853.7,373.5 854.0,372.6 854.3,373.3 854.6,373.8 854.9,373.0 855.2,373.7 855.5,372.1 855.8,372.7 856.1,374.3 856.4,372.5 856.7,372.3 857.0,372.3 857.3,374.4 857.6,372.7 857.9,373.7 858.2,373.7 858.5,374.8 858.8,374.0 859.1,374.2 859.4,372.9 859.7,375.1 859.9,375.1 860.2,374.7 860.5,375.4 860.8,374.9 861.1,375.2 861.4,375.7 861.7,375.1 862.0,373.5 862.3,376.0 862.6,376.3 862.9,374.2 863.2,373.9 863.5,374.8 863.8,374.0 864.1,374.6 864.4,373.8 864.7,374.0 864.9,373.3 865.2,374.3 865.5,373.8 865.8,374.8 866.1,373.8 866.4,373.1 866.7,375.0 867.0,374.8 867.3,374.1 867.6,372.8 867.8,373.1 868.1,373.1 868.4,372.9 868.7,371.8 869.0,372.9 869.1,373.4 869.2,373.6 869.3,374.1 869.4,374.2 869.4,374.6 869.5,374.9 869.6,375.3 869.7,375.5 869.8,375.4 869.9,375.9 870.0,376.2 870.0,376.7 870.1,376.9 870.2,376.9 870.3,377.0 870.4,377.4 870.5,377.6 870.6,378.3 870.7,378.6 870.8,378.5 870.8,379.0 870.9,379.6 871.0,379.5 871.1,379.5 871.2,380.3 871.3,380.3 871.4,380.5 871.4,380.9 871.5,380.9 871.6,381.3 871.7,381.8 871.8,382.1 871.8,382.4 871.8,382.8 871.9,383.2 871.9,383.5 871.9,383.7 871.9,384.1 871.9,384.2 871.9,384.6 872.0,384.8 872.0,385.1 872.0,385.5 872.0,385.9 872.0,386.1 872.1,386.5 872.1,386.7 872.1,387.1 872.1,387.4 872.1,387.6 872.1,387.9 872.2,388.2 872.2,388.5 872.2,388.9 872.2,389.1 872.2,389.4 872.3,389.8 872.3,390.0 872.3,390.4 872.3,390.6 872.3,391.0 872.4,391.3 872.4,391.5 872.4,391.9 872.4,392.2 872.4,392.4 872.4,392.8 872.5,393.1 872.5,393.3 872.5,393.7 872.5,393.9 872.5,394.3 872.6,394.5 872.6,394.9 872.6,395.3 872.6,395.5 872.6,395.7 872.6,396.1 872.7,396.4 872.7,396.7 872.7,396.8 872.8,396.6 872.8,396.4 872.9,395.8 873.0,396.0 873.1,395.4 873.1,395.1 873.2,394.7 873.3,394.5 873.4,394.7 873.4,393.9 873.5,393.5 873.6,393.4 873.7,393.5 873.7,392.6 873.8,392.5 873.9,392.1 874.0,392.2 874.0,391.7 874.1,391.2 874.2,391.4 874.2,390.7 874.3,390.7 874.4,390.2 874.5,390.2 874.5,389.4 874.6,389.2 874.7,389.0 874.8,388.7 874.8,388.7 874.9,388.2 875.0,387.8 875.1,387.7 875.1,387.6 875.2,387.1 875.3,386.7 875.4,386.6 875.4,386.3 875.5,385.7 875.8,385.9 876.0,385.4 876.3,386.2 876.5,387.4 876.8,386.3 877.0,386.6 877.3,387.3 877.5,387.4 877.8,386.6 878.0,387.4 878.3,387.7 878.3,388.0 878.3,388.3 878.3,388.6 878.3,388.9 878.3,389.2 878.4,389.5 878.4,389.8 878.4,390.1 878.4,390.4 878.4,390.7 878.4,391.0 878.4,391.3 878.4,391.6 878.4,391.9 878.4,392.2 878.5,392.6 878.5,392.9 878.5,393.1 878.5,393.5 878.5,393.7 878.5,394.0 878.5,394.3 878.5,394.7 878.5,394.9 878.5,395.3 878.6,395.5 878.6,395.9 878.6,396.2 878.6,396.5 878.6,396.8 878.6,397.1 878.6,397.4 878.6,397.6 878.6,398.0 878.6,398.3 878.7,398.6 878.7,398.9 878.7,399.2 878.7,399.5 878.7,399.8 878.7,400.1 878.7,400.4 878.7,400.7 878.7,401.0 878.7,401.3 878.8,401.6 878.8,401.9 878.8,402.2 878.8,402.5 878.8,402.8 878.8,403.1 878.8,403.4 878.8,403.7 878.8,404.0 878.8,404.4 878.8,404.6 878.9,404.9 878.9,405.2 878.9,405.5 878.9,405.8 878.9,406.2 878.9,406.4 878.9,406.7 878.9,407.0 878.9,407.3 878.9,407.6 879.0,407.9 879.0,408.3 879.0,408.6 879.0,408.8 879.0,409.2 879.0,409.4 879.0,409.7 879.0,410.0 879.0,410.4 879.0,410.6 879.1,410.9 879.1,411.2 879.1,411.5 879.1,411.9 879.1,412.2 879.1,412.5 879.1,412.8 879.1,413.1 879.1,413.4 879.1,413.7 879.2,414.0 879.2,414.3 879.2,414.6 879.2,414.9 879.2,415.2 879.2,415.5 879.2,415.8 879.2,416.1 879.2,416.4 879.2,416.7 879.2,417.0 879.3,417.3 879.3,417.6 879.3,417.9 879.3,418.2 879.3,418.5 879.3,418.8 879.3,419.1 879.3,419.4 879.3,419.7 879.3,420.0 879.4,420.3 879.4,420.6 879.4,421.0 879.4,421.2 879.4,421.6 879.4,421.8 879.4,422.1 879.4,422.4 879.4,422.7 879.4,423.0 879.5,423.3 879.5,423.7 879.5,424.0 879.5,424.2 879.5,424.5 879.5,424.8 879.5,425.1 879.5,425.4 879.5,425.7 879.5,426.0 879.6,426.3 879.6,426.6 879.6,427.0 879.6,427.3 879.6,427.5 879.6,427.9 879.6,428.1 879.6,428.5 879.6,428.7 879.6,429.1 879.7,429.4 879.7,429.7 879.7,430.0 879.7,430.3 879.7,430.6 879.7,430.9 879.7,431.1 879.7,431.4 879.7,431.8 879.7,432.1 879.7,432.3 879.8,432.7 879.8,432.9 879.8,433.3 879.8,433.6 879.8,433.9 879.8,434.1 879.8,434.5 879.8,434.8 879.8,435.1 879.8,435.4 879.9,435.7 879.9,436.0 879.9,436.3 879.9,436.6 879.9,436.8 879.9,437.2 879.9,437.5 879.9,437.8 879.9,438.0 879.9,438.4 880.0,438.6 880.0,439.0 880.0,439.3 880.0,439.5 880.0,439.9 880.0,440.2 880.0,440.5 880.0,440.8 880.0,441.1 880.0,441.4 880.1,441.7 880.1,442.0 880.1,442.3 880.1,442.6 880.1,442.9 880.1,443.3 880.1,443.5 880.2,443.7 880.2,444.1 880.2,444.4 880.2,444.6 880.3,445.1 880.3,445.4 880.3,445.6 880.4,445.9 880.4,446.3 880.4,446.7 880.4,446.9 880.5,447.0 880.5,447.4 880.5,447.8 880.6,448.0 880.6,448.4 880.6,448.6 880.6,449.0 880.7,449.3 880.7,449.6 880.7,450.0 880.8,450.2 880.8,450.5 880.8,450.8 880.8,451.0 880.9,451.4 880.9,451.7 880.9,451.9 881.0,452.4 881.0,452.5 881.0,452.9 881.0,453.2 881.1,453.6 881.1,453.9 881.1,454.1 881.1,454.5 881.2,454.7 881.2,455.0 881.2,455.4 881.3,455.6 881.3,456.0 881.3,456.3 881.3,456.4 881.4,456.9 881.4,457.2 881.4,457.5 881.5,457.8 881.5,458.1 881.5,458.3 881.5,458.6 881.6,459.0 881.6,459.3 881.6,459.7 881.7,459.9 881.7,460.3 881.7,460.4 881.7,460.8 881.8,461.2 881.8,461.5 881.8,461.7 881.9,461.9 881.9,462.4 881.9,462.6 881.9,462.9 882.0,463.2 882.0,463.9 882.1,463.4 882.2,463.4 882.3,462.6 882.4,462.4 882.5,462.2 882.6,461.9 882.7,461.1 882.8,461.7 882.9,460.8 883.0,460.7 883.1,459.9 883.2,459.8 883.4,460.2 883.5,459.3 883.6,459.0 883.7,459.2 883.8,458.4 883.9,458.5 884.0,458.2 884.1,458.2 884.2,457.5 884.3,457.1 884.4,456.7 884.5,456.5 884.6,455.9 884.7,456.0 884.7,456.3 884.8,456.7 884.8,457.1 884.8,457.4 884.9,457.6 884.9,457.8 884.9,458.2 884.9,458.6 885.0,458.8 885.0,459.0 885.0,459.4 885.1,459.7 885.1,459.9 885.1,460.4 885.2,460.5 885.2,460.9 885.2,461.3 885.3,461.6 885.3,462.0 885.3,462.1 885.4,462.6 885.4,462.6 885.4,463.2 885.4,463.4 885.5,463.5 885.5,463.9 885.5,464.4 885.6,464.7 885.6,465.0 885.6,465.3 885.7,465.4 885.7,465.7 885.7,466.1 885.8,466.5 885.8,466.8 885.8,466.9 885.9,467.5 885.9,467.6 885.9,467.9 885.9,468.1 886.0,468.5 886.0,468.8 886.0,469.1 886.1,469.4 886.1,469.9 886.1,470.0 886.2,470.3 886.2,470.7 886.2,470.9 886.3,471.2 886.3,471.5 886.3,471.8 886.4,472.3 886.4,472.5 886.4,472.8 886.4,473.1 886.5,473.4 886.5,473.7 886.5,474.0 886.6,474.2 886.6,474.2 886.7,474.6 886.8,475.1 886.9,475.0 887.0,475.9 887.1,475.9 887.2,476.1 887.3,476.5 887.4,476.9 887.5,477.0 887.5,477.8 887.6,477.8 887.7,477.7 887.8,478.0 887.9,479.0 888.0,479.0 888.1,479.0 888.2,479.7 888.3,479.4 888.4,480.1 888.4,480.4 888.4,480.7 888.4,481.0 888.4,481.3 888.4,481.6 888.5,481.9 888.5,482.2 888.5,482.5 888.5,482.8 888.5,483.1 888.5,483.4 888.5,483.7 888.5,484.0 888.5,484.3 888.5,484.6 888.6,484.9 888.6,485.2 888.6,485.5 888.6,485.8 888.6,486.1 888.6,486.4 888.6,486.7 888.6,487.0 888.6,487.3 888.6,487.6 888.6,487.9 888.7,488.2 888.7,488.5 888.7,488.8 888.7,489.1 888.7,489.4 888.7,489.7 888.7,490.0 888.7,490.3 888.7,490.6 888.7,490.9 888.8,491.2 888.8,491.5 888.8,491.8 888.8,492.1 888.8,492.4 888.8,492.7 888.8,493.0 888.8,493.3 888.8,493.6 888.8,493.9 888.8,494.2 888.9,494.5 888.9,494.8 888.9,495.1 888.9,495.4 888.9,495.7 888.9,496.0 888.9,496.3 888.9,496.6 888.9,496.9 888.9,497.2 889.0,497.5 889.0,497.8 889.0,498.1 889.0,498.4 889.0,498.7 889.0,499.0 889.0,499.3 889.0,499.6 889.0,499.9 889.0,500.2 889.0,500.5 889.1,500.8 889.1,501.1 889.1,501.4 889.1,501.7 889.1,502.0 889.1,502.3 889.1,502.6 889.1,502.9 889.1,503.2 889.1,503.5 889.2,503.8 889.2,504.1 889.2,504.4 889.2,504.7 889.2,505.0 889.2,505.3 889.2,505.6 889.2,505.9 889.2,506.2 889.2,506.5 889.2,506.8 889.3,507.1 889.3,507.4 889.3,507.7 889.3,508.0 889.3,508.3 889.3,508.6 889.3,508.9 889.3,509.2 889.3,509.5 889.3,509.8 889.4,510.1 889.4,510.4 889.4,510.7 889.4,511.0 889.4,511.3 889.4,511.7 889.5,511.8 889.5,512.4 889.6,512.3 889.6,512.8 889.7,513.2 889.7,513.3 889.8,513.9 889.8,514.0 889.9,514.4 889.9,514.4 890.0,515.0 890.0,515.0 890.1,515.5 890.2,515.9 890.2,516.0 890.3,516.2 890.3,516.5 890.4,517.2 890.4,517.3 890.5,517.5 890.5,517.8 890.6,518.2 890.6,518.3 890.7,518.5 890.8,518.8 890.8,519.3 890.9,519.6 890.9,520.1 891.0,520.2 891.0,520.7 891.1,521.0 891.1,521.1 891.2,521.3 891.2,521.6 891.3,521.9 891.3,522.4 891.4,522.6 891.5,522.7 891.5,523.4 891.6,523.5 891.6,523.9 891.7,524.1 891.7,524.4 891.8,524.7 891.8,524.7 891.9,525.0 891.9,525.6 892.0,525.7 892.0,525.9 892.1,526.9 892.3,526.6 892.5,526.4 892.7,525.5 892.8,524.8 893.0,525.6 893.2,524.4 893.4,525.0 893.6,524.8 893.8,523.8 894.0,523.1 894.2,523.8 894.3,523.9 894.5,523.3 894.7,523.8 894.9,522.5 895.0,523.2 895.1,523.2 895.2,523.6 895.2,523.7 895.3,523.9 895.4,524.5 895.5,524.8 895.6,525.3 895.7,525.4 895.8,525.6 895.9,526.0 896.0,526.3 896.0,526.4 896.1,526.5 896.2,527.2 896.3,527.2 896.4,527.2 896.5,527.6 896.6,528.0 896.6,528.6 896.7,528.9 896.8,529.0 896.9,529.6 897.0,529.5 897.1,529.8 897.2,530.4 897.3,530.6 897.4,530.7 897.4,531.4 897.5,530.9 897.6,531.6 897.7,532.1 897.8,532.4 897.8,532.3 897.9,533.0 898.0,533.1 898.0,533.6 898.1,533.6 898.1,534.0 898.2,534.3 898.3,534.8 898.3,534.7 898.4,535.1 898.5,535.2 898.5,535.8 898.6,535.7 898.7,536.5 898.7,536.4 898.8,536.7 898.8,537.4 898.9,537.5 899.0,537.9 899.0,538.0 899.1,538.2 899.2,538.6 899.2,539.2 899.3,539.0 899.4,539.8 899.4,540.0 899.5,540.2 899.5,540.3 899.6,540.8 899.7,541.2 899.7,541.3 899.8,541.4 899.9,541.9 899.9,542.4 900.0,542.5 900.1,542.5 900.1,542.9 900.2,543.4 900.2,543.4 900.3,543.6 900.4,544.1 900.4,544.4 900.5,544.8 900.6,544.7 900.7,545.4 900.8,545.8 900.9,545.8 901.0,546.3 901.1,546.5 901.2,547.0 901.3,547.1 901.4,547.5 901.4,547.7 901.5,548.2 901.6,547.9 901.7,548.2 901.8,549.1 901.9,549.4 902.0,548.9 902.1,550.0 902.2,550.0 902.3,550.5 902.4,550.7 902.5,550.7 902.6,550.7 902.7,551.6 902.8,551.8 902.9,551.9 903.0,552.0 903.1,552.4 903.2,553.2 903.3,553.0 903.3,553.1 903.4,554.1 903.5,554.3 903.6,553.9 903.7,554.2 903.8,555.0 903.9,554.9 904.0,555.3 904.1,555.8 904.2,555.3 904.5,556.3 904.7,555.4 905.0,555.6 905.3,556.6 905.6,556.4 905.8,557.7 906.1,556.0 906.4,558.0 906.6,556.5 906.9,556.9 907.2,556.4 907.4,557.1 907.7,558.9 908.0,557.5 908.3,558.8 908.5,559.3 908.8,558.7 909.1,557.6 909.3,558.3 909.6,557.8 909.9,558.2 910.1,558.5 910.4,558.2 910.7,559.6 911.0,559.4 911.2,558.9 911.5,558.9 911.8,558.6 912.1,558.5 912.4,559.4 912.7,558.4 913.0,559.7 913.4,558.9 913.7,560.4 914.0,558.9 914.3,560.6 914.6,560.8 914.9,560.8 915.2,558.8 915.5,560.8 915.8,559.5 916.1,560.7 916.5,559.5 916.8,559.7 917.1,558.9 917.4,560.3 917.7,559.2 918.0,560.7 918.3,560.2 918.6,559.4 918.9,558.3 919.2,559.0 919.6,559.4 919.9,559.2 920.2,559.8 920.5,558.2 920.8,559.6" fill="none" stroke="#0b0d0d" stroke-width="2.4" stroke-linejoin="round" stroke-linecap="round"/>
<polygon points="708.9,522.0 710.0,520.5 712.9,520.5 713.9,522.0 713.6,527.2 712.1,527.9 710.0,526.2 709.0,528.3" fill="#0b0d0d" stroke="#0b0d0d" stroke-width="1.0" stroke-linejoin="round"/>
<polygon points="872.6,381.8 874.0,383.9 875.4,386.2 877.3,386.9 877.8,391.3 877.3,396.2 875.2,394.4 873.6,395.7 872.6,389.9" fill="#0b0d0d" stroke="#0b0d0d" stroke-width="1.0" stroke-linejoin="round"/>
<polygon points="882.6,459.2 884.6,457.5 885.8,461.3 887.6,469.4 888.1,476.7 886.9,478.1 884.8,473.6 883.0,467.6" fill="#0b0d0d" stroke="#0b0d0d" stroke-width="1.0" stroke-linejoin="round"/>
<polygon points="891.1,515.9 893.2,520.3 895.0,521.0 896.9,526.7 896.3,529.2 893.7,528.0 891.7,525.3" fill="#0b0d0d" stroke="#0b0d0d" stroke-width="1.0" stroke-linejoin="round"/>
<g transform="translate(6.54,720.70) scale(0.9944,1.0409)"><text font-size="62" fill="#000" stroke="#000" stroke-width="0.35">B</text></g>
<text transform="translate(50.20,987.95) rotate(-90) scale(1.0025,1.0174)" font-size="48" fill="#000" stroke="#000" stroke-width="0.25">EP (mV)</text>
<line x1="137.0" y1="996.6999999999999" x2="872.4" y2="996.6999999999999" stroke="#a3acaa" stroke-width="2.6" stroke-linecap="butt"/>
<line x1="137.0" y1="936.8" x2="872.4" y2="936.8" stroke="#a3acaa" stroke-width="2.6" stroke-linecap="butt"/>
<line x1="137.0" y1="876.8999999999999" x2="872.4" y2="876.8999999999999" stroke="#a3acaa" stroke-width="2.6" stroke-linecap="butt"/>
<line x1="137.0" y1="816.9999999999999" x2="872.4" y2="816.9999999999999" stroke="#a3acaa" stroke-width="2.6" stroke-linecap="butt"/>
<line x1="137.0" y1="757.0999999999999" x2="872.4" y2="757.0999999999999" stroke="#a3acaa" stroke-width="2.6" stroke-linecap="butt"/>
<line x1="128.2" y1="1056.6" x2="137.0" y2="1056.6" stroke="#a8b0b0" stroke-width="1.6" stroke-linecap="butt"/>
<line x1="128.2" y1="996.6999999999999" x2="137.0" y2="996.6999999999999" stroke="#a8b0b0" stroke-width="1.6" stroke-linecap="butt"/>
<line x1="128.2" y1="936.8" x2="137.0" y2="936.8" stroke="#a8b0b0" stroke-width="1.6" stroke-linecap="butt"/>
<line x1="128.2" y1="876.8999999999999" x2="137.0" y2="876.8999999999999" stroke="#a8b0b0" stroke-width="1.6" stroke-linecap="butt"/>
<line x1="128.2" y1="816.9999999999999" x2="137.0" y2="816.9999999999999" stroke="#a8b0b0" stroke-width="1.6" stroke-linecap="butt"/>
<line x1="128.2" y1="757.0999999999999" x2="137.0" y2="757.0999999999999" stroke="#a8b0b0" stroke-width="1.6" stroke-linecap="butt"/>
<line x1="128.2" y1="697.1999999999998" x2="137.0" y2="697.1999999999998" stroke="#a8b0b0" stroke-width="1.6" stroke-linecap="butt"/>
<line x1="138.4" y1="1056.6" x2="138.4" y2="1066.1" stroke="#9aa2a2" stroke-width="1.2" stroke-linecap="butt"/>
<line x1="268.6" y1="1056.6" x2="268.6" y2="1066.1" stroke="#9aa2a2" stroke-width="1.2" stroke-linecap="butt"/>
<line x1="373.1" y1="1056.6" x2="373.1" y2="1066.1" stroke="#9aa2a2" stroke-width="1.2" stroke-linecap="butt"/>
<line x1="505.8" y1="1056.6" x2="505.8" y2="1066.1" stroke="#9aa2a2" stroke-width="1.2" stroke-linecap="butt"/>
<line x1="636.6" y1="1056.6" x2="636.6" y2="1066.1" stroke="#9aa2a2" stroke-width="1.2" stroke-linecap="butt"/>
<line x1="741.0" y1="1056.6" x2="741.0" y2="1066.1" stroke="#9aa2a2" stroke-width="1.2" stroke-linecap="butt"/>
<line x1="872.8" y1="1056.6" x2="872.8" y2="1066.1" stroke="#9aa2a2" stroke-width="1.2" stroke-linecap="butt"/>
<rect x="186.6" y="1044.0" width="64.5" height="12.6" fill="#fe3727"/>
<line x1="219.0" y1="1044.021" x2="219.0" y2="995.8014999999999" stroke="#000" stroke-width="3.6" stroke-linecap="butt"/>
<line x1="212.0" y1="995.8014999999999" x2="226.0" y2="995.8014999999999" stroke="#000" stroke-width="3.6" stroke-linecap="butt"/>
<rect x="288.0" y="882.3" width="65.6" height="174.3" fill="#3c60b1"/>
<line x1="321.0" y1="882.2909999999999" x2="321.0" y2="833.1729999999999" stroke="#000" stroke-width="3.6" stroke-linecap="butt"/>
<line x1="314.0" y1="833.1729999999999" x2="328.0" y2="833.1729999999999" stroke="#000" stroke-width="3.6" stroke-linecap="butt"/>
<rect x="392.8" y="882.3" width="64.7" height="174.3" fill="#0f1212"/>
<line x1="425.6" y1="882.2909999999999" x2="425.6" y2="831.0764999999999" stroke="#000" stroke-width="3.6" stroke-linecap="butt"/>
<line x1="418.6" y1="831.0764999999999" x2="432.6" y2="831.0764999999999" stroke="#000" stroke-width="3.6" stroke-linecap="butt"/>
<rect x="553.5" y="1035.3" width="65.1" height="21.3" fill="#fe3727"/>
<line x1="586.7" y1="1035.3355" x2="586.7" y2="987.1159999999999" stroke="#000" stroke-width="3.6" stroke-linecap="butt"/>
<line x1="579.7" y1="987.1159999999999" x2="593.7" y2="987.1159999999999" stroke="#000" stroke-width="3.6" stroke-linecap="butt"/>
<rect x="656.6" y="778.7" width="64.0" height="277.9" fill="#3c60b1"/>
<line x1="688.6" y1="778.664" x2="688.6" y2="729.2465" stroke="#000" stroke-width="3.6" stroke-linecap="butt"/>
<line x1="681.6" y1="729.2465" x2="695.6" y2="729.2465" stroke="#000" stroke-width="3.6" stroke-linecap="butt"/>
<rect x="761.5" y="772.7" width="63.9" height="283.9" fill="#0f1212"/>
<line x1="793.2" y1="772.674" x2="793.2" y2="723.2565" stroke="#000" stroke-width="3.6" stroke-linecap="butt"/>
<line x1="786.2" y1="723.2565" x2="800.2" y2="723.2565" stroke="#000" stroke-width="3.6" stroke-linecap="butt"/>
<line x1="137.0" y1="697.0" x2="872.4" y2="697.0" stroke="#000" stroke-width="4.6" stroke-linecap="butt"/>
<line x1="137.0" y1="694.7" x2="137.0" y2="1058.3999999999999" stroke="#000" stroke-width="4.6" stroke-linecap="butt"/>
<line x1="872.4" y1="694.7" x2="872.4" y2="1058.3999999999999" stroke="#000" stroke-width="4.4" stroke-linecap="butt"/>
<line x1="134.7" y1="1057.0" x2="874.6" y2="1057.0" stroke="#000" stroke-width="3.7" stroke-linecap="butt"/>
<g transform="translate(73.97,705.81) scale(0.9702,0.9838)"><text font-size="29" fill="#000" stroke="#000" stroke-width="0.35">&#8199;20</text><path d="M 359 0 L 359 -697 L 292 -697 C 255 -635 175 -582 90 -549 L 96 -447 C 170 -472 235 -508 277 -552 L 277 0 Z" fill="#000" stroke="#000" stroke-width="12.07" transform="translate(0.00,0) scale(0.0290)"/></g>
<g transform="translate(74.67,764.82) scale(0.9702,0.9497)"><text font-size="29" fill="#000" stroke="#000" stroke-width="0.35">&#8199;00</text><path d="M 359 0 L 359 -697 L 292 -697 C 255 -635 175 -582 90 -549 L 96 -447 C 170 -472 235 -508 277 -552 L 277 0 Z" fill="#000" stroke="#000" stroke-width="12.07" transform="translate(0.00,0) scale(0.0290)"/></g>
<g transform="translate(87.26,825.12) scale(0.9943,0.9692)"><text font-size="29" fill="#000" stroke="#000" stroke-width="0.35">80</text></g>
<g transform="translate(87.72,887.22) scale(1.0021,0.9692)"><text font-size="29" fill="#000" stroke="#000" stroke-width="0.35">60</text></g>
<g transform="translate(89.37,945.22) scale(0.9491,0.9741)"><text font-size="29" fill="#000" stroke="#000" stroke-width="0.35">40</text></g>
<g transform="translate(88.45,1003.91) scale(0.9977,0.9838)"><text font-size="29" fill="#000" stroke="#000" stroke-width="0.35">20</text></g>
<g transform="translate(104.03,1063.91) scale(1.0316,0.9838)"><text font-size="29" fill="#000" stroke="#000" stroke-width="0.35">0</text></g>
<line x1="141.8" y1="1108.2" x2="265.2" y2="1108.2" stroke="#000" stroke-width="3.2" stroke-linecap="butt"/>
<g transform="translate(270.50,1124.40) scale(0.9904,0.9790)"><text font-size="48" fill="#000" stroke="#000" stroke-width="0.35">P&#8199;2</text><path d="M 359 0 L 359 -697 L 292 -697 C 255 -635 175 -582 90 -549 L 96 -447 C 170 -472 235 -508 277 -552 L 277 0 Z" fill="#000" stroke="#000" stroke-width="7.29" transform="translate(32.02,0) scale(0.0480)"/></g>
<line x1="360.7" y1="1108.0" x2="495.8" y2="1108.0" stroke="#000" stroke-width="3.2" stroke-linecap="butt"/>
<line x1="515.0" y1="1108.3" x2="637.4" y2="1108.3" stroke="#000" stroke-width="3.2" stroke-linecap="butt"/>
<g transform="translate(636.24,1123.90) scale(1.1332,0.9551)"><text font-size="48" fill="#000" stroke="#000" stroke-width="0.35">P2&#8199;</text><path d="M 359 0 L 359 -697 L 292 -697 C 255 -635 175 -582 90 -549 L 96 -447 C 170 -472 235 -508 277 -552 L 277 0 Z" fill="#000" stroke="#000" stroke-width="7.29" transform="translate(58.71,0) scale(0.0480)"/></g>
<line x1="729.7" y1="1108.3" x2="870.7" y2="1108.3" stroke="#000" stroke-width="3.2" stroke-linecap="butt"/>
</svg>
</body></html>
